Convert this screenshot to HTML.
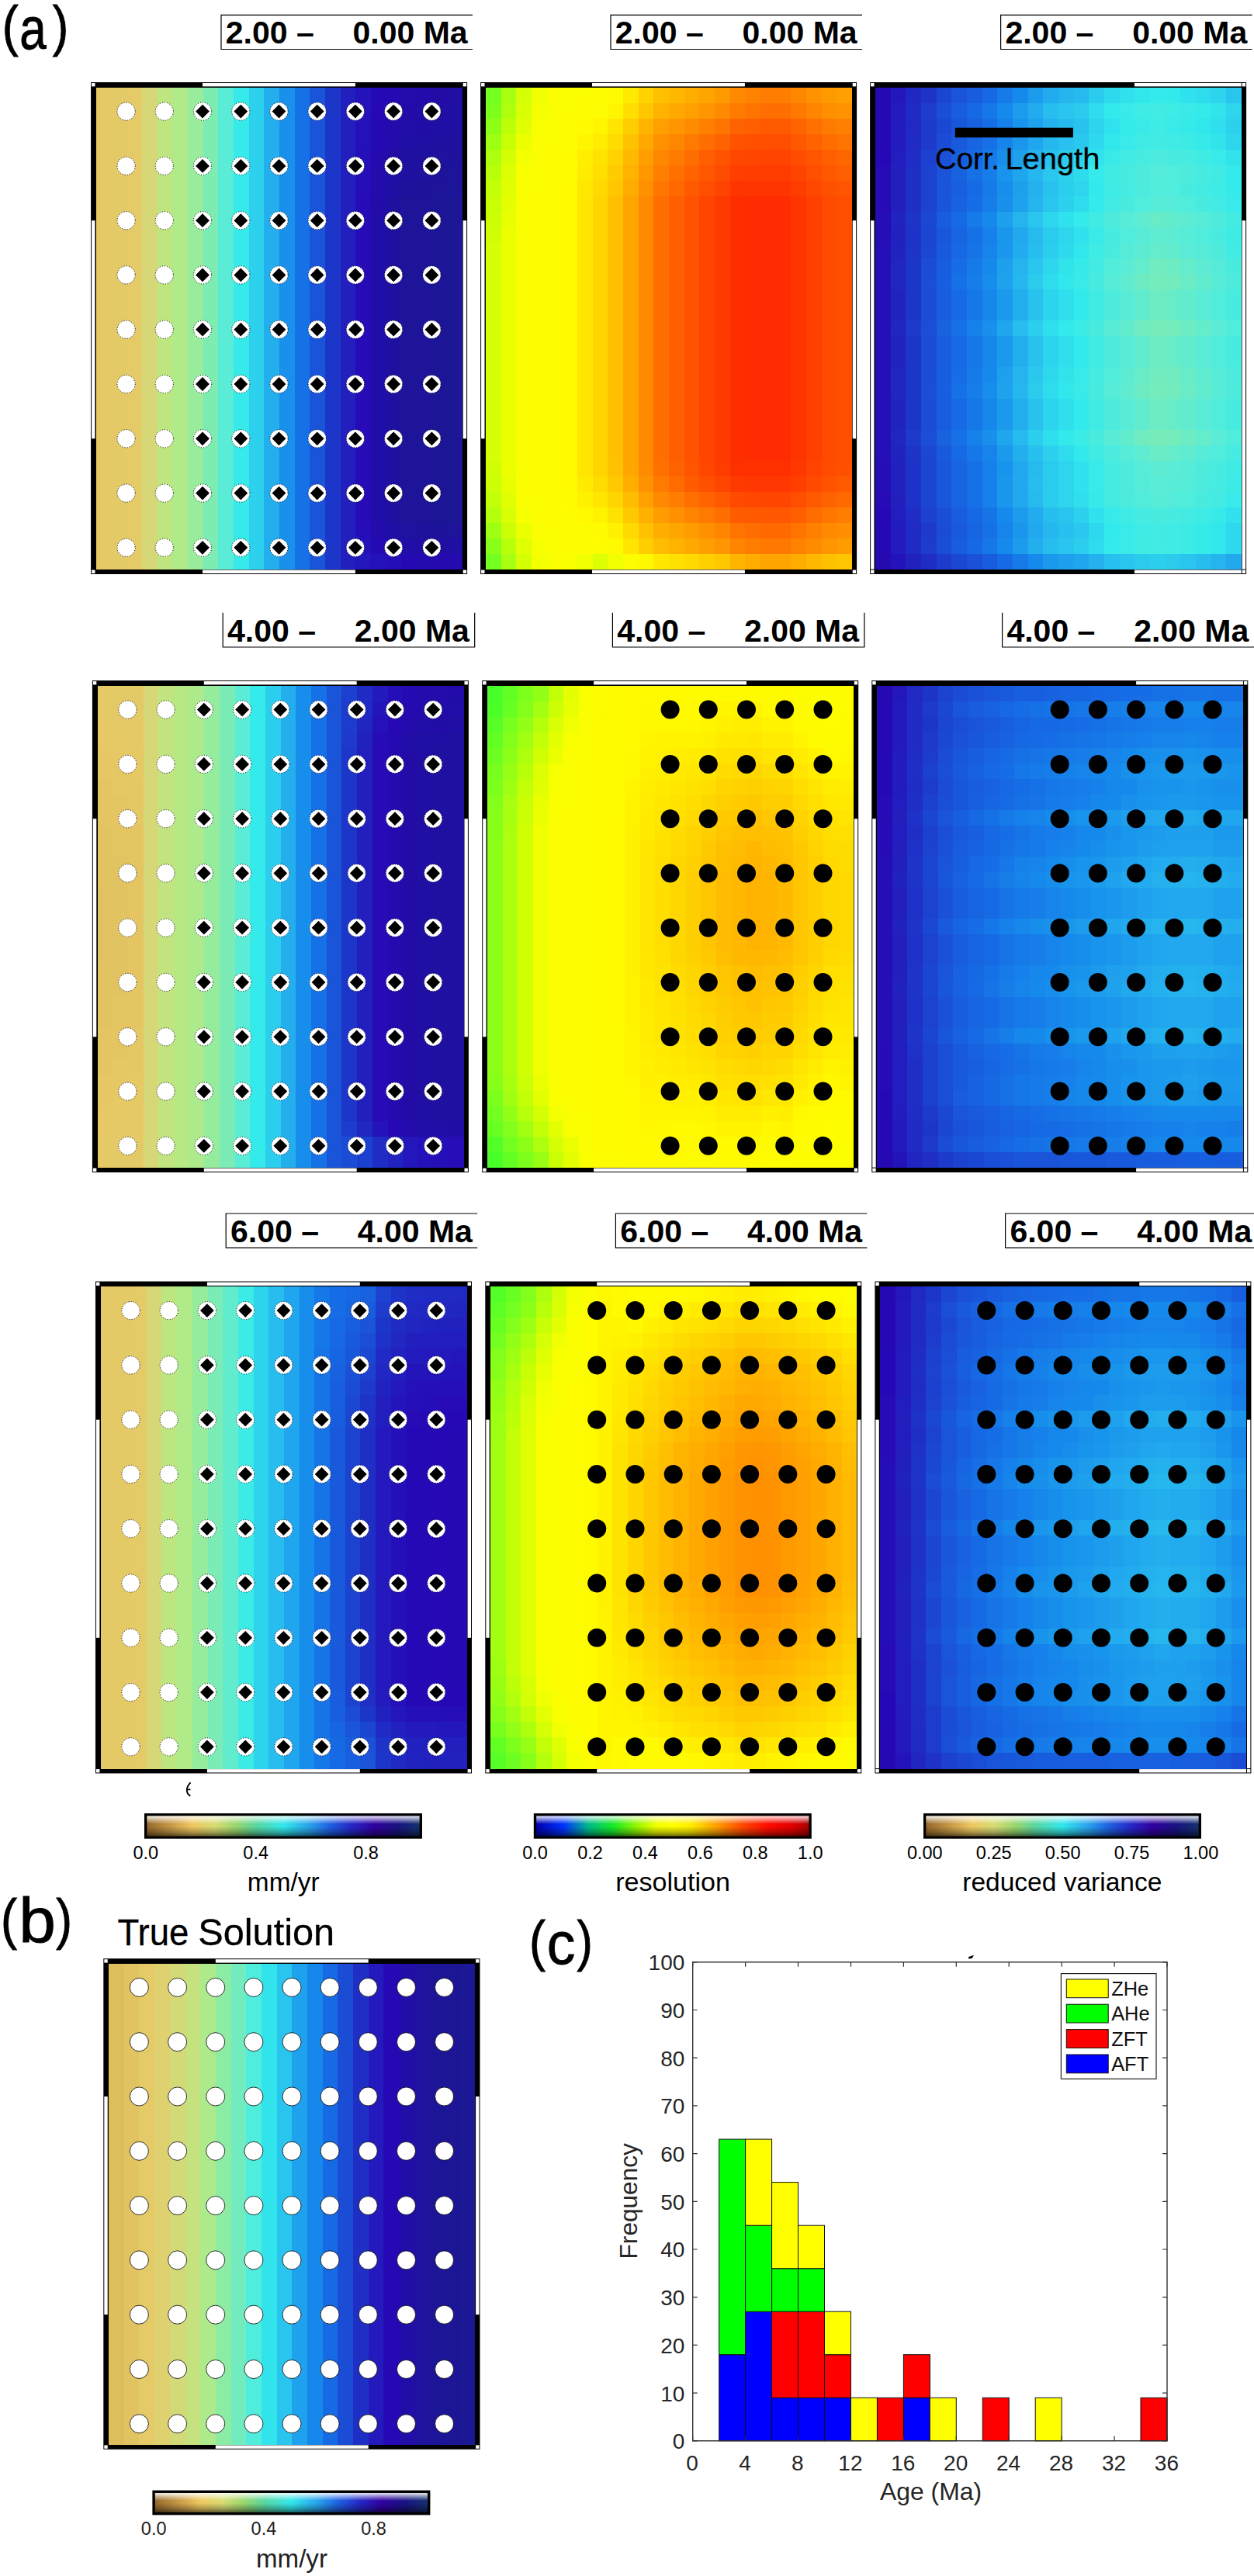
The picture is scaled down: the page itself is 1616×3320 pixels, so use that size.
<!DOCTYPE html>
<html lang="en"><head><meta charset="utf-8"><title>Figure</title><style>html,body{margin:0;padding:0;background:#fff}svg{display:block}text{white-space:pre}</style></head><body><svg width="1616" height="3320" viewBox="0 0 1616 3320"><defs><linearGradient id="shade" x1="0" y1="0" x2="0" y2="1"><stop offset="0" stop-color="#fff" stop-opacity="0.9"/><stop offset="0.15" stop-color="#fff" stop-opacity="0.55"/><stop offset="0.4" stop-color="#fff" stop-opacity="0"/><stop offset="0.52" stop-color="#000" stop-opacity="0"/><stop offset="0.8" stop-color="#000" stop-opacity="0.26"/><stop offset="1" stop-color="#000" stop-opacity="0.56"/></linearGradient><linearGradient id="g1" x1="0" y1="0" x2="1" y2="0"><stop offset="0.000" stop-color="#96692d"/><stop offset="0.100" stop-color="#cda04b"/><stop offset="0.167" stop-color="#eec85f"/><stop offset="0.250" stop-color="#d7dc73"/><stop offset="0.330" stop-color="#96d76e"/><stop offset="0.400" stop-color="#5ad7a0"/><stop offset="0.500" stop-color="#32e8ec"/><stop offset="0.600" stop-color="#28a0ec"/><stop offset="0.667" stop-color="#1e64e4"/><stop offset="0.750" stop-color="#2428c8"/><stop offset="0.833" stop-color="#3200a0"/><stop offset="0.920" stop-color="#181482"/><stop offset="1.000" stop-color="#14326e"/></linearGradient><linearGradient id="g2" x1="0" y1="0" x2="1" y2="0"><stop offset="0.000" stop-color="#0000af"/><stop offset="0.100" stop-color="#0032ff"/><stop offset="0.190" stop-color="#00b98c"/><stop offset="0.280" stop-color="#14eb28"/><stop offset="0.370" stop-color="#96f800"/><stop offset="0.440" stop-color="#f0ff00"/><stop offset="0.500" stop-color="#ffff00"/><stop offset="0.570" stop-color="#ffeb00"/><stop offset="0.660" stop-color="#ffa000"/><stop offset="0.760" stop-color="#ff4600"/><stop offset="0.850" stop-color="#ff0a00"/><stop offset="0.940" stop-color="#e10000"/><stop offset="1.000" stop-color="#aa0000"/></linearGradient><linearGradient id="g3" x1="0" y1="0" x2="1" y2="0"><stop offset="0.000" stop-color="#96692d"/><stop offset="0.100" stop-color="#cda04b"/><stop offset="0.167" stop-color="#eec85f"/><stop offset="0.250" stop-color="#d7dc73"/><stop offset="0.330" stop-color="#96d76e"/><stop offset="0.400" stop-color="#5ad7a0"/><stop offset="0.500" stop-color="#32e8ec"/><stop offset="0.600" stop-color="#28a0ec"/><stop offset="0.667" stop-color="#1e64e4"/><stop offset="0.750" stop-color="#2428c8"/><stop offset="0.833" stop-color="#3200a0"/><stop offset="0.920" stop-color="#181482"/><stop offset="1.000" stop-color="#14326e"/></linearGradient><linearGradient id="g4" x1="0" y1="0" x2="1" y2="0"><stop offset="0.000" stop-color="#96692d"/><stop offset="0.100" stop-color="#cda04b"/><stop offset="0.167" stop-color="#eec85f"/><stop offset="0.250" stop-color="#d7dc73"/><stop offset="0.330" stop-color="#96d76e"/><stop offset="0.400" stop-color="#5ad7a0"/><stop offset="0.500" stop-color="#32e8ec"/><stop offset="0.600" stop-color="#28a0ec"/><stop offset="0.667" stop-color="#1e64e4"/><stop offset="0.750" stop-color="#2428c8"/><stop offset="0.833" stop-color="#3200a0"/><stop offset="0.920" stop-color="#181482"/><stop offset="1.000" stop-color="#14326e"/></linearGradient></defs><rect width="1616" height="3320" fill="#fff"/><rect x="117.1" y="106.0" width="485.0" height="634.0" fill="#000"/>
<rect x="261.0" y="107.0" width="196.9" height="4.4" fill="#fff"/>
<rect x="261.0" y="734.6" width="196.9" height="4.4" fill="#fff"/>
<rect x="118.1" y="284.2" width="4.4" height="281.1" fill="#fff"/>
<rect x="596.7" y="284.2" width="4.4" height="281.1" fill="#fff"/>
<rect x="118.1" y="107.0" width="4.4" height="4.4" fill="#fff"/>
<rect x="118.1" y="734.6" width="4.4" height="4.4" fill="#fff"/>
<rect x="596.7" y="107.0" width="4.4" height="4.4" fill="#fff"/>
<rect x="596.7" y="734.6" width="4.4" height="4.4" fill="#fff"/>
<g shape-rendering="crispEdges">
<path fill="#e5c966" d="M124 113h20v20h-20zM124 133h20v20h-20zM124 153h20v20h-20zM124 173h20v20h-20zM124 193h20v20h-20zM124 213h20v20h-20zM124 233h20v20h-20zM124 253h20v20h-20zM124 273h20v20h-20zM124 293h20v20h-20zM124 313h20v20h-20zM124 333h20v20h-20zM124 353h20v20h-20zM124 373h20v20h-20zM124 393h20v20h-20zM124 413h20v20h-20zM124 433h20v20h-20zM124 453h20v20h-20zM124 473h20v20h-20zM124 493h20v21h-20zM124 514h20v20h-20zM124 534h20v20h-20zM124 554h20v20h-20zM124 574h20v20h-20zM124 594h20v20h-20zM124 614h20v20h-20zM124 634h20v20h-20zM124 654h20v20h-20zM124 674h20v20h-20zM124 694h20v20h-20zM124 714h20v20h-20z"/>
<path fill="#e4ca67" d="M144 113h19v20h-19zM144 133h19v20h-19zM144 153h19v20h-19zM144 173h19v20h-19zM144 193h19v20h-19zM144 213h19v20h-19zM144 233h19v20h-19zM144 253h19v20h-19zM144 273h19v20h-19zM144 293h19v20h-19zM144 313h19v20h-19zM144 333h19v20h-19zM144 353h19v20h-19zM144 373h19v20h-19zM144 393h19v20h-19zM144 413h19v20h-19zM144 433h19v20h-19zM144 453h19v20h-19zM144 473h19v20h-19zM144 493h19v21h-19zM144 514h19v20h-19zM144 534h19v20h-19zM144 554h19v20h-19zM144 574h19v20h-19zM144 594h19v20h-19zM144 614h19v20h-19zM144 634h19v20h-19zM144 654h19v20h-19zM144 674h19v20h-19zM144 694h19v20h-19zM144 714h19v20h-19z"/>
<path fill="#e4cb68" d="M163 113h20v20h-20zM163 133h20v20h-20zM163 153h20v20h-20zM163 173h20v20h-20zM163 193h20v20h-20zM163 213h20v20h-20zM163 233h20v20h-20zM163 253h20v20h-20zM163 273h20v20h-20zM163 293h20v20h-20zM163 313h20v20h-20zM163 333h20v20h-20zM163 353h20v20h-20zM163 373h20v20h-20zM163 393h20v20h-20zM163 413h20v20h-20zM163 433h20v20h-20zM163 453h20v20h-20zM163 473h20v20h-20zM163 493h20v21h-20zM163 514h20v20h-20zM163 534h20v20h-20zM163 554h20v20h-20zM163 574h20v20h-20zM163 594h20v20h-20zM163 614h20v20h-20zM163 634h20v20h-20zM163 654h20v20h-20zM163 674h20v20h-20zM163 694h20v20h-20zM163 714h20v20h-20z"/>
<path fill="#d6d776" d="M183 113h20v20h-20zM183 133h20v20h-20zM183 153h20v20h-20zM183 173h20v20h-20zM183 193h20v20h-20zM183 213h20v20h-20zM183 233h20v20h-20zM183 253h20v20h-20zM183 273h20v20h-20zM183 293h20v20h-20zM183 313h20v20h-20zM183 333h20v20h-20zM183 353h20v20h-20zM183 373h20v20h-20zM183 393h20v20h-20zM183 413h20v20h-20zM183 433h20v20h-20zM183 453h20v20h-20zM183 473h20v20h-20zM183 493h20v21h-20zM183 514h20v20h-20zM183 534h20v20h-20zM183 554h20v20h-20zM183 574h20v20h-20zM183 594h20v20h-20zM183 614h20v20h-20zM183 634h20v20h-20zM183 654h20v20h-20zM183 674h20v20h-20zM183 694h20v20h-20zM183 714h20v20h-20z"/>
<path fill="#bde681" d="M203 113h19v20h-19zM203 133h19v20h-19zM203 153h19v20h-19zM203 173h19v20h-19zM203 193h19v20h-19zM203 213h19v20h-19zM203 233h19v20h-19zM203 253h19v20h-19zM203 273h19v20h-19zM203 293h19v20h-19zM203 313h19v20h-19zM203 333h19v20h-19zM203 353h19v20h-19zM203 373h19v20h-19zM203 393h19v20h-19zM203 413h19v20h-19zM203 433h19v20h-19zM203 453h19v20h-19zM203 473h19v20h-19zM203 493h19v21h-19zM203 514h19v20h-19zM203 534h19v20h-19zM203 554h19v20h-19zM203 574h19v20h-19zM203 594h19v20h-19zM203 614h19v20h-19zM203 634h19v20h-19zM203 654h19v20h-19zM203 674h19v20h-19zM203 694h19v20h-19zM203 714h19v20h-19z"/>
<path fill="#b0ea89" d="M222 113h20v20h-20zM222 133h20v20h-20zM222 153h20v20h-20zM222 173h20v20h-20zM222 193h20v20h-20zM222 213h20v20h-20zM222 233h20v20h-20zM222 253h20v20h-20zM222 273h20v20h-20zM222 293h20v20h-20zM222 313h20v20h-20zM222 333h20v20h-20zM222 353h20v20h-20zM222 373h20v20h-20zM222 393h20v20h-20zM222 413h20v20h-20zM222 433h20v20h-20zM222 453h20v20h-20zM222 473h20v20h-20zM222 493h20v21h-20zM222 514h20v20h-20zM222 534h20v20h-20zM222 554h20v20h-20zM222 574h20v20h-20zM222 594h20v20h-20zM222 614h20v20h-20zM222 634h20v20h-20zM222 654h20v20h-20zM222 674h20v20h-20zM222 694h20v20h-20zM222 714h20v20h-20z"/>
<path fill="#98ec9b" d="M242 113h20v20h-20zM242 133h20v20h-20zM242 153h20v20h-20zM242 173h20v20h-20zM242 193h20v20h-20zM242 213h20v20h-20zM242 233h20v20h-20zM242 253h20v20h-20zM242 273h20v20h-20zM242 293h20v20h-20zM242 313h20v20h-20zM242 333h20v20h-20zM242 353h20v20h-20zM242 373h20v20h-20zM242 393h20v20h-20zM242 413h20v20h-20zM242 433h20v20h-20zM242 453h20v20h-20zM242 473h20v20h-20zM242 493h20v21h-20zM242 514h20v20h-20zM242 534h20v20h-20zM242 554h20v20h-20zM242 574h20v20h-20zM242 594h20v20h-20zM242 614h20v20h-20zM242 634h20v20h-20zM242 654h20v20h-20zM242 674h20v20h-20zM242 694h20v20h-20zM242 714h20v20h-20z"/>
<path fill="#7decb3" d="M262 113h19v20h-19zM262 133h19v20h-19zM262 153h19v20h-19zM262 173h19v20h-19zM262 193h19v20h-19zM262 213h19v20h-19zM262 233h19v20h-19zM262 253h19v20h-19zM262 273h19v20h-19zM262 293h19v20h-19zM262 313h19v20h-19zM262 333h19v20h-19zM262 353h19v20h-19zM262 373h19v20h-19zM262 393h19v20h-19zM262 413h19v20h-19zM262 433h19v20h-19zM262 453h19v20h-19zM262 473h19v20h-19zM262 493h19v21h-19zM262 514h19v20h-19zM262 534h19v20h-19zM262 554h19v20h-19zM262 574h19v20h-19zM262 594h19v20h-19zM262 614h19v20h-19zM262 634h19v20h-19zM262 654h19v20h-19zM262 674h19v20h-19zM262 694h19v20h-19zM262 714h19v20h-19z"/>
<path fill="#5aecd6" d="M281 113h20v20h-20zM281 133h20v20h-20zM281 153h20v20h-20zM281 173h20v20h-20zM281 193h20v20h-20zM281 213h20v20h-20zM281 233h20v20h-20zM281 253h20v20h-20zM281 273h20v20h-20zM281 293h20v20h-20zM281 313h20v20h-20zM281 333h20v20h-20zM281 353h20v20h-20zM281 373h20v20h-20zM281 393h20v20h-20zM281 413h20v20h-20zM281 433h20v20h-20zM281 453h20v20h-20zM281 473h20v20h-20zM281 493h20v21h-20zM281 514h20v20h-20zM281 534h20v20h-20zM281 554h20v20h-20zM281 574h20v20h-20zM281 594h20v20h-20zM281 614h20v20h-20zM281 634h20v20h-20zM281 654h20v20h-20zM281 674h20v20h-20zM281 694h20v20h-20zM281 714h20v20h-20z"/>
<path fill="#36eaea" d="M301 113h20v20h-20zM301 133h20v20h-20zM301 153h20v20h-20zM301 173h20v20h-20zM301 193h20v20h-20zM301 213h20v20h-20zM301 233h20v20h-20zM301 253h20v20h-20zM301 273h20v20h-20zM301 293h20v20h-20zM301 313h20v20h-20zM301 333h20v20h-20zM301 353h20v20h-20zM301 373h20v20h-20zM301 393h20v20h-20zM301 413h20v20h-20zM301 433h20v20h-20zM301 453h20v20h-20zM301 473h20v20h-20zM301 493h20v21h-20zM301 514h20v20h-20zM301 534h20v20h-20zM301 554h20v20h-20zM301 574h20v20h-20zM301 594h20v20h-20zM301 614h20v20h-20zM301 634h20v20h-20zM301 654h20v20h-20zM301 674h20v20h-20zM301 694h20v20h-20zM301 714h20v20h-20z"/>
<path fill="#2dd1ee" d="M321 113h19v20h-19zM321 133h19v20h-19zM321 153h19v20h-19zM321 173h19v20h-19zM321 193h19v20h-19zM321 213h19v20h-19zM321 233h19v20h-19zM321 253h19v20h-19zM321 273h19v20h-19zM321 293h19v20h-19zM321 313h19v20h-19zM321 333h19v20h-19zM321 353h19v20h-19zM321 373h19v20h-19zM321 393h19v20h-19zM321 413h19v20h-19zM321 433h19v20h-19zM321 453h19v20h-19zM321 473h19v20h-19zM321 493h19v21h-19zM321 514h19v20h-19zM321 534h19v20h-19zM321 554h19v20h-19zM321 574h19v20h-19zM321 594h19v20h-19zM321 614h19v20h-19zM321 634h19v20h-19zM321 654h19v20h-19zM321 674h19v20h-19zM321 694h19v20h-19zM321 714h19v20h-19z"/>
<path fill="#23aeee" d="M340 113h20v20h-20zM340 133h20v20h-20zM340 153h20v20h-20zM340 173h20v20h-20zM340 193h20v20h-20zM340 213h20v20h-20zM340 233h20v20h-20zM340 253h20v20h-20zM340 273h20v20h-20zM340 293h20v20h-20zM340 313h20v20h-20zM340 333h20v20h-20zM340 353h20v20h-20zM340 373h20v20h-20zM340 393h20v20h-20zM340 413h20v20h-20zM340 433h20v20h-20zM340 453h20v20h-20zM340 473h20v20h-20zM340 493h20v21h-20zM340 514h20v20h-20zM340 534h20v20h-20zM340 554h20v20h-20zM340 574h20v20h-20zM340 594h20v20h-20zM340 614h20v20h-20zM340 634h20v20h-20zM340 654h20v20h-20zM340 674h20v20h-20zM340 694h20v20h-20zM340 714h20v20h-20z"/>
<path fill="#1890ec" d="M360 113h20v20h-20zM360 133h20v20h-20zM360 153h20v20h-20zM360 173h20v20h-20zM360 193h20v20h-20zM360 213h20v20h-20zM360 233h20v20h-20zM360 253h20v20h-20zM360 273h20v20h-20zM360 293h20v20h-20zM360 313h20v20h-20zM360 333h20v20h-20zM360 353h20v20h-20zM360 373h20v20h-20zM360 393h20v20h-20zM360 413h20v20h-20zM360 433h20v20h-20zM360 453h20v20h-20zM360 473h20v20h-20zM360 493h20v21h-20zM360 514h20v20h-20zM360 534h20v20h-20zM360 554h20v20h-20zM360 574h20v20h-20zM360 594h20v20h-20zM360 614h20v20h-20zM360 634h20v20h-20zM360 654h20v20h-20zM360 674h20v20h-20zM360 694h20v20h-20zM360 714h20v20h-20z"/>
<path fill="#1670e6" d="M380 113h19v20h-19zM380 133h19v20h-19zM380 153h19v20h-19zM380 173h19v20h-19zM380 193h19v20h-19zM380 213h19v20h-19zM380 233h19v20h-19zM380 253h19v20h-19zM380 273h19v20h-19zM380 293h19v20h-19zM380 313h19v20h-19zM380 333h19v20h-19zM380 353h19v20h-19zM380 373h19v20h-19zM380 393h19v20h-19zM380 413h19v20h-19zM380 433h19v20h-19zM380 453h19v20h-19zM380 473h19v20h-19zM380 493h19v21h-19zM380 514h19v20h-19zM380 534h19v20h-19zM380 554h19v20h-19zM380 574h19v20h-19zM380 594h19v20h-19zM380 614h19v20h-19zM380 634h19v20h-19zM380 654h19v20h-19zM380 674h19v20h-19zM380 694h19v20h-19zM380 714h19v20h-19z"/>
<path fill="#1954d9" d="M399 113h20v20h-20zM399 133h20v20h-20zM399 153h20v20h-20zM399 173h20v20h-20zM399 193h20v20h-20zM399 213h20v20h-20zM399 233h20v20h-20zM399 253h20v20h-20zM399 273h20v20h-20zM399 293h20v20h-20zM399 313h20v20h-20zM399 333h20v20h-20zM399 353h20v20h-20zM399 373h20v20h-20zM399 393h20v20h-20zM399 413h20v20h-20zM399 433h20v20h-20zM399 453h20v20h-20zM399 473h20v20h-20zM399 493h20v21h-20zM399 514h20v20h-20zM399 534h20v20h-20zM399 554h20v20h-20zM399 574h20v20h-20zM399 594h20v20h-20zM399 614h20v20h-20zM399 634h20v20h-20zM399 654h20v20h-20zM399 674h20v20h-20zM399 694h20v20h-20zM399 714h20v20h-20z"/>
<path fill="#1d36ca" d="M419 113h20v20h-20zM419 133h20v20h-20zM419 153h20v20h-20zM419 173h20v20h-20zM419 193h20v20h-20zM419 213h20v20h-20zM419 233h20v20h-20zM419 253h20v20h-20zM419 273h20v20h-20zM419 293h20v20h-20zM419 313h20v20h-20zM419 333h20v20h-20zM419 353h20v20h-20zM419 373h20v20h-20zM419 393h20v20h-20zM419 413h20v20h-20zM419 433h20v20h-20zM419 453h20v20h-20zM419 473h20v20h-20zM419 493h20v21h-20zM419 514h20v20h-20zM419 534h20v20h-20zM419 554h20v20h-20zM419 574h20v20h-20zM419 594h20v20h-20zM419 614h20v20h-20zM419 634h20v20h-20zM419 654h20v20h-20zM419 674h20v20h-20zM419 694h20v20h-20zM419 714h20v20h-20z"/>
<path fill="#221fbe" d="M439 113h19v20h-19zM439 133h19v20h-19zM439 153h19v20h-19zM439 173h19v20h-19zM439 193h19v20h-19zM439 213h19v20h-19zM439 233h19v20h-19zM439 253h19v20h-19zM439 273h19v20h-19zM439 293h19v20h-19zM439 313h19v20h-19zM439 333h19v20h-19zM439 353h19v20h-19zM439 373h19v20h-19zM439 393h19v20h-19zM439 413h19v20h-19zM439 433h19v20h-19zM439 453h19v20h-19zM439 473h19v20h-19zM439 493h19v21h-19zM439 514h19v20h-19zM439 534h19v20h-19zM439 554h19v20h-19zM439 574h19v20h-19zM439 594h19v20h-19zM439 614h19v20h-19zM439 634h19v20h-19zM439 654h19v20h-19zM439 674h19v20h-19zM439 694h19v20h-19zM439 714h19v20h-19z"/>
<path fill="#2413ba" d="M458 113h20v20h-20zM458 133h20v20h-20z"/>
<path fill="#2609b6" d="M478 113h20v20h-20z"/>
<path fill="#2509b2" d="M498 113h19v20h-19zM478 173h20v20h-20zM517 714h20v20h-20z"/>
<path fill="#220cab" d="M517 113h20v20h-20zM498 173h19v20h-19zM478 233h20v20h-20z"/>
<path fill="#220ca9" d="M537 113h20v20h-20zM517 133h20v20h-20zM478 253h20v20h-20z"/>
<path fill="#210da6" d="M557 113h19v20h-19zM537 153h20v20h-20zM498 193h19v20h-19zM537 694h20v20h-20z"/>
<path fill="#200ea5" d="M576 113h20v20h-20zM557 133h19v20h-19zM557 694h19v20h-19z"/>
<path fill="#2608b5" d="M478 133h20v20h-20z"/>
<path fill="#240aaf" d="M498 133h19v20h-19zM478 193h20v20h-20zM498 694h19v20h-19zM557 714h19v20h-19z"/>
<path fill="#210da8" d="M537 133h20v20h-20zM517 153h20v20h-20zM478 273h20v20h-20zM478 293h20v20h-20zM478 313h20v20h-20zM478 333h20v20h-20zM478 353h20v20h-20zM478 373h20v20h-20zM478 393h20v20h-20zM478 413h20v20h-20zM478 433h20v20h-20zM478 453h20v20h-20zM478 473h20v20h-20zM478 493h20v21h-20zM478 514h20v20h-20zM478 534h20v20h-20zM478 554h20v20h-20zM478 574h20v20h-20zM478 594h20v20h-20zM478 614h20v20h-20zM478 634h20v20h-20zM478 654h20v20h-20zM517 694h20v20h-20z"/>
<path fill="#200fa4" d="M576 133h20v20h-20zM557 153h19v20h-19zM517 173h20v20h-20zM498 213h19v20h-19zM498 674h19v20h-19z"/>
<path fill="#2411b9" d="M458 153h20v20h-20zM458 173h20v20h-20zM458 694h20v20h-20zM478 714h20v20h-20z"/>
<path fill="#2509b3" d="M478 153h20v20h-20zM478 694h20v20h-20z"/>
<path fill="#230bae" d="M498 153h19v20h-19zM576 714h20v20h-20z"/>
<path fill="#1f0fa3" d="M576 153h20v20h-20zM537 173h20v20h-20zM498 233h19v20h-19zM576 694h20v20h-20z"/>
<path fill="#1f10a1" d="M557 173h19v20h-19zM517 193h20v20h-20z"/>
<path fill="#1f11a0" d="M576 173h20v20h-20zM537 193h20v20h-20zM498 253h19v20h-19z"/>
<path fill="#250fb8" d="M458 193h20v20h-20z"/>
<path fill="#1e129e" d="M557 193h19v20h-19zM537 213h20v20h-20zM517 674h20v20h-20z"/>
<path fill="#1e129d" d="M576 193h20v20h-20zM517 233h20v20h-20zM537 674h20v20h-20z"/>
<path fill="#250db8" d="M458 213h20v20h-20zM458 233h20v20h-20zM458 674h20v20h-20zM498 714h19v20h-19z"/>
<path fill="#230bac" d="M478 213h20v20h-20zM478 674h20v20h-20z"/>
<path fill="#1e119f" d="M517 213h20v20h-20zM498 273h19v20h-19zM498 293h19v20h-19zM498 313h19v20h-19zM498 333h19v20h-19zM498 353h19v20h-19zM498 373h19v20h-19zM498 393h19v20h-19zM498 413h19v20h-19zM498 433h19v20h-19zM498 453h19v20h-19zM498 473h19v20h-19zM498 493h19v21h-19zM498 514h19v20h-19zM498 534h19v20h-19zM498 554h19v20h-19zM498 574h19v20h-19zM498 594h19v20h-19zM498 614h19v20h-19zM498 634h19v20h-19zM498 654h19v20h-19z"/>
<path fill="#1d139b" d="M557 213h19v20h-19zM537 233h20v20h-20zM557 674h19v20h-19z"/>
<path fill="#1d149a" d="M576 213h20v20h-20zM517 253h20v20h-20zM517 273h20v20h-20zM517 293h20v20h-20zM517 313h20v20h-20zM517 333h20v20h-20zM517 353h20v20h-20zM517 373h20v20h-20zM517 393h20v20h-20zM517 413h20v20h-20zM517 433h20v20h-20zM517 453h20v20h-20zM517 473h20v20h-20zM517 493h20v21h-20zM517 514h20v20h-20zM517 534h20v20h-20zM517 554h20v20h-20zM517 574h20v20h-20zM517 594h20v20h-20zM517 614h20v20h-20zM517 634h20v20h-20zM517 654h20v20h-20zM576 674h20v20h-20z"/>
<path fill="#1d1499" d="M557 233h19v20h-19zM537 253h20v20h-20zM537 273h20v20h-20zM537 293h20v20h-20zM537 313h20v20h-20zM537 333h20v20h-20zM537 353h20v20h-20zM537 373h20v20h-20zM537 393h20v20h-20zM537 413h20v20h-20zM537 433h20v20h-20zM537 453h20v20h-20zM537 473h20v20h-20zM537 493h20v21h-20zM537 514h20v20h-20zM537 534h20v20h-20zM537 554h20v20h-20zM537 574h20v20h-20zM537 594h20v20h-20zM537 614h20v20h-20zM537 634h20v20h-20zM537 654h20v20h-20z"/>
<path fill="#1c1598" d="M576 233h20v20h-20zM557 253h19v20h-19z"/>
<path fill="#260bb7" d="M458 253h20v20h-20zM458 273h20v20h-20zM458 293h20v20h-20zM458 313h20v20h-20zM458 333h20v20h-20zM458 353h20v20h-20zM458 373h20v20h-20zM458 393h20v20h-20zM458 413h20v20h-20zM458 433h20v20h-20zM458 453h20v20h-20zM458 473h20v20h-20zM458 493h20v21h-20zM458 514h20v20h-20zM458 534h20v20h-20zM458 554h20v20h-20zM458 574h20v20h-20zM458 594h20v20h-20zM458 614h20v20h-20zM458 634h20v20h-20zM458 654h20v20h-20z"/>
<path fill="#1c1795" d="M576 253h20v20h-20zM576 273h20v20h-20zM576 293h20v20h-20zM576 313h20v20h-20zM576 333h20v20h-20zM576 353h20v20h-20zM576 373h20v20h-20zM576 393h20v20h-20zM576 413h20v20h-20zM576 433h20v20h-20zM576 453h20v20h-20zM576 473h20v20h-20zM576 493h20v21h-20zM576 514h20v20h-20zM576 534h20v20h-20zM576 554h20v20h-20zM576 574h20v20h-20zM576 594h20v20h-20zM576 614h20v20h-20zM576 634h20v20h-20zM576 654h20v20h-20z"/>
<path fill="#1c1697" d="M557 273h19v20h-19zM557 293h19v20h-19zM557 313h19v20h-19zM557 333h19v20h-19zM557 353h19v20h-19zM557 373h19v20h-19zM557 393h19v20h-19zM557 413h19v20h-19zM557 433h19v20h-19zM557 453h19v20h-19zM557 473h19v20h-19zM557 493h19v21h-19zM557 514h19v20h-19zM557 534h19v20h-19zM557 554h19v20h-19zM557 574h19v20h-19zM557 594h19v20h-19zM557 614h19v20h-19zM557 634h19v20h-19zM557 654h19v20h-19z"/>
<path fill="#2317bb" d="M458 714h20v20h-20z"/>
<path fill="#240ab1" d="M537 714h20v20h-20z"/>
</g>
<g fill="#fff" stroke="#000" stroke-width="1" stroke-dasharray="1.1 2.1"><circle cx="162.6" cy="143.6" r="11.6"/><circle cx="211.8" cy="143.6" r="11.6"/><circle cx="261.0" cy="143.6" r="11.6"/><circle cx="310.3" cy="143.6" r="11.6"/><circle cx="359.5" cy="143.6" r="11.6"/><circle cx="408.7" cy="143.6" r="11.6"/><circle cx="457.9" cy="143.6" r="11.6"/><circle cx="507.1" cy="143.6" r="11.6"/><circle cx="556.4" cy="143.6" r="11.6"/><circle cx="162.6" cy="213.9" r="11.6"/><circle cx="211.8" cy="213.9" r="11.6"/><circle cx="261.0" cy="213.9" r="11.6"/><circle cx="310.3" cy="213.9" r="11.6"/><circle cx="359.5" cy="213.9" r="11.6"/><circle cx="408.7" cy="213.9" r="11.6"/><circle cx="457.9" cy="213.9" r="11.6"/><circle cx="507.1" cy="213.9" r="11.6"/><circle cx="556.4" cy="213.9" r="11.6"/><circle cx="162.6" cy="284.2" r="11.6"/><circle cx="211.8" cy="284.2" r="11.6"/><circle cx="261.0" cy="284.2" r="11.6"/><circle cx="310.3" cy="284.2" r="11.6"/><circle cx="359.5" cy="284.2" r="11.6"/><circle cx="408.7" cy="284.2" r="11.6"/><circle cx="457.9" cy="284.2" r="11.6"/><circle cx="507.1" cy="284.2" r="11.6"/><circle cx="556.4" cy="284.2" r="11.6"/><circle cx="162.6" cy="354.4" r="11.6"/><circle cx="211.8" cy="354.4" r="11.6"/><circle cx="261.0" cy="354.4" r="11.6"/><circle cx="310.3" cy="354.4" r="11.6"/><circle cx="359.5" cy="354.4" r="11.6"/><circle cx="408.7" cy="354.4" r="11.6"/><circle cx="457.9" cy="354.4" r="11.6"/><circle cx="507.1" cy="354.4" r="11.6"/><circle cx="556.4" cy="354.4" r="11.6"/><circle cx="162.6" cy="424.7" r="11.6"/><circle cx="211.8" cy="424.7" r="11.6"/><circle cx="261.0" cy="424.7" r="11.6"/><circle cx="310.3" cy="424.7" r="11.6"/><circle cx="359.5" cy="424.7" r="11.6"/><circle cx="408.7" cy="424.7" r="11.6"/><circle cx="457.9" cy="424.7" r="11.6"/><circle cx="507.1" cy="424.7" r="11.6"/><circle cx="556.4" cy="424.7" r="11.6"/><circle cx="162.6" cy="495.0" r="11.6"/><circle cx="211.8" cy="495.0" r="11.6"/><circle cx="261.0" cy="495.0" r="11.6"/><circle cx="310.3" cy="495.0" r="11.6"/><circle cx="359.5" cy="495.0" r="11.6"/><circle cx="408.7" cy="495.0" r="11.6"/><circle cx="457.9" cy="495.0" r="11.6"/><circle cx="507.1" cy="495.0" r="11.6"/><circle cx="556.4" cy="495.0" r="11.6"/><circle cx="162.6" cy="565.3" r="11.6"/><circle cx="211.8" cy="565.3" r="11.6"/><circle cx="261.0" cy="565.3" r="11.6"/><circle cx="310.3" cy="565.3" r="11.6"/><circle cx="359.5" cy="565.3" r="11.6"/><circle cx="408.7" cy="565.3" r="11.6"/><circle cx="457.9" cy="565.3" r="11.6"/><circle cx="507.1" cy="565.3" r="11.6"/><circle cx="556.4" cy="565.3" r="11.6"/><circle cx="162.6" cy="635.6" r="11.6"/><circle cx="211.8" cy="635.6" r="11.6"/><circle cx="261.0" cy="635.6" r="11.6"/><circle cx="310.3" cy="635.6" r="11.6"/><circle cx="359.5" cy="635.6" r="11.6"/><circle cx="408.7" cy="635.6" r="11.6"/><circle cx="457.9" cy="635.6" r="11.6"/><circle cx="507.1" cy="635.6" r="11.6"/><circle cx="556.4" cy="635.6" r="11.6"/><circle cx="162.6" cy="705.8" r="11.6"/><circle cx="211.8" cy="705.8" r="11.6"/><circle cx="261.0" cy="705.8" r="11.6"/><circle cx="310.3" cy="705.8" r="11.6"/><circle cx="359.5" cy="705.8" r="11.6"/><circle cx="408.7" cy="705.8" r="11.6"/><circle cx="457.9" cy="705.8" r="11.6"/><circle cx="507.1" cy="705.8" r="11.6"/><circle cx="556.4" cy="705.8" r="11.6"/></g>
<path fill="#000" d="M252.1 143.6l8.9 -8.9l8.9 8.9l-8.9 8.9zM301.4 143.6l8.9 -8.9l8.9 8.9l-8.9 8.9zM350.6 143.6l8.9 -8.9l8.9 8.9l-8.9 8.9zM399.8 143.6l8.9 -8.9l8.9 8.9l-8.9 8.9zM449.0 143.6l8.9 -8.9l8.9 8.9l-8.9 8.9zM498.2 143.6l8.9 -8.9l8.9 8.9l-8.9 8.9zM547.5 143.6l8.9 -8.9l8.9 8.9l-8.9 8.9zM252.1 213.9l8.9 -8.9l8.9 8.9l-8.9 8.9zM301.4 213.9l8.9 -8.9l8.9 8.9l-8.9 8.9zM350.6 213.9l8.9 -8.9l8.9 8.9l-8.9 8.9zM399.8 213.9l8.9 -8.9l8.9 8.9l-8.9 8.9zM449.0 213.9l8.9 -8.9l8.9 8.9l-8.9 8.9zM498.2 213.9l8.9 -8.9l8.9 8.9l-8.9 8.9zM547.5 213.9l8.9 -8.9l8.9 8.9l-8.9 8.9zM252.1 284.2l8.9 -8.9l8.9 8.9l-8.9 8.9zM301.4 284.2l8.9 -8.9l8.9 8.9l-8.9 8.9zM350.6 284.2l8.9 -8.9l8.9 8.9l-8.9 8.9zM399.8 284.2l8.9 -8.9l8.9 8.9l-8.9 8.9zM449.0 284.2l8.9 -8.9l8.9 8.9l-8.9 8.9zM498.2 284.2l8.9 -8.9l8.9 8.9l-8.9 8.9zM547.5 284.2l8.9 -8.9l8.9 8.9l-8.9 8.9zM252.1 354.4l8.9 -8.9l8.9 8.9l-8.9 8.9zM301.4 354.4l8.9 -8.9l8.9 8.9l-8.9 8.9zM350.6 354.4l8.9 -8.9l8.9 8.9l-8.9 8.9zM399.8 354.4l8.9 -8.9l8.9 8.9l-8.9 8.9zM449.0 354.4l8.9 -8.9l8.9 8.9l-8.9 8.9zM498.2 354.4l8.9 -8.9l8.9 8.9l-8.9 8.9zM547.5 354.4l8.9 -8.9l8.9 8.9l-8.9 8.9zM252.1 424.7l8.9 -8.9l8.9 8.9l-8.9 8.9zM301.4 424.7l8.9 -8.9l8.9 8.9l-8.9 8.9zM350.6 424.7l8.9 -8.9l8.9 8.9l-8.9 8.9zM399.8 424.7l8.9 -8.9l8.9 8.9l-8.9 8.9zM449.0 424.7l8.9 -8.9l8.9 8.9l-8.9 8.9zM498.2 424.7l8.9 -8.9l8.9 8.9l-8.9 8.9zM547.5 424.7l8.9 -8.9l8.9 8.9l-8.9 8.9zM252.1 495.0l8.9 -8.9l8.9 8.9l-8.9 8.9zM301.4 495.0l8.9 -8.9l8.9 8.9l-8.9 8.9zM350.6 495.0l8.9 -8.9l8.9 8.9l-8.9 8.9zM399.8 495.0l8.9 -8.9l8.9 8.9l-8.9 8.9zM449.0 495.0l8.9 -8.9l8.9 8.9l-8.9 8.9zM498.2 495.0l8.9 -8.9l8.9 8.9l-8.9 8.9zM547.5 495.0l8.9 -8.9l8.9 8.9l-8.9 8.9zM252.1 565.3l8.9 -8.9l8.9 8.9l-8.9 8.9zM301.4 565.3l8.9 -8.9l8.9 8.9l-8.9 8.9zM350.6 565.3l8.9 -8.9l8.9 8.9l-8.9 8.9zM399.8 565.3l8.9 -8.9l8.9 8.9l-8.9 8.9zM449.0 565.3l8.9 -8.9l8.9 8.9l-8.9 8.9zM498.2 565.3l8.9 -8.9l8.9 8.9l-8.9 8.9zM547.5 565.3l8.9 -8.9l8.9 8.9l-8.9 8.9zM252.1 635.6l8.9 -8.9l8.9 8.9l-8.9 8.9zM301.4 635.6l8.9 -8.9l8.9 8.9l-8.9 8.9zM350.6 635.6l8.9 -8.9l8.9 8.9l-8.9 8.9zM399.8 635.6l8.9 -8.9l8.9 8.9l-8.9 8.9zM449.0 635.6l8.9 -8.9l8.9 8.9l-8.9 8.9zM498.2 635.6l8.9 -8.9l8.9 8.9l-8.9 8.9zM547.5 635.6l8.9 -8.9l8.9 8.9l-8.9 8.9zM252.1 705.8l8.9 -8.9l8.9 8.9l-8.9 8.9zM301.4 705.8l8.9 -8.9l8.9 8.9l-8.9 8.9zM350.6 705.8l8.9 -8.9l8.9 8.9l-8.9 8.9zM399.8 705.8l8.9 -8.9l8.9 8.9l-8.9 8.9zM449.0 705.8l8.9 -8.9l8.9 8.9l-8.9 8.9zM498.2 705.8l8.9 -8.9l8.9 8.9l-8.9 8.9zM547.5 705.8l8.9 -8.9l8.9 8.9l-8.9 8.9z"/>
<path d="M609.0 19.3H285.0V63.5H609.0" fill="none" stroke="#000" stroke-width="1.2"/>
<text y="56.0" font-family='"Liberation Sans", sans-serif' font-weight="bold" font-size="40.5" fill="#000"><tspan x="290.8" textLength="114" lengthAdjust="spacingAndGlyphs">2.00 –</tspan><tspan x="454.6" textLength="148" lengthAdjust="spacingAndGlyphs">0.00 Ma</tspan></text>
<rect x="619.1" y="106.0" width="485.0" height="634.0" fill="#000"/>
<rect x="763.0" y="107.0" width="196.9" height="4.4" fill="#fff"/>
<rect x="763.0" y="734.6" width="196.9" height="4.4" fill="#fff"/>
<rect x="620.1" y="284.2" width="4.4" height="281.1" fill="#fff"/>
<rect x="1098.7" y="284.2" width="4.4" height="281.1" fill="#fff"/>
<rect x="620.1" y="107.0" width="4.4" height="4.4" fill="#fff"/>
<rect x="620.1" y="734.6" width="4.4" height="4.4" fill="#fff"/>
<rect x="1098.7" y="107.0" width="4.4" height="4.4" fill="#fff"/>
<rect x="1098.7" y="734.6" width="4.4" height="4.4" fill="#fff"/>
<g shape-rendering="crispEdges">
<path fill="#73ff1f" d="M626 113h20v20h-20zM626 714h20v20h-20z"/>
<path fill="#a8ff0f" d="M646 113h19v20h-19zM646 714h19v20h-19z"/>
<path fill="#d4ff04" d="M665 113h20v20h-20zM646 193h19v20h-19zM626 313h20v20h-20zM626 333h20v20h-20zM626 353h20v20h-20zM626 373h20v20h-20zM626 393h20v20h-20zM626 413h20v20h-20zM626 433h20v20h-20zM626 453h20v20h-20zM626 473h20v20h-20zM626 493h20v21h-20zM626 514h20v20h-20zM626 534h20v20h-20zM626 554h20v20h-20zM626 574h20v20h-20zM665 714h20v20h-20z"/>
<path fill="#f0ff01" d="M685 113h20v20h-20zM744 714h20v20h-20zM783 714h20v20h-20z"/>
<path fill="#fbfe00" d="M705 113h39v20h-39zM705 133h19v20h-19zM685 173h20v20h-20zM685 193h20v20h-20zM665 233h20v20h-20zM665 253h20v20h-20zM665 273h20v20h-20zM665 293h20v20h-20zM665 594h20v20h-20zM665 614h20v20h-20zM665 634h20v20h-20zM685 674h20v20h-20zM705 714h19v20h-19z"/>
<path fill="#fcfd00" d="M744 113h39v20h-39zM724 133h20v20h-20zM705 153h19v20h-19zM705 173h19v20h-19zM685 213h20v20h-20zM685 233h20v20h-20zM665 313h20v20h-20zM665 333h20v20h-20zM665 353h20v20h-20zM665 373h20v20h-20zM665 393h20v20h-20zM665 413h20v20h-20zM665 433h20v20h-20zM665 453h20v20h-20zM665 473h20v20h-20zM665 493h20v21h-20zM665 514h20v20h-20zM665 534h20v20h-20zM665 554h20v20h-20zM665 574h20v20h-20zM685 634h20v20h-20zM685 654h20v20h-20zM705 674h39v20h-39zM705 694h39v20h-39zM803 714h20v20h-20z"/>
<path fill="#fefb00" d="M783 113h20v20h-20zM724 193h20v20h-20zM724 213h20v20h-20zM724 634h20v20h-20zM764 674h19v20h-19z"/>
<path fill="#ffea00" d="M803 113h20v20h-20zM744 614h20v20h-20z"/>
<path fill="#ffd200" d="M823 113h19v20h-19zM783 193h20v20h-20z"/>
<path fill="#ffc000" d="M842 113h20v20h-20zM783 253h20v20h-20zM783 273h20v20h-20zM783 293h20v20h-20zM783 313h20v20h-20zM783 333h20v20h-20zM783 353h20v20h-20zM783 373h20v20h-20zM783 393h20v20h-20zM783 413h20v20h-20zM783 433h20v20h-20zM783 453h20v20h-20zM783 473h20v20h-20zM783 493h20v21h-20zM783 514h20v20h-20zM783 534h20v20h-20zM783 554h20v20h-20zM783 574h20v20h-20zM1059 714h19v20h-19z"/>
<path fill="#ffb700" d="M862 113h20v20h-20zM1039 714h20v20h-20z"/>
<path fill="#ffae00" d="M882 113h19v20h-19zM803 614h20v20h-20zM842 674h20v20h-20z"/>
<path fill="#ffa500" d="M901 113h20v20h-20zM803 253h20v20h-20zM803 273h20v20h-20zM803 293h20v20h-20zM803 313h20v20h-20zM803 333h20v20h-20zM803 353h20v20h-20zM803 373h20v20h-20zM803 393h20v20h-20zM803 413h20v20h-20zM803 433h20v20h-20zM803 453h20v20h-20zM803 473h20v20h-20zM803 493h20v21h-20zM803 514h20v20h-20zM803 534h20v20h-20zM803 554h20v20h-20zM803 574h20v20h-20zM862 674h20v20h-20zM980 714h39v20h-39z"/>
<path fill="#ff9900" d="M921 113h20v20h-20zM1059 113h19v20h-19z"/>
<path fill="#ff8900" d="M941 113h19v20h-19zM921 133h20v20h-20zM823 253h19v20h-19zM823 273h19v20h-19zM823 293h19v20h-19zM823 313h19v20h-19zM823 333h19v20h-19zM823 353h19v20h-19zM823 373h19v20h-19zM823 393h19v20h-19zM823 413h19v20h-19zM823 433h19v20h-19zM823 453h19v20h-19zM823 473h19v20h-19zM823 493h19v21h-19zM823 514h19v20h-19zM823 534h19v20h-19zM823 554h19v20h-19zM823 574h19v20h-19zM842 634h20v20h-20zM1059 674h19v20h-19z"/>
<path fill="#ff8200" d="M960 113h20v20h-20zM1019 694h20v20h-20z"/>
<path fill="#ff7d00" d="M980 113h39v20h-39zM862 634h20v20h-20zM1078 654h20v20h-20zM960 694h20v20h-20z"/>
<path fill="#ff8700" d="M1019 113h20v20h-20zM862 173h20v20h-20zM842 193h20v20h-20z"/>
<path fill="#ff9200" d="M1039 113h20v20h-20zM1078 133h20v20h-20zM842 173h20v20h-20zM823 614h19v20h-19z"/>
<path fill="#ffa000" d="M1078 113h20v20h-20zM882 133h19v20h-19zM842 153h20v20h-20zM823 634h19v20h-19z"/>
<path fill="#7dff1c" d="M626 133h20v20h-20z"/>
<path fill="#adff0d" d="M646 133h19v20h-19zM626 193h20v20h-20z"/>
<path fill="#d8ff03" d="M665 133h20v20h-20zM646 654h19v20h-19z"/>
<path fill="#f4ff01" d="M685 133h20v20h-20zM665 193h20v20h-20zM685 714h20v20h-20z"/>
<path fill="#fdfc00" d="M744 133h39v20h-39zM724 153h20v20h-20zM724 173h20v20h-20zM705 193h19v20h-19zM705 213h19v20h-19zM705 233h19v20h-19zM685 253h39v20h-39zM685 273h39v20h-39zM685 293h39v20h-39zM685 313h39v20h-39zM685 333h39v20h-39zM685 353h39v20h-39zM685 373h39v20h-39zM685 393h39v20h-39zM685 413h39v20h-39zM685 433h39v20h-39zM685 453h39v20h-39zM685 473h39v20h-39zM685 493h39v21h-39zM685 514h39v20h-39zM685 534h39v20h-39zM685 554h39v20h-39zM685 574h39v20h-39zM685 594h39v20h-39zM685 614h39v20h-39zM705 634h19v20h-19zM705 654h39v20h-39zM744 674h20v20h-20zM744 694h39v20h-39z"/>
<path fill="#fff500" d="M783 133h20v20h-20zM764 153h19v20h-19zM744 173h20v20h-20z"/>
<path fill="#ffde00" d="M803 133h20v20h-20zM764 213h19v20h-19z"/>
<path fill="#ffc700" d="M823 133h19v20h-19zM783 233h20v20h-20zM921 714h20v20h-20z"/>
<path fill="#ffb200" d="M842 133h20v20h-20zM803 213h20v20h-20zM862 694h20v20h-20z"/>
<path fill="#ffa900" d="M862 133h20v20h-20zM823 173h19v20h-19zM882 694h19v20h-19z"/>
<path fill="#ff9500" d="M901 133h20v20h-20zM862 153h20v20h-20zM921 694h20v20h-20zM1059 694h19v20h-19z"/>
<path fill="#ff7a00" d="M941 133h19v20h-19zM1059 153h19v20h-19zM882 173h19v20h-19zM862 193h20v20h-20zM842 614h20v20h-20zM901 654h20v20h-20z"/>
<path fill="#ff7300" d="M960 133h20v20h-20zM921 153h20v20h-20zM1078 173h20v20h-20zM941 674h19v20h-19zM1019 674h20v20h-20z"/>
<path fill="#ff6e00" d="M980 133h39v20h-39zM901 173h20v20h-20zM882 193h19v20h-19zM842 253h20v20h-20zM842 273h20v20h-20zM842 293h20v20h-20zM842 313h20v20h-20zM842 333h20v20h-20zM842 353h20v20h-20zM842 373h20v20h-20zM842 393h20v20h-20zM842 413h20v20h-20zM842 433h20v20h-20zM842 453h20v20h-20zM842 473h20v20h-20zM842 493h20v21h-20zM842 514h20v20h-20zM842 534h20v20h-20zM842 554h20v20h-20zM842 574h20v20h-20zM921 654h20v20h-20zM960 674h20v20h-20z"/>
<path fill="#ff7800" d="M1019 133h20v20h-20zM980 694h39v20h-39z"/>
<path fill="#ff8400" d="M1039 133h20v20h-20zM882 654h19v20h-19zM921 674h20v20h-20zM941 694h19v20h-19z"/>
<path fill="#ff8e00" d="M1059 133h19v20h-19zM1078 674h20v20h-20z"/>
<path fill="#8dff17" d="M626 153h20v20h-20z"/>
<path fill="#bdff08" d="M646 153h19v20h-19z"/>
<path fill="#e0ff03" d="M665 153h20v20h-20zM646 233h19v20h-19zM646 634h19v20h-19zM665 694h20v20h-20z"/>
<path fill="#faff00" d="M685 153h20v20h-20zM665 213h20v20h-20zM724 714h20v20h-20z"/>
<path fill="#fffa00" d="M744 153h20v20h-20zM724 233h20v20h-20zM724 253h20v20h-20zM724 273h20v20h-20zM724 293h20v20h-20zM724 313h20v20h-20zM724 333h20v20h-20zM724 353h20v20h-20zM724 373h20v20h-20zM724 393h20v20h-20zM724 413h20v20h-20zM724 433h20v20h-20zM724 453h20v20h-20zM724 473h20v20h-20zM724 493h20v21h-20zM724 514h20v20h-20zM724 534h20v20h-20zM724 554h20v20h-20zM724 574h20v20h-20zM724 594h20v20h-20zM724 614h20v20h-20zM744 654h20v20h-20zM783 694h20v20h-20z"/>
<path fill="#ffe500" d="M783 153h20v20h-20zM744 253h20v20h-20zM744 273h20v20h-20zM744 293h20v20h-20zM744 313h20v20h-20zM744 333h20v20h-20zM744 353h20v20h-20zM744 373h20v20h-20zM744 393h20v20h-20zM744 413h20v20h-20zM744 433h20v20h-20zM744 453h20v20h-20zM744 473h20v20h-20zM744 493h20v21h-20zM744 514h20v20h-20zM744 534h20v20h-20zM744 554h20v20h-20zM744 574h20v20h-20zM744 594h20v20h-20zM764 634h19v20h-19zM803 694h20v20h-20z"/>
<path fill="#ffce00" d="M803 153h20v20h-20zM823 694h19v20h-19z"/>
<path fill="#ffb500" d="M823 153h19v20h-19zM941 714h19v20h-19z"/>
<path fill="#ff8c00" d="M882 153h19v20h-19zM823 594h19v20h-19zM1039 694h20v20h-20z"/>
<path fill="#ff8000" d="M901 153h20v20h-20zM1078 153h20v20h-20zM842 213h20v20h-20zM1039 674h20v20h-20z"/>
<path fill="#ff6200" d="M941 153h19v20h-19zM921 173h20v20h-20zM1039 173h20v20h-20zM862 594h20v20h-20zM1059 634h19v20h-19z"/>
<path fill="#ff5f00" d="M960 153h20v20h-20zM901 193h20v20h-20zM1059 193h19v20h-19zM1078 213h20v20h-20zM862 253h20v20h-20zM862 273h20v20h-20zM862 293h20v20h-20zM862 313h20v20h-20zM862 333h20v20h-20zM862 353h20v20h-20zM862 373h20v20h-20zM862 393h20v20h-20zM862 413h20v20h-20zM862 433h20v20h-20zM862 453h20v20h-20zM862 473h20v20h-20zM862 493h20v21h-20zM862 514h20v20h-20zM862 534h20v20h-20zM862 554h20v20h-20zM862 574h20v20h-20zM1019 654h20v20h-20z"/>
<path fill="#ff5a00" d="M980 153h39v20h-39zM882 233h19v20h-19zM1078 614h20v20h-20zM1039 634h20v20h-20zM960 654h20v20h-20z"/>
<path fill="#ff6400" d="M1019 153h20v20h-20zM882 213h19v20h-19zM901 634h20v20h-20z"/>
<path fill="#ff7000" d="M1039 153h20v20h-20zM862 213h20v20h-20zM842 594h20v20h-20zM882 634h19v20h-19z"/>
<path fill="#9dff12" d="M626 173h20v20h-20zM626 674h20v20h-20z"/>
<path fill="#c8ff05" d="M646 173h19v20h-19zM626 253h20v20h-20z"/>
<path fill="#ecff01" d="M665 173h20v20h-20zM646 293h19v20h-19zM646 313h19v20h-19zM646 333h19v20h-19zM646 353h19v20h-19zM646 373h19v20h-19zM646 393h19v20h-19zM646 413h19v20h-19zM646 433h19v20h-19zM646 453h19v20h-19zM646 473h19v20h-19zM646 493h19v21h-19zM646 514h19v20h-19zM646 534h19v20h-19zM646 554h19v20h-19zM646 574h19v20h-19zM646 594h19v20h-19zM665 674h20v20h-20z"/>
<path fill="#ffec00" d="M764 173h19v20h-19zM744 213h20v20h-20z"/>
<path fill="#ffdc00" d="M783 173h20v20h-20zM764 614h19v20h-19z"/>
<path fill="#ffc200" d="M803 173h20v20h-20zM783 594h20v20h-20zM823 674h19v20h-19z"/>
<path fill="#ff5300" d="M941 173h19v20h-19zM921 193h20v20h-20zM882 253h19v20h-19zM882 273h19v20h-19zM882 293h19v20h-19zM882 313h19v20h-19zM882 333h19v20h-19zM882 353h19v20h-19zM882 373h19v20h-19zM882 393h19v20h-19zM882 413h19v20h-19zM882 433h19v20h-19zM882 453h19v20h-19zM882 473h19v20h-19zM882 493h19v21h-19zM882 514h19v20h-19zM882 534h19v20h-19zM882 554h19v20h-19zM882 574h19v20h-19zM1059 614h19v20h-19z"/>
<path fill="#ff5000" d="M960 173h20v20h-20zM1059 233h19v20h-19zM1078 594h20v20h-20zM901 614h20v20h-20z"/>
<path fill="#ff4e00" d="M980 173h39v20h-39zM1039 213h20v20h-20zM901 233h20v20h-20zM1078 253h20v20h-20zM1078 273h20v20h-20zM1078 293h20v20h-20zM1078 313h20v20h-20zM1078 333h20v20h-20zM1078 353h20v20h-20zM1078 373h20v20h-20zM1078 393h20v20h-20zM1078 413h20v20h-20zM1078 433h20v20h-20zM1078 453h20v20h-20zM1078 473h20v20h-20zM1078 493h20v21h-20zM1078 514h20v20h-20zM1078 534h20v20h-20zM1078 554h20v20h-20zM1078 574h20v20h-20zM1019 634h20v20h-20z"/>
<path fill="#ff5800" d="M1019 173h20v20h-20zM901 213h20v20h-20zM1059 213h19v20h-19zM921 634h20v20h-20zM980 654h39v20h-39z"/>
<path fill="#ff6c00" d="M1059 173h19v20h-19zM862 614h20v20h-20zM1039 654h20v20h-20z"/>
<path fill="#ffee00" d="M744 193h20v20h-20z"/>
<path fill="#ffe300" d="M764 193h19v20h-19zM783 654h20v20h-20z"/>
<path fill="#ffb900" d="M803 193h20v20h-20z"/>
<path fill="#ff9e00" d="M823 193h19v20h-19zM901 694h20v20h-20z"/>
<path fill="#ff4700" d="M941 193h19v20h-19zM1039 233h20v20h-20zM901 594h20v20h-20zM960 634h20v20h-20z"/>
<path fill="#ff4500" d="M960 193h20v20h-20zM901 253h20v20h-20zM901 273h20v20h-20zM901 293h20v20h-20zM901 313h20v20h-20zM901 333h20v20h-20zM901 353h20v20h-20zM901 373h20v20h-20zM901 393h20v20h-20zM901 413h20v20h-20zM901 433h20v20h-20zM901 453h20v20h-20zM901 473h20v20h-20zM901 493h20v21h-20zM901 514h20v20h-20zM901 534h20v20h-20zM901 554h20v20h-20zM901 574h20v20h-20zM921 614h20v20h-20zM980 634h39v20h-39z"/>
<path fill="#ff4300" d="M980 193h39v20h-39zM1019 213h20v20h-20zM921 233h20v20h-20zM1039 594h20v20h-20z"/>
<path fill="#ff4c00" d="M1019 193h20v20h-20zM921 213h20v20h-20zM1059 594h19v20h-19z"/>
<path fill="#ff5500" d="M1039 193h20v20h-20zM1078 233h20v20h-20zM882 594h19v20h-19z"/>
<path fill="#ff6600" d="M1078 193h20v20h-20z"/>
<path fill="#b8ff0a" d="M626 213h20v20h-20zM646 694h19v20h-19z"/>
<path fill="#dcff03" d="M646 213h19v20h-19zM764 714h19v20h-19z"/>
<path fill="#ffcc00" d="M783 213h20v20h-20z"/>
<path fill="#ff9700" d="M823 213h19v20h-19z"/>
<path fill="#ff3e00" d="M941 213h19v20h-19zM1019 614h20v20h-20z"/>
<path fill="#ff3c00" d="M960 213h59v20h-59zM1019 233h20v20h-20zM921 594h20v20h-20z"/>
<path fill="#c3ff07" d="M626 233h20v20h-20zM626 634h20v20h-20z"/>
<path fill="#ffe700" d="M744 233h20v20h-20zM842 714h20v20h-20z"/>
<path fill="#ffd900" d="M764 233h19v20h-19zM803 674h20v20h-20zM882 714h19v20h-19z"/>
<path fill="#ffac00" d="M803 233h20v20h-20zM960 714h20v20h-20zM1019 714h20v20h-20z"/>
<path fill="#ff9000" d="M823 233h19v20h-19zM862 654h20v20h-20zM901 674h20v20h-20z"/>
<path fill="#ff7600" d="M842 233h20v20h-20zM1059 654h19v20h-19z"/>
<path fill="#ff6900" d="M862 233h20v20h-20zM1078 634h20v20h-20zM980 674h39v20h-39z"/>
<path fill="#ff3500" d="M941 233h78v20h-78zM1019 253h20v20h-20zM1019 273h20v20h-20zM1019 293h20v20h-20zM1019 313h20v20h-20zM1019 333h20v20h-20zM1019 353h20v20h-20zM1019 373h20v20h-20zM1019 393h20v20h-20zM1019 413h20v20h-20zM1019 433h20v20h-20zM1019 453h20v20h-20zM1019 473h20v20h-20zM1019 493h20v21h-20zM1019 514h20v20h-20zM1019 534h20v20h-20zM1019 554h20v20h-20zM1019 574h20v20h-20z"/>
<path fill="#e4ff02" d="M646 253h19v20h-19z"/>
<path fill="#ffd500" d="M764 253h19v20h-19zM764 273h19v20h-19zM764 293h19v20h-19zM764 313h19v20h-19zM764 333h19v20h-19zM764 353h19v20h-19zM764 373h19v20h-19zM764 393h19v20h-19zM764 413h19v20h-19zM764 433h19v20h-19zM764 453h19v20h-19zM764 473h19v20h-19zM764 493h19v21h-19zM764 514h19v20h-19zM764 534h19v20h-19zM764 554h19v20h-19zM764 574h19v20h-19zM764 594h19v20h-19zM783 634h20v20h-20z"/>
<path fill="#ff3a00" d="M921 253h20v20h-20zM921 273h20v20h-20zM921 293h20v20h-20zM921 313h20v20h-20zM921 333h20v20h-20zM921 353h20v20h-20zM921 373h20v20h-20zM921 393h20v20h-20zM921 413h20v20h-20zM921 433h20v20h-20zM921 453h20v20h-20zM921 473h20v20h-20zM921 493h20v21h-20zM921 514h20v20h-20zM921 534h20v20h-20zM921 554h20v20h-20zM921 574h20v20h-20zM941 614h19v20h-19z"/>
<path fill="#ff2e00" d="M941 253h19v20h-19zM941 273h19v20h-19zM941 293h19v20h-19zM941 313h19v20h-19zM941 333h19v20h-19zM941 353h19v20h-19zM941 373h19v20h-19zM941 393h19v20h-19zM941 413h19v20h-19zM941 433h19v20h-19zM941 453h19v20h-19zM941 473h19v20h-19zM941 493h19v21h-19zM941 514h19v20h-19zM941 534h19v20h-19zM941 554h19v20h-19zM941 574h19v20h-19z"/>
<path fill="#fe2c00" d="M960 253h59v20h-59zM960 273h59v20h-59zM960 293h59v20h-59zM960 313h59v20h-59zM960 333h59v20h-59zM960 353h59v20h-59zM960 373h59v20h-59zM960 393h59v20h-59zM960 413h59v20h-59zM960 433h59v20h-59zM960 453h59v20h-59zM960 473h59v20h-59zM960 493h59v21h-59zM960 514h59v20h-59zM960 534h59v20h-59zM960 554h59v20h-59zM960 574h59v20h-59z"/>
<path fill="#ff4000" d="M1039 253h20v20h-20zM1039 273h20v20h-20zM1039 293h20v20h-20zM1039 313h20v20h-20zM1039 333h20v20h-20zM1039 353h20v20h-20zM1039 373h20v20h-20zM1039 393h20v20h-20zM1039 413h20v20h-20zM1039 433h20v20h-20zM1039 453h20v20h-20zM1039 473h20v20h-20zM1039 493h20v21h-20zM1039 514h20v20h-20zM1039 534h20v20h-20zM1039 554h20v20h-20zM1039 574h20v20h-20z"/>
<path fill="#ff4a00" d="M1059 253h19v20h-19zM1059 273h19v20h-19zM1059 293h19v20h-19zM1059 313h19v20h-19zM1059 333h19v20h-19zM1059 353h19v20h-19zM1059 373h19v20h-19zM1059 393h19v20h-19zM1059 413h19v20h-19zM1059 433h19v20h-19zM1059 453h19v20h-19zM1059 473h19v20h-19zM1059 493h19v21h-19zM1059 514h19v20h-19zM1059 534h19v20h-19zM1059 554h19v20h-19zM1059 574h19v20h-19zM1039 614h20v20h-20zM941 634h19v20h-19z"/>
<path fill="#ccff05" d="M626 273h20v20h-20zM626 614h20v20h-20zM646 674h19v20h-19z"/>
<path fill="#e8ff02" d="M646 273h19v20h-19zM646 614h19v20h-19z"/>
<path fill="#d0ff04" d="M626 293h20v20h-20zM626 594h20v20h-20z"/>
<path fill="#ffa700" d="M803 594h20v20h-20z"/>
<path fill="#ff3000" d="M941 594h78v20h-78z"/>
<path fill="#ff3700" d="M1019 594h20v20h-20zM960 614h59v20h-59z"/>
<path fill="#ffc900" d="M783 614h20v20h-20zM803 654h20v20h-20z"/>
<path fill="#ff5c00" d="M882 614h19v20h-19zM941 654h19v20h-19z"/>
<path fill="#fff100" d="M744 634h20v20h-20zM783 674h20v20h-20z"/>
<path fill="#ffbc00" d="M803 634h20v20h-20zM842 694h20v20h-20z"/>
<path fill="#b3ff0c" d="M626 654h20v20h-20z"/>
<path fill="#f8ff00" d="M665 654h20v20h-20zM685 694h20v20h-20z"/>
<path fill="#fff300" d="M764 654h19v20h-19z"/>
<path fill="#ffb000" d="M823 654h19v20h-19z"/>
<path fill="#ff9c00" d="M842 654h20v20h-20zM882 674h19v20h-19zM1078 694h20v20h-20z"/>
<path fill="#88ff19" d="M626 694h20v20h-20z"/>
<path fill="#fff800" d="M823 714h19v20h-19z"/>
<path fill="#ffe000" d="M862 714h20v20h-20z"/>
<path fill="#ffd000" d="M901 714h20v20h-20z"/>
<path fill="#ffc500" d="M1078 714h20v20h-20z"/>
</g>
<path d="M1111.0 19.3H787.0V63.5H1111.0" fill="none" stroke="#000" stroke-width="1.2"/>
<text y="56.0" font-family='"Liberation Sans", sans-serif' font-weight="bold" font-size="40.5" fill="#000"><tspan x="792.8" textLength="114" lengthAdjust="spacingAndGlyphs">2.00 –</tspan><tspan x="956.6" textLength="148" lengthAdjust="spacingAndGlyphs">0.00 Ma</tspan></text>
<rect x="1121.1" y="106.0" width="485.0" height="634.0" fill="#000"/>
<rect x="1461.9" y="107.0" width="137.8" height="4.4" fill="#fff"/>
<rect x="1461.9" y="734.6" width="137.8" height="4.4" fill="#fff"/>
<rect x="1122.1" y="284.2" width="4.4" height="449.4" fill="#fff"/>
<rect x="1600.7" y="284.2" width="4.4" height="449.4" fill="#fff"/>
<rect x="1122.1" y="107.0" width="4.4" height="4.4" fill="#fff"/>
<rect x="1122.1" y="734.6" width="4.4" height="4.4" fill="#fff"/>
<rect x="1600.7" y="107.0" width="4.4" height="4.4" fill="#fff"/>
<rect x="1600.7" y="734.6" width="4.4" height="4.4" fill="#fff"/>
<g shape-rendering="crispEdges">
<path fill="#2509b3" d="M1128 113h20v20h-20zM1128 133h20v20h-20z"/>
<path fill="#2317bb" d="M1148 113h19v20h-19z"/>
<path fill="#2027c2" d="M1167 113h20v20h-20z"/>
<path fill="#1e34c9" d="M1187 113h20v20h-20zM1167 273h20v20h-20zM1167 313h20v20h-20zM1167 574h20v20h-20z"/>
<path fill="#1b46d2" d="M1207 113h19v20h-19zM1187 293h20v20h-20zM1187 594h20v20h-20zM1187 614h20v20h-20zM1187 634h20v20h-20z"/>
<path fill="#1954d9" d="M1226 113h20v20h-20zM1207 213h19v20h-19zM1207 233h19v20h-19zM1207 253h19v20h-19z"/>
<path fill="#185ddd" d="M1246 113h20v20h-20zM1226 133h20v20h-20zM1207 273h19v20h-19zM1207 333h19v20h-19zM1207 373h19v20h-19zM1207 393h19v20h-19zM1207 433h19v20h-19zM1207 453h19v20h-19zM1207 514h19v20h-19zM1207 534h19v20h-19zM1226 654h20v20h-20zM1226 694h20v20h-20zM1266 714h19v20h-19z"/>
<path fill="#1768e3" d="M1266 113h19v20h-19zM1246 133h20v20h-20zM1226 313h20v20h-20zM1246 654h20v20h-20zM1246 694h20v20h-20z"/>
<path fill="#167ae8" d="M1285 113h20v20h-20zM1266 193h19v20h-19zM1266 233h19v20h-19zM1246 273h20v20h-20zM1246 333h20v20h-20zM1246 473h20v20h-20zM1305 714h20v20h-20z"/>
<path fill="#168aec" d="M1305 113h20v20h-20zM1285 133h20v20h-20zM1266 273h19v20h-19zM1266 333h19v20h-19zM1266 473h19v20h-19zM1285 654h20v20h-20zM1285 694h20v20h-20zM1325 714h19v20h-19z"/>
<path fill="#1d9ced" d="M1325 113h19v20h-19zM1305 133h20v20h-20zM1305 654h20v20h-20zM1305 694h20v20h-20z"/>
<path fill="#22abee" d="M1344 113h20v20h-20zM1325 133h19v20h-19zM1305 313h20v20h-20zM1325 654h19v20h-19z"/>
<path fill="#25b4ee" d="M1364 113h20v20h-20zM1325 253h19v20h-19zM1305 273h20v20h-20zM1305 333h20v20h-20zM1305 473h20v20h-20zM1561 714h19v20h-19z"/>
<path fill="#26baee" d="M1384 113h19v20h-19zM1364 153h20v20h-20zM1325 293h19v20h-19zM1305 554h20v20h-20zM1325 594h19v20h-19zM1325 634h19v20h-19z"/>
<path fill="#2bcbee" d="M1403 113h20v20h-20zM1384 133h19v20h-19zM1364 193h20v20h-20zM1344 293h20v20h-20zM1325 353h19v20h-19zM1325 493h19v21h-19zM1344 594h20v20h-20zM1344 614h20v20h-20zM1344 634h20v20h-20zM1462 714h20v20h-20zM1502 714h19v20h-19z"/>
<path fill="#2ed9ed" d="M1423 113h20v20h-20zM1403 173h20v20h-20zM1364 313h20v20h-20zM1344 473h20v20h-20zM1403 674h20v20h-20zM1580 674h20v20h-20zM1580 694h20v20h-20z"/>
<path fill="#30e2ed" d="M1443 113h19v20h-19zM1521 113h20v20h-20zM1423 153h20v20h-20zM1364 273h20v20h-20zM1384 293h19v20h-19zM1384 594h19v20h-19zM1384 614h19v20h-19zM1403 654h20v20h-20zM1580 654h20v20h-20z"/>
<path fill="#31e7ec" d="M1462 113h20v20h-20zM1541 153h20v20h-20zM1423 173h20v20h-20zM1384 313h19v20h-19zM1364 353h20v20h-20zM1364 493h20v21h-20zM1561 674h19v20h-19zM1561 694h19v20h-19z"/>
<path fill="#34eaeb" d="M1482 113h20v20h-20zM1541 133h20v20h-20zM1443 153h19v20h-19zM1403 213h20v20h-20zM1580 213h20v20h-20zM1580 233h20v20h-20zM1403 253h20v20h-20zM1384 273h19v20h-19zM1423 694h20v20h-20z"/>
<path fill="#32eaec" d="M1502 113h19v20h-19zM1423 133h20v20h-20zM1403 233h20v20h-20zM1384 373h19v20h-19zM1384 393h19v20h-19zM1364 413h20v20h-20zM1384 433h19v20h-19zM1384 453h19v20h-19zM1384 514h19v20h-19zM1384 534h19v20h-19zM1364 554h20v20h-20zM1384 574h19v20h-19zM1423 674h20v20h-20z"/>
<path fill="#2fdced" d="M1541 113h20v20h-20zM1403 133h20v20h-20zM1384 213h19v20h-19zM1384 253h19v20h-19zM1344 353h20v20h-20zM1344 493h20v21h-20zM1364 574h20v20h-20zM1403 694h20v20h-20z"/>
<path fill="#2dd4ee" d="M1561 113h19v20h-19zM1403 153h20v20h-20zM1384 193h19v20h-19zM1344 373h20v20h-20zM1344 393h20v20h-20zM1344 433h20v20h-20zM1344 453h20v20h-20zM1344 514h20v20h-20zM1344 534h20v20h-20z"/>
<path fill="#2ac5ee" d="M1580 113h20v20h-20zM1364 133h20v20h-20zM1344 253h20v20h-20zM1325 273h19v20h-19zM1325 333h19v20h-19zM1364 654h20v20h-20zM1364 694h20v20h-20zM1443 714h19v20h-19zM1521 714h20v20h-20z"/>
<path fill="#231bbd" d="M1148 133h19v20h-19zM1148 153h19v20h-19zM1148 173h19v20h-19zM1148 674h19v20h-19zM1148 694h19v20h-19z"/>
<path fill="#1f2bc4" d="M1167 133h20v20h-20zM1167 173h20v20h-20zM1167 674h20v20h-20zM1167 694h20v20h-20z"/>
<path fill="#1d3ccd" d="M1187 133h20v20h-20zM1187 694h20v20h-20zM1207 714h19v20h-19z"/>
<path fill="#1a4ed6" d="M1207 133h19v20h-19zM1187 353h20v20h-20zM1187 413h20v20h-20zM1187 493h20v21h-20zM1187 554h20v20h-20zM1207 654h19v20h-19zM1207 694h19v20h-19z"/>
<path fill="#1677e8" d="M1266 133h19v20h-19zM1246 373h20v20h-20zM1246 393h20v20h-20zM1246 433h20v20h-20zM1246 453h20v20h-20zM1246 514h20v20h-20zM1246 534h20v20h-20zM1246 574h20v20h-20zM1266 694h19v20h-19z"/>
<path fill="#27bdee" d="M1344 133h20v20h-20zM1325 313h19v20h-19zM1305 413h20v20h-20zM1325 614h19v20h-19zM1344 654h20v20h-20zM1344 694h20v20h-20zM1541 714h20v20h-20z"/>
<path fill="#38eae9" d="M1443 133h19v20h-19zM1443 173h19v20h-19zM1561 193h19v20h-19zM1580 253h20v20h-20zM1384 473h19v20h-19zM1403 594h20v20h-20zM1403 614h20v20h-20zM1580 634h20v20h-20zM1423 654h20v20h-20zM1443 674h19v20h-19z"/>
<path fill="#3eebe5" d="M1462 133h20v20h-20zM1502 133h19v20h-19zM1482 153h20v20h-20zM1462 173h20v20h-20zM1423 233h20v20h-20zM1561 233h19v20h-19zM1580 293h20v20h-20zM1403 313h20v20h-20zM1580 594h20v20h-20zM1443 654h19v20h-19zM1541 654h20v20h-20zM1462 674h20v20h-20z"/>
<path fill="#42ebe3" d="M1482 133h20v20h-20zM1482 173h20v20h-20zM1443 193h19v20h-19zM1423 253h20v20h-20zM1561 253h19v20h-19zM1580 313h20v20h-20zM1482 674h20v20h-20z"/>
<path fill="#3aeae8" d="M1521 133h20v20h-20zM1462 153h20v20h-20zM1502 153h19v20h-19zM1423 193h20v20h-20zM1403 293h20v20h-20zM1384 353h19v20h-19zM1384 493h19v21h-19zM1443 694h19v20h-19z"/>
<path fill="#31e4ec" d="M1561 133h19v20h-19zM1561 173h19v20h-19zM1403 193h20v20h-20zM1580 193h20v20h-20zM1364 333h20v20h-20zM1364 473h20v20h-20z"/>
<path fill="#2ed6ed" d="M1580 133h20v20h-20zM1580 173h20v20h-20zM1384 233h19v20h-19zM1344 273h20v20h-20zM1364 293h20v20h-20zM1344 333h20v20h-20zM1364 594h20v20h-20zM1364 614h20v20h-20zM1364 634h20v20h-20z"/>
<path fill="#2608b5" d="M1128 153h20v20h-20zM1128 173h20v20h-20zM1128 674h20v20h-20zM1128 694h20v20h-20z"/>
<path fill="#2029c4" d="M1167 153h20v20h-20z"/>
<path fill="#1d3acc" d="M1187 153h20v20h-20zM1187 173h20v20h-20zM1167 413h20v20h-20zM1167 554h20v20h-20zM1187 674h20v20h-20z"/>
<path fill="#1b48d3" d="M1207 153h19v20h-19zM1187 273h20v20h-20zM1187 313h20v20h-20zM1187 574h20v20h-20zM1226 714h20v20h-20z"/>
<path fill="#1957da" d="M1226 153h20v20h-20zM1207 293h19v20h-19zM1207 594h19v20h-19zM1207 614h19v20h-19zM1207 634h19v20h-19z"/>
<path fill="#1862e0" d="M1246 153h20v20h-20zM1226 213h20v20h-20zM1226 253h20v20h-20zM1207 413h19v20h-19zM1207 554h19v20h-19z"/>
<path fill="#166de6" d="M1266 153h19v20h-19zM1246 253h20v20h-20zM1226 333h20v20h-20zM1226 473h20v20h-20z"/>
<path fill="#1681ea" d="M1285 153h20v20h-20zM1266 293h19v20h-19zM1246 413h20v20h-20zM1246 554h20v20h-20zM1266 594h19v20h-19zM1266 614h19v20h-19zM1266 634h19v20h-19z"/>
<path fill="#1994ec" d="M1305 153h20v20h-20zM1285 213h20v20h-20zM1285 594h20v20h-20z"/>
<path fill="#1fa2ee" d="M1325 153h19v20h-19zM1305 253h20v20h-20zM1285 353h20v20h-20zM1285 493h20v21h-20z"/>
<path fill="#24b1ee" d="M1344 153h20v20h-20zM1325 193h19v20h-19zM1325 233h19v20h-19zM1403 714h20v20h-20z"/>
<path fill="#29c2ee" d="M1384 153h19v20h-19zM1344 233h20v20h-20zM1325 373h19v20h-19zM1325 393h19v20h-19zM1325 433h19v20h-19zM1325 453h19v20h-19zM1325 514h19v20h-19zM1325 534h19v20h-19z"/>
<path fill="#36eaea" d="M1521 153h20v20h-20zM1541 173h20v20h-20zM1384 333h19v20h-19zM1403 634h20v20h-20zM1561 654h19v20h-19zM1541 674h20v20h-20zM1541 694h20v20h-20z"/>
<path fill="#30dfed" d="M1561 153h19v20h-19zM1364 373h20v20h-20zM1364 393h20v20h-20zM1344 413h20v20h-20zM1364 433h20v20h-20zM1364 453h20v20h-20zM1364 514h20v20h-20zM1364 534h20v20h-20zM1344 554h20v20h-20zM1384 634h19v20h-19z"/>
<path fill="#2dd1ee" d="M1580 153h20v20h-20zM1364 213h20v20h-20zM1364 253h20v20h-20zM1344 574h20v20h-20zM1384 654h19v20h-19z"/>
<path fill="#1b4cd5" d="M1207 173h19v20h-19zM1187 333h20v20h-20zM1187 373h20v20h-20zM1187 393h20v20h-20zM1187 433h20v20h-20zM1187 453h20v20h-20zM1187 473h20v20h-20zM1187 514h20v20h-20zM1187 534h20v20h-20zM1207 674h19v20h-19z"/>
<path fill="#195adc" d="M1226 173h20v20h-20zM1207 313h19v20h-19zM1207 574h19v20h-19zM1226 674h20v20h-20z"/>
<path fill="#1765e1" d="M1246 173h20v20h-20zM1226 293h20v20h-20zM1226 594h20v20h-20zM1226 614h20v20h-20zM1226 634h20v20h-20zM1246 674h20v20h-20z"/>
<path fill="#1670e6" d="M1266 173h19v20h-19zM1246 213h20v20h-20zM1246 293h20v20h-20zM1226 353h20v20h-20zM1226 413h20v20h-20zM1226 493h20v21h-20zM1226 554h20v20h-20zM1246 594h20v20h-20zM1246 614h20v20h-20zM1246 634h20v20h-20zM1266 674h19v20h-19z"/>
<path fill="#1684ea" d="M1285 173h20v20h-20zM1266 313h19v20h-19zM1266 574h19v20h-19zM1285 674h20v20h-20z"/>
<path fill="#1a96ed" d="M1305 173h20v20h-20zM1285 293h20v20h-20zM1285 313h20v20h-20zM1285 614h20v20h-20zM1285 634h20v20h-20zM1305 674h20v20h-20z"/>
<path fill="#20a6ee" d="M1325 173h19v20h-19zM1305 213h20v20h-20zM1285 413h20v20h-20zM1285 554h20v20h-20zM1384 714h19v20h-19z"/>
<path fill="#26b7ee" d="M1344 173h20v20h-20zM1325 213h19v20h-19zM1305 353h20v20h-20zM1305 493h20v21h-20zM1344 674h20v20h-20z"/>
<path fill="#28c0ee" d="M1364 173h20v20h-20zM1344 193h20v20h-20zM1325 574h19v20h-19zM1364 674h20v20h-20zM1423 714h20v20h-20z"/>
<path fill="#2ac8ee" d="M1384 173h19v20h-19zM1344 213h20v20h-20zM1325 473h19v20h-19zM1384 674h19v20h-19z"/>
<path fill="#40ebe4" d="M1502 173h19v20h-19zM1541 193h20v20h-20zM1423 213h20v20h-20zM1561 213h19v20h-19zM1403 273h20v20h-20zM1403 373h20v20h-20zM1403 393h20v20h-20zM1403 433h20v20h-20zM1403 453h20v20h-20zM1403 514h20v20h-20zM1403 534h20v20h-20zM1403 574h20v20h-20zM1502 674h19v20h-19zM1462 694h20v20h-20zM1502 694h19v20h-19z"/>
<path fill="#3ceae6" d="M1521 173h20v20h-20zM1384 413h19v20h-19zM1384 554h19v20h-19zM1580 614h20v20h-20zM1521 674h20v20h-20zM1521 694h20v20h-20z"/>
<path fill="#2609b6" d="M1128 193h20v20h-20zM1128 654h20v20h-20z"/>
<path fill="#221dbe" d="M1148 193h19v20h-19zM1148 654h19v20h-19z"/>
<path fill="#1f2dc6" d="M1167 193h20v20h-20zM1167 654h20v20h-20zM1187 714h20v20h-20z"/>
<path fill="#1c40cf" d="M1187 193h20v20h-20zM1187 654h20v20h-20z"/>
<path fill="#1a51d8" d="M1207 193h19v20h-19zM1246 714h20v20h-20z"/>
<path fill="#185fdf" d="M1226 193h20v20h-20zM1226 233h20v20h-20zM1207 353h19v20h-19zM1207 473h19v20h-19zM1207 493h19v21h-19z"/>
<path fill="#166be4" d="M1246 193h20v20h-20zM1246 233h20v20h-20zM1226 273h20v20h-20zM1226 373h20v20h-20zM1226 393h20v20h-20zM1226 433h20v20h-20zM1226 453h20v20h-20zM1226 514h20v20h-20zM1226 534h20v20h-20zM1226 574h20v20h-20zM1285 714h20v20h-20z"/>
<path fill="#178eec" d="M1285 193h20v20h-20zM1285 233h20v20h-20zM1266 353h19v20h-19zM1266 493h19v21h-19z"/>
<path fill="#1ea0ed" d="M1305 193h20v20h-20zM1305 233h20v20h-20zM1285 273h20v20h-20zM1285 333h20v20h-20zM1285 473h20v20h-20zM1364 714h20v20h-20z"/>
<path fill="#48ebe0" d="M1462 193h20v20h-20zM1443 213h19v20h-19zM1541 253h20v20h-20zM1423 293h20v20h-20zM1403 353h20v20h-20zM1580 373h20v20h-20zM1580 393h20v20h-20zM1580 433h20v20h-20zM1580 453h20v20h-20zM1403 493h20v21h-20zM1580 514h20v20h-20zM1580 534h20v20h-20zM1561 594h19v20h-19zM1502 654h19v20h-19z"/>
<path fill="#4cebde" d="M1482 193h20v20h-20zM1521 213h20v20h-20zM1462 233h20v20h-20zM1580 473h20v20h-20zM1423 574h20v20h-20zM1541 614h20v20h-20zM1443 634h19v20h-19z"/>
<path fill="#4aebdf" d="M1502 193h19v20h-19zM1521 233h20v20h-20zM1443 253h19v20h-19zM1561 293h19v20h-19zM1423 313h20v20h-20zM1580 333h20v20h-20zM1403 413h20v20h-20zM1403 554h20v20h-20zM1541 634h20v20h-20zM1482 654h20v20h-20z"/>
<path fill="#46ebe1" d="M1521 193h20v20h-20zM1541 213h20v20h-20zM1443 233h19v20h-19zM1403 473h20v20h-20zM1580 574h20v20h-20zM1423 594h20v20h-20zM1423 614h20v20h-20zM1561 614h19v20h-19zM1462 654h20v20h-20z"/>
<path fill="#260bb7" d="M1128 213h20v20h-20zM1128 233h20v20h-20zM1128 253h20v20h-20zM1128 634h20v20h-20z"/>
<path fill="#221fbe" d="M1148 213h19v20h-19zM1148 233h19v20h-19zM1148 253h19v20h-19zM1148 634h19v20h-19z"/>
<path fill="#1f2fc6" d="M1167 213h20v20h-20zM1167 233h20v20h-20zM1167 253h20v20h-20z"/>
<path fill="#1c42d0" d="M1187 213h20v20h-20zM1187 233h20v20h-20zM1187 253h20v20h-20z"/>
<path fill="#167de9" d="M1266 213h19v20h-19zM1266 253h19v20h-19zM1246 353h20v20h-20zM1246 493h20v21h-20z"/>
<path fill="#4eebdd" d="M1462 213h20v20h-20zM1423 273h20v20h-20zM1561 273h19v20h-19zM1561 313h19v20h-19zM1580 353h20v20h-20zM1423 373h20v20h-20zM1423 393h20v20h-20zM1423 433h20v20h-20zM1423 453h20v20h-20zM1580 493h20v21h-20zM1423 514h20v20h-20zM1423 534h20v20h-20zM1443 594h19v20h-19zM1541 594h20v20h-20zM1443 614h19v20h-19z"/>
<path fill="#54ecd9" d="M1482 213h20v20h-20zM1502 253h19v20h-19zM1443 313h19v20h-19zM1541 313h20v20h-20zM1561 333h19v20h-19zM1462 614h20v20h-20zM1521 614h20v20h-20zM1502 634h19v20h-19z"/>
<path fill="#50ecdc" d="M1502 213h19v20h-19zM1502 233h19v20h-19zM1462 253h20v20h-20zM1521 253h20v20h-20zM1443 293h19v20h-19zM1541 293h20v20h-20zM1580 413h20v20h-20zM1580 554h20v20h-20zM1561 574h19v20h-19zM1521 634h20v20h-20z"/>
<path fill="#2cceee" d="M1364 233h20v20h-20zM1344 313h20v20h-20zM1325 413h19v20h-19zM1325 554h19v20h-19zM1384 694h19v20h-19zM1482 714h20v20h-20z"/>
<path fill="#52ecda" d="M1482 233h20v20h-20zM1423 333h20v20h-20zM1561 373h19v20h-19zM1561 393h19v20h-19zM1561 433h19v20h-19zM1561 453h19v20h-19zM1423 473h20v20h-20zM1561 514h19v20h-19zM1561 534h19v20h-19zM1462 634h20v20h-20z"/>
<path fill="#44ebe2" d="M1541 233h20v20h-20zM1580 273h20v20h-20zM1403 333h20v20h-20zM1423 634h20v20h-20zM1561 634h19v20h-19zM1521 654h20v20h-20zM1482 694h20v20h-20z"/>
<path fill="#1890ec" d="M1285 253h20v20h-20zM1266 413h19v20h-19zM1266 554h19v20h-19z"/>
<path fill="#56ecd8" d="M1482 253h20v20h-20zM1443 273h19v20h-19zM1541 273h20v20h-20zM1521 293h20v20h-20zM1423 353h20v20h-20zM1561 473h19v20h-19zM1423 493h20v21h-20zM1443 574h19v20h-19zM1541 574h20v20h-20zM1462 594h20v20h-20zM1521 594h20v20h-20z"/>
<path fill="#250db8" d="M1128 273h20v20h-20zM1128 293h20v20h-20zM1128 594h20v20h-20zM1128 614h20v20h-20z"/>
<path fill="#2123c0" d="M1148 273h19v20h-19zM1148 313h19v20h-19zM1148 373h19v20h-19zM1148 393h19v20h-19zM1148 433h19v20h-19zM1148 453h19v20h-19zM1148 514h19v20h-19zM1148 534h19v20h-19zM1148 574h19v20h-19z"/>
<path fill="#5fecd1" d="M1462 273h20v20h-20zM1482 293h20v20h-20zM1443 353h19v20h-19zM1541 473h20v20h-20zM1443 493h19v21h-19zM1462 574h20v20h-20zM1521 574h20v20h-20z"/>
<path fill="#68ecc8" d="M1482 273h20v20h-20zM1502 373h19v20h-19zM1502 393h19v20h-19zM1502 433h19v20h-19zM1502 453h19v20h-19zM1462 473h20v20h-20zM1521 473h20v20h-20zM1502 514h19v20h-19zM1502 534h19v20h-19z"/>
<path fill="#62ecce" d="M1502 273h19v20h-19zM1502 313h19v20h-19zM1541 353h20v20h-20zM1462 373h20v20h-20zM1521 373h20v20h-20zM1462 393h20v20h-20zM1521 393h20v20h-20zM1443 413h19v20h-19zM1462 433h20v20h-20zM1521 433h20v20h-20zM1462 453h20v20h-20zM1521 453h20v20h-20zM1541 493h20v21h-20zM1462 514h20v20h-20zM1521 514h20v20h-20zM1462 534h20v20h-20zM1521 534h20v20h-20zM1443 554h19v20h-19z"/>
<path fill="#5decd3" d="M1521 273h20v20h-20zM1502 293h19v20h-19zM1462 313h20v20h-20zM1541 333h20v20h-20zM1443 473h19v20h-19zM1482 594h20v20h-20z"/>
<path fill="#2121c0" d="M1148 293h19v20h-19zM1148 594h19v20h-19zM1148 614h19v20h-19zM1167 714h20v20h-20z"/>
<path fill="#1e31c8" d="M1167 293h20v20h-20zM1167 594h20v20h-20zM1167 614h20v20h-20zM1167 634h20v20h-20z"/>
<path fill="#21a8ee" d="M1305 293h20v20h-20zM1305 594h20v20h-20zM1305 614h20v20h-20zM1305 634h20v20h-20zM1325 674h19v20h-19zM1580 714h20v20h-20z"/>
<path fill="#58ecd7" d="M1462 293h20v20h-20zM1561 353h19v20h-19zM1443 373h19v20h-19zM1443 393h19v20h-19zM1423 413h20v20h-20zM1443 433h19v20h-19zM1443 453h19v20h-19zM1561 493h19v21h-19zM1443 514h19v20h-19zM1443 534h19v20h-19zM1423 554h20v20h-20zM1502 614h19v20h-19zM1482 634h20v20h-20z"/>
<path fill="#250fb8" d="M1128 313h20v20h-20zM1128 333h20v20h-20zM1128 353h20v20h-20zM1128 373h20v20h-20zM1128 393h20v20h-20zM1128 413h20v20h-20zM1128 433h20v20h-20zM1128 453h20v20h-20zM1128 473h20v20h-20zM1128 493h20v21h-20zM1128 514h20v20h-20zM1128 534h20v20h-20zM1128 554h20v20h-20zM1128 574h20v20h-20z"/>
<path fill="#1674e7" d="M1246 313h20v20h-20zM1266 654h19v20h-19z"/>
<path fill="#65eccb" d="M1482 313h20v20h-20zM1462 333h20v20h-20zM1521 333h20v20h-20zM1541 413h20v20h-20zM1541 554h20v20h-20zM1502 574h19v20h-19z"/>
<path fill="#5aecd6" d="M1521 313h20v20h-20zM1443 333h19v20h-19zM1541 373h20v20h-20zM1541 393h20v20h-20zM1561 413h19v20h-19zM1541 433h20v20h-20zM1541 453h20v20h-20zM1541 514h20v20h-20zM1541 534h20v20h-20zM1561 554h19v20h-19zM1502 594h19v20h-19zM1482 614h20v20h-20z"/>
<path fill="#2125c2" d="M1148 333h19v20h-19zM1148 353h19v20h-19zM1148 413h19v20h-19zM1148 473h19v20h-19zM1148 493h19v21h-19zM1148 554h19v20h-19z"/>
<path fill="#1d36ca" d="M1167 333h20v20h-20zM1167 353h20v20h-20zM1167 373h20v20h-20zM1167 393h20v20h-20zM1167 433h20v20h-20zM1167 453h20v20h-20zM1167 473h20v20h-20zM1167 493h20v21h-20zM1167 514h20v20h-20zM1167 534h20v20h-20z"/>
<path fill="#70ecc0" d="M1482 333h20v20h-20zM1462 413h20v20h-20zM1502 473h19v20h-19zM1462 554h20v20h-20z"/>
<path fill="#6decc3" d="M1502 333h19v20h-19zM1462 353h20v20h-20zM1482 373h20v20h-20zM1482 393h20v20h-20zM1521 413h20v20h-20zM1482 433h20v20h-20zM1482 453h20v20h-20zM1462 493h20v21h-20zM1482 514h20v20h-20zM1482 534h20v20h-20zM1521 554h20v20h-20z"/>
<path fill="#75ecbb" d="M1482 353h20v20h-20zM1502 413h19v20h-19zM1482 493h20v21h-20zM1502 554h19v20h-19z"/>
<path fill="#72ecbe" d="M1502 353h19v20h-19zM1482 473h20v20h-20zM1502 493h19v21h-19z"/>
<path fill="#6aecc6" d="M1521 353h20v20h-20zM1521 493h20v21h-20zM1482 574h20v20h-20z"/>
<path fill="#1687eb" d="M1266 373h19v20h-19zM1266 393h19v20h-19zM1266 433h19v20h-19zM1266 453h19v20h-19zM1266 514h19v20h-19zM1266 534h19v20h-19z"/>
<path fill="#1b9aed" d="M1285 373h20v20h-20zM1285 393h20v20h-20zM1285 433h20v20h-20zM1285 453h20v20h-20zM1285 514h20v20h-20zM1285 534h20v20h-20zM1285 574h20v20h-20zM1344 714h20v20h-20z"/>
<path fill="#23aeee" d="M1305 373h20v20h-20zM1305 393h20v20h-20zM1305 433h20v20h-20zM1305 453h20v20h-20zM1305 514h20v20h-20zM1305 534h20v20h-20zM1305 574h20v20h-20zM1325 694h19v20h-19z"/>
<path fill="#78ecb8" d="M1482 413h20v20h-20zM1482 554h20v20h-20z"/>
<path fill="#240aaf" d="M1128 714h20v20h-20z"/>
<path fill="#2413ba" d="M1148 714h19v20h-19z"/>
</g>
<path d="M1613.6 19.3H1289.6V63.5H1613.6" fill="none" stroke="#000" stroke-width="1.2"/>
<text y="56.0" font-family='"Liberation Sans", sans-serif' font-weight="bold" font-size="40.5" fill="#000"><tspan x="1295.4" textLength="114" lengthAdjust="spacingAndGlyphs">2.00 –</tspan><tspan x="1459.2" textLength="148" lengthAdjust="spacingAndGlyphs">0.00 Ma</tspan></text>
<rect x="118.9" y="877.0" width="485.0" height="634.0" fill="#000"/>
<rect x="262.8" y="878.0" width="196.9" height="4.4" fill="#fff"/>
<rect x="262.8" y="1505.6" width="196.9" height="4.4" fill="#fff"/>
<rect x="119.9" y="1055.2" width="4.4" height="281.1" fill="#fff"/>
<rect x="598.5" y="1055.2" width="4.4" height="281.1" fill="#fff"/>
<rect x="119.9" y="878.0" width="4.4" height="4.4" fill="#fff"/>
<rect x="119.9" y="1505.6" width="4.4" height="4.4" fill="#fff"/>
<rect x="598.5" y="878.0" width="4.4" height="4.4" fill="#fff"/>
<rect x="598.5" y="1505.6" width="4.4" height="4.4" fill="#fff"/>
<g shape-rendering="crispEdges">
<path fill="#e5c966" d="M126 884h19v20h-19zM126 904h39v20h-39zM145 924h40v20h-40zM165 944h20v20h-20zM165 1425h20v20h-20zM145 1445h40v20h-40zM126 1465h39v20h-39zM126 1485h19v20h-19z"/>
<path fill="#e4ca67" d="M145 884h40v20h-40zM165 904h20v20h-20zM165 1465h20v20h-20zM145 1485h40v20h-40z"/>
<path fill="#d6d776" d="M185 884h19v20h-19zM185 904h19v20h-19zM185 924h19v20h-19zM185 944h19v20h-19zM185 964h19v20h-19zM185 984h19v20h-19zM185 1004h19v20h-19zM185 1024h19v20h-19zM185 1044h19v20h-19zM185 1064h19v20h-19zM185 1084h19v20h-19zM185 1104h19v20h-19zM185 1124h19v20h-19zM185 1144h19v20h-19zM185 1164h19v20h-19zM185 1184h19v20h-19zM185 1204h19v20h-19zM185 1224h19v20h-19zM185 1244h19v20h-19zM185 1264h19v21h-19zM185 1285h19v20h-19zM185 1305h19v20h-19zM185 1325h19v20h-19zM185 1345h19v20h-19zM185 1365h19v20h-19zM185 1385h19v20h-19zM185 1405h19v20h-19zM185 1425h19v20h-19zM185 1445h19v20h-19zM185 1465h19v20h-19zM185 1485h19v20h-19z"/>
<path fill="#c1e480" d="M204 884h20v20h-20zM204 904h20v20h-20zM204 924h20v20h-20zM204 944h20v20h-20zM204 964h20v20h-20zM204 984h20v20h-20zM204 1004h20v20h-20zM204 1024h20v20h-20zM204 1044h20v20h-20zM204 1064h20v20h-20zM204 1084h20v20h-20zM204 1104h20v20h-20zM204 1124h20v20h-20zM204 1144h20v20h-20zM204 1164h20v20h-20zM204 1184h20v20h-20zM204 1204h20v20h-20zM204 1224h20v20h-20zM204 1244h20v20h-20zM204 1264h20v21h-20zM204 1285h20v20h-20zM204 1305h20v20h-20zM204 1325h20v20h-20zM204 1345h20v20h-20zM204 1365h20v20h-20zM204 1385h20v20h-20zM204 1405h20v20h-20zM204 1425h20v20h-20zM204 1445h20v20h-20zM204 1465h20v20h-20zM204 1485h20v20h-20z"/>
<path fill="#b6e984" d="M224 884h20v20h-20zM224 904h20v20h-20zM224 924h20v20h-20zM224 944h20v20h-20zM224 964h20v20h-20zM224 984h20v20h-20zM224 1004h20v20h-20zM224 1024h20v20h-20zM224 1044h20v20h-20zM224 1064h20v20h-20zM224 1084h20v20h-20zM224 1104h20v20h-20zM224 1124h20v20h-20zM224 1144h20v20h-20zM224 1164h20v20h-20zM224 1184h20v20h-20zM224 1204h20v20h-20zM224 1224h20v20h-20zM224 1244h20v20h-20zM224 1264h20v21h-20zM224 1285h20v20h-20zM224 1305h20v20h-20zM224 1325h20v20h-20zM224 1345h20v20h-20zM224 1365h20v20h-20zM224 1385h20v20h-20zM224 1405h20v20h-20zM224 1425h20v20h-20zM224 1445h20v20h-20zM224 1465h20v20h-20zM224 1485h20v20h-20z"/>
<path fill="#acea8c" d="M244 884h19v20h-19zM244 904h19v20h-19zM244 924h19v20h-19zM244 944h19v20h-19zM244 964h19v20h-19zM244 984h19v20h-19zM244 1004h19v20h-19zM244 1024h19v20h-19zM244 1044h19v20h-19zM244 1064h19v20h-19zM244 1084h19v20h-19zM244 1104h19v20h-19zM244 1124h19v20h-19zM244 1144h19v20h-19zM244 1164h19v20h-19zM244 1184h19v20h-19zM244 1204h19v20h-19zM244 1224h19v20h-19zM244 1244h19v20h-19zM244 1264h19v21h-19zM244 1285h19v20h-19zM244 1305h19v20h-19zM244 1325h19v20h-19zM244 1345h19v20h-19zM244 1365h19v20h-19zM244 1385h19v20h-19zM244 1405h19v20h-19zM244 1425h19v20h-19zM244 1445h19v20h-19zM244 1465h19v20h-19zM244 1485h19v20h-19z"/>
<path fill="#95ec9d" d="M263 884h20v20h-20zM263 904h20v20h-20zM263 924h20v20h-20zM263 944h20v20h-20zM263 964h20v20h-20zM263 984h20v20h-20zM263 1004h20v20h-20zM263 1024h20v20h-20zM263 1044h20v20h-20zM263 1064h20v20h-20zM263 1084h20v20h-20zM263 1104h20v20h-20zM263 1124h20v20h-20zM263 1144h20v20h-20zM263 1164h20v20h-20zM263 1184h20v20h-20zM263 1204h20v20h-20zM263 1224h20v20h-20zM263 1244h20v20h-20zM263 1264h20v21h-20zM263 1285h20v20h-20zM263 1305h20v20h-20zM263 1325h20v20h-20zM263 1345h20v20h-20zM263 1365h20v20h-20zM263 1385h20v20h-20zM263 1405h20v20h-20zM263 1425h20v20h-20zM263 1445h20v20h-20zM263 1465h20v20h-20zM263 1485h20v20h-20z"/>
<path fill="#7becb5" d="M283 884h20v20h-20zM283 904h20v20h-20zM283 924h20v20h-20zM283 944h20v20h-20zM283 964h20v20h-20zM283 984h20v20h-20zM283 1004h20v20h-20zM283 1024h20v20h-20zM283 1044h20v20h-20zM283 1064h20v20h-20zM283 1084h20v20h-20zM283 1104h20v20h-20zM283 1124h20v20h-20zM283 1144h20v20h-20zM283 1164h20v20h-20zM283 1184h20v20h-20zM283 1204h20v20h-20zM283 1224h20v20h-20zM283 1244h20v20h-20zM283 1264h20v21h-20zM283 1285h20v20h-20zM283 1305h20v20h-20zM283 1325h20v20h-20zM283 1345h20v20h-20zM283 1365h20v20h-20zM283 1385h20v20h-20zM283 1405h20v20h-20zM283 1425h20v20h-20zM283 1445h20v20h-20zM283 1465h20v20h-20zM283 1485h20v20h-20z"/>
<path fill="#5aecd6" d="M303 884h19v20h-19zM303 904h19v20h-19zM303 924h19v20h-19zM303 944h19v20h-19zM303 964h19v20h-19zM303 984h19v20h-19zM303 1004h19v20h-19zM303 1024h19v20h-19zM303 1044h19v20h-19zM303 1064h19v20h-19zM303 1084h19v20h-19zM303 1104h19v20h-19zM303 1124h19v20h-19zM303 1144h19v20h-19zM303 1164h19v20h-19zM303 1184h19v20h-19zM303 1204h19v20h-19zM303 1224h19v20h-19zM303 1244h19v20h-19zM303 1264h19v21h-19zM303 1285h19v20h-19zM303 1305h19v20h-19zM303 1325h19v20h-19zM303 1345h19v20h-19zM303 1365h19v20h-19zM303 1385h19v20h-19zM303 1405h19v20h-19zM303 1425h19v20h-19zM303 1445h19v20h-19zM303 1465h19v20h-19zM303 1485h19v20h-19z"/>
<path fill="#34eaeb" d="M322 884h20v20h-20zM322 904h20v20h-20zM322 924h20v20h-20zM322 944h20v20h-20zM322 964h20v20h-20zM322 984h20v20h-20zM322 1004h20v20h-20zM322 1024h20v20h-20zM322 1044h20v20h-20zM322 1064h20v20h-20zM322 1084h20v20h-20zM322 1104h20v20h-20zM322 1124h20v20h-20zM322 1144h20v20h-20zM322 1164h20v20h-20zM322 1184h20v20h-20zM322 1204h20v20h-20zM322 1224h20v20h-20zM322 1244h20v20h-20zM322 1264h20v21h-20zM322 1285h20v20h-20zM322 1305h20v20h-20zM322 1325h20v20h-20zM322 1345h20v20h-20zM322 1365h20v20h-20zM322 1385h20v20h-20zM322 1405h20v20h-20zM322 1425h20v20h-20zM322 1445h20v20h-20zM322 1465h20v20h-20zM322 1485h20v20h-20z"/>
<path fill="#2cceee" d="M342 884h20v20h-20zM342 904h20v20h-20zM342 924h20v20h-20zM342 944h20v20h-20zM342 964h20v20h-20zM342 984h20v20h-20zM342 1004h20v20h-20zM342 1024h20v20h-20zM342 1044h20v20h-20zM342 1064h20v20h-20zM342 1084h20v20h-20zM342 1104h20v20h-20zM342 1124h20v20h-20zM342 1144h20v20h-20zM342 1164h20v20h-20zM342 1184h20v20h-20zM342 1204h20v20h-20zM342 1224h20v20h-20zM342 1244h20v20h-20zM342 1264h20v21h-20zM342 1285h20v20h-20zM342 1305h20v20h-20zM342 1325h20v20h-20zM342 1345h20v20h-20zM342 1365h20v20h-20zM342 1385h20v20h-20zM342 1405h20v20h-20zM342 1425h20v20h-20zM342 1445h20v20h-20zM342 1465h20v20h-20zM342 1485h20v20h-20z"/>
<path fill="#23aeee" d="M362 884h19v20h-19zM362 904h19v20h-19zM362 924h19v20h-19zM362 944h19v20h-19zM362 964h19v20h-19zM362 984h19v20h-19zM362 1004h19v20h-19zM362 1024h19v20h-19zM362 1044h19v20h-19zM362 1064h19v20h-19zM362 1084h19v20h-19zM362 1104h19v20h-19zM362 1124h19v20h-19zM362 1144h19v20h-19zM362 1164h19v20h-19zM362 1184h19v20h-19zM362 1204h19v20h-19zM362 1224h19v20h-19zM362 1244h19v20h-19zM362 1264h19v21h-19zM362 1285h19v20h-19zM362 1305h19v20h-19zM362 1325h19v20h-19zM362 1345h19v20h-19zM362 1365h19v20h-19zM362 1385h19v20h-19zM362 1405h19v20h-19zM362 1425h19v20h-19zM362 1445h19v20h-19zM362 1465h19v20h-19zM362 1485h19v20h-19z"/>
<path fill="#178eec" d="M381 884h20v20h-20zM381 904h20v20h-20zM381 924h20v20h-20zM381 944h20v20h-20zM381 964h20v20h-20zM381 984h20v20h-20zM381 1004h20v20h-20zM381 1024h20v20h-20zM381 1044h20v20h-20zM381 1064h20v20h-20zM381 1084h20v20h-20zM381 1104h20v20h-20zM381 1124h20v20h-20zM381 1144h20v20h-20zM381 1164h20v20h-20zM381 1184h20v20h-20zM381 1204h20v20h-20zM381 1224h20v20h-20zM381 1244h20v20h-20zM381 1264h20v21h-20zM381 1285h20v20h-20zM381 1305h20v20h-20zM381 1325h20v20h-20zM381 1345h20v20h-20zM381 1365h20v20h-20zM381 1385h20v20h-20zM381 1405h20v20h-20zM381 1425h20v20h-20zM381 1445h20v20h-20zM381 1465h20v20h-20zM381 1485h20v20h-20z"/>
<path fill="#1670e6" d="M401 884h20v20h-20zM401 904h20v20h-20zM401 924h20v20h-20zM401 944h20v20h-20zM401 964h20v20h-20zM401 984h20v20h-20zM401 1004h20v20h-20zM401 1024h20v20h-20zM401 1044h20v20h-20zM401 1064h20v20h-20zM401 1084h20v20h-20zM401 1104h20v20h-20zM401 1124h20v20h-20zM401 1144h20v20h-20zM401 1164h20v20h-20zM401 1184h20v20h-20zM401 1204h20v20h-20zM401 1224h20v20h-20zM401 1244h20v20h-20zM401 1264h20v21h-20zM401 1285h20v20h-20zM401 1305h20v20h-20zM401 1325h20v20h-20zM401 1345h20v20h-20zM401 1365h20v20h-20zM401 1385h20v20h-20zM401 1405h20v20h-20zM401 1425h20v20h-20zM401 1445h20v20h-20zM401 1465h20v20h-20zM401 1485h20v20h-20z"/>
<path fill="#1954d9" d="M421 884h19v20h-19zM421 904h19v20h-19zM421 924h19v20h-19zM421 944h19v20h-19zM421 964h19v20h-19zM421 984h19v20h-19zM421 1004h19v20h-19zM421 1024h19v20h-19zM421 1044h19v20h-19zM421 1064h19v20h-19zM421 1084h19v20h-19zM421 1104h19v20h-19zM421 1124h19v20h-19zM421 1144h19v20h-19zM421 1164h19v20h-19zM421 1184h19v20h-19zM421 1204h19v20h-19zM421 1224h19v20h-19zM421 1244h19v20h-19zM421 1264h19v21h-19zM421 1285h19v20h-19zM421 1305h19v20h-19zM421 1325h19v20h-19zM421 1345h19v20h-19zM421 1365h19v20h-19zM421 1385h19v20h-19zM421 1405h19v20h-19zM421 1425h19v20h-19zM421 1445h19v20h-19zM421 1465h19v20h-19zM421 1485h19v20h-19z"/>
<path fill="#1c40cf" d="M440 884h20v20h-20zM460 1465h20v20h-20zM460 1485h20v20h-20z"/>
<path fill="#1f2bc4" d="M460 884h20v20h-20z"/>
<path fill="#2319bc" d="M480 884h20v20h-20z"/>
<path fill="#250db8" d="M500 884h19v20h-19zM578 1465h20v20h-20zM578 1485h20v20h-20z"/>
<path fill="#240ab1" d="M519 884h20v20h-20zM500 944h19v20h-19z"/>
<path fill="#230bac" d="M539 884h20v20h-20zM519 1445h20v20h-20z"/>
<path fill="#220cab" d="M559 884h19v20h-19zM539 904h20v20h-20zM519 924h20v20h-20z"/>
<path fill="#220ca9" d="M578 884h20v20h-20zM559 904h19v20h-19z"/>
<path fill="#1d3ccd" d="M440 904h20v20h-20zM440 924h20v20h-20zM440 1445h20v20h-20z"/>
<path fill="#2029c4" d="M460 904h20v20h-20z"/>
<path fill="#2415bb" d="M480 904h20v20h-20z"/>
<path fill="#260bb7" d="M500 904h19v20h-19zM480 944h20v20h-20zM480 964h20v20h-20zM480 984h20v20h-20zM480 1004h20v20h-20zM480 1024h20v20h-20zM480 1044h20v20h-20zM480 1064h20v20h-20zM480 1084h20v20h-20zM480 1104h20v20h-20zM480 1124h20v20h-20zM480 1144h20v20h-20zM480 1164h20v20h-20zM480 1184h20v20h-20zM480 1204h20v20h-20zM480 1224h20v20h-20zM480 1244h20v20h-20zM480 1264h20v21h-20zM480 1285h20v20h-20zM480 1305h20v20h-20zM480 1325h20v20h-20zM480 1345h20v20h-20zM480 1365h20v20h-20zM480 1385h20v20h-20zM480 1405h20v20h-20zM480 1425h20v20h-20z"/>
<path fill="#240aaf" d="M519 904h20v20h-20zM500 964h19v20h-19zM500 984h19v20h-19zM500 1004h19v20h-19zM500 1024h19v20h-19zM500 1044h19v20h-19zM500 1064h19v20h-19zM500 1084h19v20h-19zM500 1104h19v20h-19zM500 1124h19v20h-19zM500 1144h19v20h-19zM500 1164h19v20h-19zM500 1184h19v20h-19zM500 1204h19v20h-19zM500 1224h19v20h-19zM500 1244h19v20h-19zM500 1264h19v21h-19zM500 1285h19v20h-19zM500 1305h19v20h-19zM500 1325h19v20h-19zM500 1345h19v20h-19zM500 1365h19v20h-19zM500 1385h19v20h-19zM500 1405h19v20h-19zM500 1425h19v20h-19z"/>
<path fill="#210da8" d="M578 904h20v20h-20zM539 924h20v20h-20zM519 944h20v20h-20zM539 1445h39v20h-39z"/>
<path fill="#e6c864" d="M126 924h19v20h-19zM126 944h39v20h-39zM145 964h40v20h-40zM165 984h20v20h-20zM165 1385h20v20h-20zM145 1405h40v20h-40zM126 1425h39v20h-39zM126 1445h19v20h-19z"/>
<path fill="#2125c2" d="M460 924h20v20h-20z"/>
<path fill="#2411b9" d="M480 924h20v20h-20zM539 1465h20v20h-20zM539 1485h20v20h-20z"/>
<path fill="#2608b5" d="M500 924h19v20h-19zM500 1445h19v20h-19z"/>
<path fill="#210da6" d="M559 924h19v20h-19zM519 964h20v20h-20zM519 984h20v20h-20zM519 1004h20v20h-20zM519 1024h20v20h-20zM519 1044h20v20h-20zM519 1064h20v20h-20zM519 1084h20v20h-20zM519 1104h20v20h-20zM519 1124h20v20h-20zM519 1144h20v20h-20zM519 1164h20v20h-20zM519 1184h20v20h-20zM519 1204h20v20h-20zM519 1224h20v20h-20zM519 1244h20v20h-20zM519 1264h20v21h-20zM519 1285h20v20h-20zM519 1305h20v20h-20zM519 1325h20v20h-20zM519 1345h20v20h-20zM519 1365h20v20h-20zM519 1385h20v20h-20zM519 1405h20v20h-20zM519 1425h20v20h-20zM578 1445h20v20h-20z"/>
<path fill="#200ea5" d="M578 924h20v20h-20z"/>
<path fill="#1d3acc" d="M440 944h20v20h-20z"/>
<path fill="#2121c0" d="M460 944h20v20h-20z"/>
<path fill="#200fa4" d="M539 944h20v20h-20z"/>
<path fill="#1f0fa3" d="M559 944h19v20h-19zM539 964h20v20h-20zM539 984h20v20h-20zM539 1004h20v20h-20zM539 1024h20v20h-20zM539 1044h20v20h-20zM539 1064h20v20h-20zM539 1084h20v20h-20zM539 1104h20v20h-20zM539 1124h20v20h-20zM539 1144h20v20h-20zM539 1164h20v20h-20zM539 1184h20v20h-20zM539 1204h20v20h-20zM539 1224h20v20h-20zM539 1244h20v20h-20zM539 1264h20v21h-20zM539 1285h20v20h-20zM539 1305h20v20h-20zM539 1325h20v20h-20zM539 1345h20v20h-20zM539 1365h20v20h-20zM539 1385h20v20h-20zM539 1405h20v20h-20zM539 1425h20v20h-20z"/>
<path fill="#1f10a1" d="M578 944h20v20h-20zM559 964h39v20h-39zM559 984h39v20h-39zM559 1004h39v20h-39zM559 1024h39v20h-39zM559 1044h39v20h-39zM559 1064h39v20h-39zM559 1084h39v20h-39zM559 1104h39v20h-39zM559 1124h39v20h-39zM559 1144h39v20h-39zM559 1164h39v20h-39zM559 1184h39v20h-39zM559 1204h39v20h-39zM559 1224h39v20h-39zM559 1244h39v20h-39zM559 1264h39v21h-39zM559 1285h39v20h-39zM559 1305h39v20h-39zM559 1325h39v20h-39zM559 1345h39v20h-39zM559 1365h39v20h-39zM559 1385h39v20h-39zM559 1405h39v20h-39zM559 1425h39v20h-39z"/>
<path fill="#e5c763" d="M126 964h19v20h-19zM126 984h39v20h-39zM145 1004h40v20h-40zM165 1024h20v20h-20zM165 1044h20v20h-20zM165 1325h20v20h-20zM165 1345h20v20h-20zM145 1365h40v20h-40zM126 1385h39v20h-39zM126 1405h19v20h-19z"/>
<path fill="#1d36ca" d="M440 964h20v20h-20zM440 984h20v20h-20zM440 1004h20v20h-20zM440 1024h20v20h-20zM440 1044h20v20h-20zM440 1064h20v20h-20zM440 1084h20v20h-20zM440 1104h20v20h-20zM440 1124h20v20h-20zM440 1144h20v20h-20zM440 1164h20v20h-20zM440 1184h20v20h-20zM440 1204h20v20h-20zM440 1224h20v20h-20zM440 1244h20v20h-20zM440 1264h20v21h-20zM440 1285h20v20h-20zM440 1305h20v20h-20zM440 1325h20v20h-20zM440 1345h20v20h-20zM440 1365h20v20h-20zM440 1385h20v20h-20zM440 1405h20v20h-20zM440 1425h20v20h-20z"/>
<path fill="#221fbe" d="M460 964h20v20h-20zM460 984h20v20h-20zM460 1004h20v20h-20zM460 1024h20v20h-20zM460 1044h20v20h-20zM460 1064h20v20h-20zM460 1084h20v20h-20zM460 1104h20v20h-20zM460 1124h20v20h-20zM460 1144h20v20h-20zM460 1164h20v20h-20zM460 1184h20v20h-20zM460 1204h20v20h-20zM460 1224h20v20h-20zM460 1244h20v20h-20zM460 1264h20v21h-20zM460 1285h20v20h-20zM460 1305h20v20h-20zM460 1325h20v20h-20zM460 1345h20v20h-20zM460 1365h20v20h-20zM460 1385h20v20h-20zM460 1405h20v20h-20zM460 1425h20v20h-20z"/>
<path fill="#e4c562" d="M126 1004h19v20h-19zM126 1024h39v20h-39zM126 1044h39v20h-39zM145 1064h40v20h-40zM145 1084h40v20h-40zM165 1104h20v20h-20zM165 1124h20v20h-20zM165 1144h20v20h-20zM165 1164h20v20h-20zM165 1184h20v20h-20zM165 1204h20v20h-20zM165 1224h20v20h-20zM165 1244h20v20h-20zM165 1264h20v21h-20zM145 1285h40v20h-40zM145 1305h40v20h-40zM126 1325h39v20h-39zM126 1345h39v20h-39zM126 1365h19v20h-19z"/>
<path fill="#e2c361" d="M126 1064h19v20h-19zM126 1084h19v20h-19zM126 1104h39v20h-39zM126 1124h39v20h-39zM145 1144h20v20h-20zM145 1164h20v20h-20zM145 1184h20v20h-20zM145 1204h20v20h-20zM145 1224h20v20h-20zM126 1244h39v20h-39zM126 1264h39v21h-39zM126 1285h19v20h-19zM126 1305h19v20h-19z"/>
<path fill="#e1c161" d="M126 1144h19v20h-19zM126 1164h19v20h-19zM126 1184h19v20h-19zM126 1204h19v20h-19zM126 1224h19v20h-19z"/>
<path fill="#2027c2" d="M460 1445h20v20h-20z"/>
<path fill="#2413ba" d="M480 1445h20v20h-20z"/>
<path fill="#1b4cd5" d="M440 1465h20v20h-20zM440 1485h20v20h-20z"/>
<path fill="#1f2dc6" d="M480 1465h20v20h-20zM480 1485h20v20h-20z"/>
<path fill="#2123c0" d="M500 1465h19v20h-19zM500 1485h19v20h-19z"/>
<path fill="#2317bb" d="M519 1465h20v20h-20zM519 1485h20v20h-20z"/>
<path fill="#250fb8" d="M559 1465h19v20h-19zM559 1485h19v20h-19z"/>
</g>
<g fill="#fff" stroke="#000" stroke-width="1" stroke-dasharray="1.1 2.1"><circle cx="164.4" cy="914.6" r="11.6"/><circle cx="213.6" cy="914.6" r="11.6"/><circle cx="262.8" cy="914.6" r="11.6"/><circle cx="312.1" cy="914.6" r="11.6"/><circle cx="361.3" cy="914.6" r="11.6"/><circle cx="410.5" cy="914.6" r="11.6"/><circle cx="459.7" cy="914.6" r="11.6"/><circle cx="508.9" cy="914.6" r="11.6"/><circle cx="558.2" cy="914.6" r="11.6"/><circle cx="164.4" cy="984.9" r="11.6"/><circle cx="213.6" cy="984.9" r="11.6"/><circle cx="262.8" cy="984.9" r="11.6"/><circle cx="312.1" cy="984.9" r="11.6"/><circle cx="361.3" cy="984.9" r="11.6"/><circle cx="410.5" cy="984.9" r="11.6"/><circle cx="459.7" cy="984.9" r="11.6"/><circle cx="508.9" cy="984.9" r="11.6"/><circle cx="558.2" cy="984.9" r="11.6"/><circle cx="164.4" cy="1055.2" r="11.6"/><circle cx="213.6" cy="1055.2" r="11.6"/><circle cx="262.8" cy="1055.2" r="11.6"/><circle cx="312.1" cy="1055.2" r="11.6"/><circle cx="361.3" cy="1055.2" r="11.6"/><circle cx="410.5" cy="1055.2" r="11.6"/><circle cx="459.7" cy="1055.2" r="11.6"/><circle cx="508.9" cy="1055.2" r="11.6"/><circle cx="558.2" cy="1055.2" r="11.6"/><circle cx="164.4" cy="1125.4" r="11.6"/><circle cx="213.6" cy="1125.4" r="11.6"/><circle cx="262.8" cy="1125.4" r="11.6"/><circle cx="312.1" cy="1125.4" r="11.6"/><circle cx="361.3" cy="1125.4" r="11.6"/><circle cx="410.5" cy="1125.4" r="11.6"/><circle cx="459.7" cy="1125.4" r="11.6"/><circle cx="508.9" cy="1125.4" r="11.6"/><circle cx="558.2" cy="1125.4" r="11.6"/><circle cx="164.4" cy="1195.7" r="11.6"/><circle cx="213.6" cy="1195.7" r="11.6"/><circle cx="262.8" cy="1195.7" r="11.6"/><circle cx="312.1" cy="1195.7" r="11.6"/><circle cx="361.3" cy="1195.7" r="11.6"/><circle cx="410.5" cy="1195.7" r="11.6"/><circle cx="459.7" cy="1195.7" r="11.6"/><circle cx="508.9" cy="1195.7" r="11.6"/><circle cx="558.2" cy="1195.7" r="11.6"/><circle cx="164.4" cy="1266.0" r="11.6"/><circle cx="213.6" cy="1266.0" r="11.6"/><circle cx="262.8" cy="1266.0" r="11.6"/><circle cx="312.1" cy="1266.0" r="11.6"/><circle cx="361.3" cy="1266.0" r="11.6"/><circle cx="410.5" cy="1266.0" r="11.6"/><circle cx="459.7" cy="1266.0" r="11.6"/><circle cx="508.9" cy="1266.0" r="11.6"/><circle cx="558.2" cy="1266.0" r="11.6"/><circle cx="164.4" cy="1336.3" r="11.6"/><circle cx="213.6" cy="1336.3" r="11.6"/><circle cx="262.8" cy="1336.3" r="11.6"/><circle cx="312.1" cy="1336.3" r="11.6"/><circle cx="361.3" cy="1336.3" r="11.6"/><circle cx="410.5" cy="1336.3" r="11.6"/><circle cx="459.7" cy="1336.3" r="11.6"/><circle cx="508.9" cy="1336.3" r="11.6"/><circle cx="558.2" cy="1336.3" r="11.6"/><circle cx="164.4" cy="1406.6" r="11.6"/><circle cx="213.6" cy="1406.6" r="11.6"/><circle cx="262.8" cy="1406.6" r="11.6"/><circle cx="312.1" cy="1406.6" r="11.6"/><circle cx="361.3" cy="1406.6" r="11.6"/><circle cx="410.5" cy="1406.6" r="11.6"/><circle cx="459.7" cy="1406.6" r="11.6"/><circle cx="508.9" cy="1406.6" r="11.6"/><circle cx="558.2" cy="1406.6" r="11.6"/><circle cx="164.4" cy="1476.8" r="11.6"/><circle cx="213.6" cy="1476.8" r="11.6"/><circle cx="262.8" cy="1476.8" r="11.6"/><circle cx="312.1" cy="1476.8" r="11.6"/><circle cx="361.3" cy="1476.8" r="11.6"/><circle cx="410.5" cy="1476.8" r="11.6"/><circle cx="459.7" cy="1476.8" r="11.6"/><circle cx="508.9" cy="1476.8" r="11.6"/><circle cx="558.2" cy="1476.8" r="11.6"/></g>
<path fill="#000" d="M253.9 914.6l8.9 -8.9l8.9 8.9l-8.9 8.9zM303.2 914.6l8.9 -8.9l8.9 8.9l-8.9 8.9zM352.4 914.6l8.9 -8.9l8.9 8.9l-8.9 8.9zM401.6 914.6l8.9 -8.9l8.9 8.9l-8.9 8.9zM450.8 914.6l8.9 -8.9l8.9 8.9l-8.9 8.9zM500.0 914.6l8.9 -8.9l8.9 8.9l-8.9 8.9zM549.3 914.6l8.9 -8.9l8.9 8.9l-8.9 8.9zM253.9 984.9l8.9 -8.9l8.9 8.9l-8.9 8.9zM303.2 984.9l8.9 -8.9l8.9 8.9l-8.9 8.9zM352.4 984.9l8.9 -8.9l8.9 8.9l-8.9 8.9zM401.6 984.9l8.9 -8.9l8.9 8.9l-8.9 8.9zM450.8 984.9l8.9 -8.9l8.9 8.9l-8.9 8.9zM500.0 984.9l8.9 -8.9l8.9 8.9l-8.9 8.9zM549.3 984.9l8.9 -8.9l8.9 8.9l-8.9 8.9zM253.9 1055.2l8.9 -8.9l8.9 8.9l-8.9 8.9zM303.2 1055.2l8.9 -8.9l8.9 8.9l-8.9 8.9zM352.4 1055.2l8.9 -8.9l8.9 8.9l-8.9 8.9zM401.6 1055.2l8.9 -8.9l8.9 8.9l-8.9 8.9zM450.8 1055.2l8.9 -8.9l8.9 8.9l-8.9 8.9zM500.0 1055.2l8.9 -8.9l8.9 8.9l-8.9 8.9zM549.3 1055.2l8.9 -8.9l8.9 8.9l-8.9 8.9zM253.9 1125.4l8.9 -8.9l8.9 8.9l-8.9 8.9zM303.2 1125.4l8.9 -8.9l8.9 8.9l-8.9 8.9zM352.4 1125.4l8.9 -8.9l8.9 8.9l-8.9 8.9zM401.6 1125.4l8.9 -8.9l8.9 8.9l-8.9 8.9zM450.8 1125.4l8.9 -8.9l8.9 8.9l-8.9 8.9zM500.0 1125.4l8.9 -8.9l8.9 8.9l-8.9 8.9zM549.3 1125.4l8.9 -8.9l8.9 8.9l-8.9 8.9zM253.9 1195.7l8.9 -8.9l8.9 8.9l-8.9 8.9zM303.2 1195.7l8.9 -8.9l8.9 8.9l-8.9 8.9zM352.4 1195.7l8.9 -8.9l8.9 8.9l-8.9 8.9zM401.6 1195.7l8.9 -8.9l8.9 8.9l-8.9 8.9zM450.8 1195.7l8.9 -8.9l8.9 8.9l-8.9 8.9zM500.0 1195.7l8.9 -8.9l8.9 8.9l-8.9 8.9zM549.3 1195.7l8.9 -8.9l8.9 8.9l-8.9 8.9zM253.9 1266.0l8.9 -8.9l8.9 8.9l-8.9 8.9zM303.2 1266.0l8.9 -8.9l8.9 8.9l-8.9 8.9zM352.4 1266.0l8.9 -8.9l8.9 8.9l-8.9 8.9zM401.6 1266.0l8.9 -8.9l8.9 8.9l-8.9 8.9zM450.8 1266.0l8.9 -8.9l8.9 8.9l-8.9 8.9zM500.0 1266.0l8.9 -8.9l8.9 8.9l-8.9 8.9zM549.3 1266.0l8.9 -8.9l8.9 8.9l-8.9 8.9zM253.9 1336.3l8.9 -8.9l8.9 8.9l-8.9 8.9zM303.2 1336.3l8.9 -8.9l8.9 8.9l-8.9 8.9zM352.4 1336.3l8.9 -8.9l8.9 8.9l-8.9 8.9zM401.6 1336.3l8.9 -8.9l8.9 8.9l-8.9 8.9zM450.8 1336.3l8.9 -8.9l8.9 8.9l-8.9 8.9zM500.0 1336.3l8.9 -8.9l8.9 8.9l-8.9 8.9zM549.3 1336.3l8.9 -8.9l8.9 8.9l-8.9 8.9zM253.9 1406.6l8.9 -8.9l8.9 8.9l-8.9 8.9zM303.2 1406.6l8.9 -8.9l8.9 8.9l-8.9 8.9zM352.4 1406.6l8.9 -8.9l8.9 8.9l-8.9 8.9zM401.6 1406.6l8.9 -8.9l8.9 8.9l-8.9 8.9zM450.8 1406.6l8.9 -8.9l8.9 8.9l-8.9 8.9zM500.0 1406.6l8.9 -8.9l8.9 8.9l-8.9 8.9zM549.3 1406.6l8.9 -8.9l8.9 8.9l-8.9 8.9zM253.9 1476.8l8.9 -8.9l8.9 8.9l-8.9 8.9zM303.2 1476.8l8.9 -8.9l8.9 8.9l-8.9 8.9zM352.4 1476.8l8.9 -8.9l8.9 8.9l-8.9 8.9zM401.6 1476.8l8.9 -8.9l8.9 8.9l-8.9 8.9zM450.8 1476.8l8.9 -8.9l8.9 8.9l-8.9 8.9zM500.0 1476.8l8.9 -8.9l8.9 8.9l-8.9 8.9zM549.3 1476.8l8.9 -8.9l8.9 8.9l-8.9 8.9z"/>
<path d="M287.2 789.8V834.0H611.7V789.8" fill="none" stroke="#000" stroke-width="1.2"/>
<text y="826.5" font-family='"Liberation Sans", sans-serif' font-weight="bold" font-size="40.5" fill="#000"><tspan x="293.0" textLength="114" lengthAdjust="spacingAndGlyphs">4.00 –</tspan><tspan x="456.8" textLength="148" lengthAdjust="spacingAndGlyphs">2.00 Ma</tspan></text>
<rect x="621.2" y="877.0" width="485.0" height="634.0" fill="#000"/>
<rect x="765.1" y="878.0" width="196.9" height="4.4" fill="#fff"/>
<rect x="765.1" y="1505.6" width="196.9" height="4.4" fill="#fff"/>
<rect x="622.2" y="1055.2" width="4.4" height="281.1" fill="#fff"/>
<rect x="1100.8" y="1055.2" width="4.4" height="281.1" fill="#fff"/>
<rect x="622.2" y="878.0" width="4.4" height="4.4" fill="#fff"/>
<rect x="622.2" y="1505.6" width="4.4" height="4.4" fill="#fff"/>
<rect x="1100.8" y="878.0" width="4.4" height="4.4" fill="#fff"/>
<rect x="1100.8" y="1505.6" width="4.4" height="4.4" fill="#fff"/>
<g shape-rendering="crispEdges">
<path fill="#48ff2a" d="M628 884h20v20h-20zM628 1485h20v20h-20z"/>
<path fill="#63ff23" d="M648 884h19v20h-19zM628 944h20v20h-20zM648 1485h19v20h-19z"/>
<path fill="#7dff1c" d="M667 884h20v20h-20zM628 1004h20v20h-20zM628 1405h20v20h-20zM667 1485h20v20h-20z"/>
<path fill="#93ff16" d="M687 884h20v20h-20zM667 924h20v20h-20zM648 1425h19v20h-19z"/>
<path fill="#c3ff07" d="M707 884h19v20h-19zM687 944h20v20h-20zM667 1004h20v20h-20zM667 1405h20v20h-20zM687 1445h20v20h-20z"/>
<path fill="#e4ff02" d="M726 884h20v20h-20zM707 944h19v20h-19zM687 1405h20v20h-20zM707 1445h19v20h-19zM726 1485h20v20h-20z"/>
<path fill="#faff00" d="M746 884h20v20h-20zM707 1004h19v20h-19zM726 1445h20v20h-20zM746 1485h20v20h-20z"/>
<path fill="#fdfc00" d="M766 884h19v20h-19zM1022 884h39v20h-39zM1081 884h19v20h-19zM766 904h19v20h-19zM1041 904h59v20h-59zM1061 924h20v20h-20zM746 984h20v20h-20zM746 1004h20v20h-20zM746 1024h20v20h-20zM726 1044h40v20h-40zM726 1064h40v20h-40zM726 1084h40v20h-40zM726 1104h40v20h-40zM726 1124h40v20h-40zM726 1144h40v20h-40zM726 1164h40v20h-40zM726 1184h40v20h-40zM726 1204h40v20h-40zM726 1224h40v20h-40zM726 1244h40v20h-40zM726 1264h40v21h-40zM726 1285h40v20h-40zM726 1305h40v20h-40zM726 1325h40v20h-40zM726 1345h40v20h-40zM726 1365h40v20h-40zM726 1385h40v20h-40zM746 1405h20v20h-20zM1061 1445h39v20h-39zM1022 1465h39v20h-39zM766 1485h39v20h-39zM884 1485h39v20h-39zM982 1485h40v20h-40z"/>
<path fill="#fefb00" d="M785 884h20v20h-20zM884 884h39v20h-39zM982 884h20v20h-20zM785 904h20v20h-20zM1022 904h19v20h-19zM766 924h39v20h-39zM1041 924h20v20h-20zM1081 924h19v20h-19zM766 944h39v20h-39zM1061 944h39v20h-39zM766 964h39v20h-39zM766 984h39v20h-39zM766 1004h39v20h-39zM766 1024h39v20h-39zM766 1044h19v20h-19zM766 1064h19v20h-19zM766 1084h19v20h-19zM766 1104h19v20h-19zM766 1124h19v20h-19zM766 1144h19v20h-19zM766 1164h19v20h-19zM766 1184h19v20h-19zM766 1204h19v20h-19zM766 1224h19v20h-19zM766 1244h19v20h-19zM766 1264h19v21h-19zM766 1285h19v20h-19zM766 1305h19v20h-19zM766 1325h39v20h-39zM766 1345h39v20h-39zM766 1365h39v20h-39zM766 1385h39v20h-39zM766 1405h39v20h-39zM766 1425h39v20h-39zM1061 1425h39v20h-39zM766 1445h39v20h-39zM1041 1445h20v20h-20zM766 1465h39v20h-39zM884 1465h39v20h-39zM982 1465h20v20h-20zM805 1485h20v20h-20zM844 1485h40v20h-40zM923 1485h59v20h-59z"/>
<path fill="#fffa00" d="M805 884h79v20h-79zM923 884h59v20h-59zM1002 884h20v20h-20zM805 904h20v20h-20zM844 904h79v20h-79zM982 904h20v20h-20zM805 924h20v20h-20zM1022 924h19v20h-19zM805 944h20v20h-20zM1041 944h20v20h-20zM1061 964h20v20h-20zM785 1044h20v20h-20zM785 1064h20v20h-20zM785 1084h20v20h-20zM785 1104h20v20h-20zM785 1124h20v20h-20zM785 1144h20v20h-20zM785 1164h20v20h-20zM785 1184h20v20h-20zM785 1204h20v20h-20zM785 1224h20v20h-20zM785 1244h20v20h-20zM785 1264h20v21h-20zM785 1285h20v20h-20zM785 1305h20v20h-20zM805 1405h20v20h-20zM1061 1405h39v20h-39zM805 1425h20v20h-20zM1041 1425h20v20h-20zM805 1445h20v20h-20zM864 1445h39v20h-39zM1022 1445h19v20h-19zM805 1465h79v20h-79zM923 1465h59v20h-59zM1002 1465h20v20h-20zM825 1485h19v20h-19z"/>
<path fill="#fcfd00" d="M1061 884h20v20h-20zM746 944h20v20h-20zM746 964h20v20h-20zM726 1004h20v20h-20zM726 1024h20v20h-20zM707 1064h19v20h-19zM707 1084h19v20h-19zM707 1104h19v20h-19zM707 1124h19v20h-19zM707 1144h19v20h-19zM707 1164h19v20h-19zM707 1184h19v20h-19zM707 1204h19v20h-19zM707 1224h19v20h-19zM707 1244h19v20h-19zM707 1264h19v21h-19zM707 1285h19v20h-19zM707 1305h19v20h-19zM707 1325h19v20h-19zM707 1345h19v20h-19zM707 1365h19v20h-19zM726 1405h20v20h-20zM746 1425h20v20h-20zM746 1445h20v20h-20zM1061 1465h39v20h-39zM1022 1485h39v20h-39z"/>
<path fill="#4dff29" d="M628 904h20v20h-20z"/>
<path fill="#68ff22" d="M648 904h19v20h-19zM628 1445h20v20h-20z"/>
<path fill="#83ff1b" d="M667 904h20v20h-20zM648 944h19v20h-19zM628 1024h20v20h-20zM648 1445h19v20h-19z"/>
<path fill="#a3ff11" d="M687 904h20v20h-20zM667 944h20v20h-20zM648 1405h19v20h-19zM667 1445h20v20h-20z"/>
<path fill="#ccff05" d="M707 904h19v20h-19zM667 1044h20v20h-20zM667 1385h20v20h-20z"/>
<path fill="#e8ff02" d="M726 904h20v20h-20zM687 1024h20v20h-20z"/>
<path fill="#fbfe00" d="M746 904h20v20h-20zM746 924h20v20h-20zM726 964h20v20h-20zM726 984h20v20h-20zM707 1024h19v20h-19zM707 1044h19v20h-19zM707 1385h19v20h-19zM707 1405h19v20h-19zM726 1425h20v20h-20zM746 1465h20v20h-20zM1061 1485h39v20h-39z"/>
<path fill="#fff800" d="M825 904h19v20h-19zM1002 904h20v20h-20zM825 924h78v20h-78zM805 964h20v20h-20zM1081 964h19v20h-19zM805 984h20v20h-20zM805 1385h20v20h-20zM1061 1385h20v20h-20zM1022 1425h19v20h-19zM825 1445h39v20h-39zM903 1445h20v20h-20zM982 1445h20v20h-20z"/>
<path fill="#fff500" d="M923 904h20v20h-20zM903 924h20v20h-20zM825 944h19v20h-19zM1022 944h19v20h-19zM805 1004h20v20h-20zM805 1325h20v20h-20zM805 1345h20v20h-20zM805 1365h20v20h-20zM1081 1385h19v20h-19zM1041 1405h20v20h-20zM825 1425h78v20h-78zM1002 1445h20v20h-20z"/>
<path fill="#fff300" d="M943 904h39v20h-39zM982 924h40v20h-40zM844 944h59v20h-59zM825 964h19v20h-19zM1041 964h20v20h-20zM1061 984h39v20h-39zM805 1024h20v20h-20zM805 1044h20v20h-20zM805 1264h20v21h-20zM805 1285h20v20h-20zM805 1305h20v20h-20zM1061 1365h20v20h-20zM825 1405h39v20h-39zM903 1425h20v20h-20zM923 1445h59v20h-59z"/>
<path fill="#58ff26" d="M628 924h20v20h-20z"/>
<path fill="#78ff1e" d="M648 924h19v20h-19zM628 984h20v20h-20z"/>
<path fill="#b3ff0c" d="M687 924h20v20h-20z"/>
<path fill="#d8ff03" d="M707 924h19v20h-19z"/>
<path fill="#f0ff01" d="M726 924h20v20h-20zM687 1064h20v20h-20zM687 1084h20v20h-20zM687 1104h20v20h-20zM687 1124h20v20h-20zM687 1144h20v20h-20zM687 1164h20v20h-20zM687 1184h20v20h-20zM687 1204h20v20h-20zM687 1224h20v20h-20zM687 1244h20v20h-20zM687 1264h20v21h-20zM687 1285h20v20h-20zM687 1305h20v20h-20zM687 1325h20v20h-20zM687 1345h20v20h-20zM687 1365h20v20h-20z"/>
<path fill="#fff100" d="M923 924h20v20h-20zM903 944h20v20h-20zM844 964h20v20h-20zM825 984h19v20h-19zM805 1064h20v20h-20zM805 1084h20v20h-20zM805 1104h20v20h-20zM805 1124h20v20h-20zM805 1144h20v20h-20zM805 1164h20v20h-20zM805 1184h20v20h-20zM805 1204h20v20h-20zM805 1224h20v20h-20zM805 1244h20v20h-20zM825 1365h19v20h-19zM1081 1365h19v20h-19zM825 1385h39v20h-39zM1041 1385h20v20h-20zM864 1405h39v20h-39zM1022 1405h19v20h-19zM982 1425h20v20h-20z"/>
<path fill="#ffee00" d="M943 924h39v20h-39zM864 964h20v20h-20zM844 984h20v20h-20zM825 1004h19v20h-19zM1081 1004h19v20h-19zM825 1345h19v20h-19zM1081 1345h19v20h-19zM864 1385h20v20h-20zM903 1405h20v20h-20zM1002 1425h20v20h-20z"/>
<path fill="#f8ff00" d="M726 944h20v20h-20zM707 984h19v20h-19z"/>
<path fill="#ffea00" d="M923 944h39v20h-39zM903 964h20v20h-20zM864 984h20v20h-20zM844 1004h20v20h-20zM1081 1024h19v20h-19zM825 1044h19v20h-19zM825 1064h19v20h-19zM825 1264h19v21h-19zM825 1285h19v20h-19zM1061 1325h39v20h-39zM844 1345h20v20h-20zM864 1365h20v20h-20zM1022 1385h19v20h-19z"/>
<path fill="#ffe700" d="M962 944h20v20h-20zM884 984h19v20h-19zM864 1004h20v20h-20zM844 1024h20v20h-20zM1061 1024h20v20h-20zM825 1084h19v20h-19zM825 1224h19v20h-19zM825 1244h19v20h-19zM844 1305h20v20h-20zM1061 1305h39v20h-39zM844 1325h20v20h-20zM864 1345h20v20h-20zM884 1365h19v20h-19zM903 1385h20v20h-20zM923 1405h20v20h-20zM982 1405h40v20h-40z"/>
<path fill="#ffec00" d="M982 944h40v20h-40zM884 964h19v20h-19zM1022 964h19v20h-19zM1041 984h20v20h-20zM1061 1004h20v20h-20zM825 1024h19v20h-19zM825 1305h19v20h-19zM825 1325h19v20h-19zM1061 1345h20v20h-20zM844 1365h20v20h-20zM1041 1365h20v20h-20zM884 1385h19v20h-19zM923 1425h59v20h-59z"/>
<path fill="#6dff21" d="M628 964h20v20h-20z"/>
<path fill="#8dff17" d="M648 964h19v20h-19zM628 1084h20v20h-20zM628 1104h20v20h-20zM628 1124h20v20h-20zM628 1144h20v20h-20zM628 1164h20v20h-20zM628 1184h20v20h-20zM628 1204h20v20h-20zM628 1224h20v20h-20zM628 1244h20v20h-20zM628 1264h20v21h-20zM628 1285h20v20h-20zM628 1305h20v20h-20zM628 1325h20v20h-20zM628 1345h20v20h-20zM628 1365h20v20h-20zM667 1465h20v20h-20z"/>
<path fill="#adff0d" d="M667 964h20v20h-20zM648 1064h19v20h-19zM648 1084h19v20h-19zM648 1104h19v20h-19zM648 1124h19v20h-19zM648 1144h19v20h-19zM648 1164h19v20h-19zM648 1184h19v20h-19zM648 1204h19v20h-19zM648 1224h19v20h-19zM648 1244h19v20h-19zM648 1264h19v21h-19zM648 1285h19v20h-19zM648 1305h19v20h-19zM648 1325h19v20h-19zM648 1345h19v20h-19zM648 1365h19v20h-19zM687 1465h20v20h-20z"/>
<path fill="#d0ff04" d="M687 964h20v20h-20zM667 1064h20v20h-20zM667 1084h20v20h-20zM667 1104h20v20h-20zM667 1124h20v20h-20zM667 1144h20v20h-20zM667 1164h20v20h-20zM667 1184h20v20h-20zM667 1204h20v20h-20zM667 1224h20v20h-20zM667 1244h20v20h-20zM667 1264h20v21h-20zM667 1285h20v20h-20zM667 1305h20v20h-20zM667 1325h20v20h-20zM667 1345h20v20h-20zM667 1365h20v20h-20z"/>
<path fill="#ecff01" d="M707 964h19v20h-19zM687 1044h20v20h-20zM687 1385h20v20h-20zM726 1465h20v20h-20z"/>
<path fill="#ffe300" d="M923 964h20v20h-20zM903 984h20v20h-20zM884 1004h19v20h-19zM864 1024h20v20h-20zM1061 1044h20v20h-20zM844 1064h20v20h-20zM844 1244h20v20h-20zM844 1264h20v21h-20zM1081 1264h19v21h-19zM1061 1285h20v20h-20zM864 1305h20v20h-20zM864 1325h20v20h-20zM1041 1325h20v20h-20zM884 1345h19v20h-19zM903 1365h20v20h-20zM1002 1385h20v20h-20zM962 1405h20v20h-20z"/>
<path fill="#ffe000" d="M943 964h39v20h-39zM1041 1024h20v20h-20zM864 1044h20v20h-20zM1081 1064h19v20h-19zM844 1084h20v20h-20zM844 1224h20v20h-20zM1081 1244h19v20h-19zM1061 1264h20v21h-20zM864 1285h20v20h-20zM923 1385h20v20h-20zM982 1385h20v20h-20z"/>
<path fill="#ffe500" d="M982 964h40v20h-40zM1022 984h19v20h-19zM1041 1004h20v20h-20zM844 1044h20v20h-20zM1081 1044h19v20h-19zM825 1104h19v20h-19zM825 1124h19v20h-19zM825 1144h19v20h-19zM825 1164h19v20h-19zM825 1184h19v20h-19zM825 1204h19v20h-19zM844 1285h20v20h-20zM1081 1285h19v20h-19zM1041 1345h20v20h-20zM1022 1365h19v20h-19zM943 1405h19v20h-19z"/>
<path fill="#98ff14" d="M648 984h19v20h-19zM687 1485h20v20h-20z"/>
<path fill="#b8ff0a" d="M667 984h20v20h-20zM667 1425h20v20h-20z"/>
<path fill="#dcff03" d="M687 984h20v20h-20z"/>
<path fill="#ffdc00" d="M923 984h20v20h-20zM982 984h40v20h-40zM1041 1044h20v20h-20zM864 1064h20v20h-20zM1061 1084h39v20h-39zM1081 1104h19v20h-19zM1081 1224h19v20h-19zM864 1244h20v20h-20zM1041 1285h20v20h-20zM884 1305h19v20h-19zM923 1365h20v20h-20zM1002 1365h20v20h-20z"/>
<path fill="#ffd900" d="M943 984h19v20h-19zM1022 1024h19v20h-19zM884 1044h19v20h-19zM864 1084h20v20h-20zM1061 1104h20v20h-20zM1081 1124h19v20h-19zM1081 1144h19v20h-19zM1081 1164h19v20h-19zM1081 1184h19v20h-19zM1081 1204h19v20h-19zM1061 1224h20v20h-20zM1041 1264h20v21h-20zM884 1285h19v20h-19zM903 1325h20v20h-20zM1022 1325h19v20h-19zM943 1365h19v20h-19zM982 1365h20v20h-20z"/>
<path fill="#ffd700" d="M962 984h20v20h-20zM903 1024h20v20h-20zM1041 1064h20v20h-20zM864 1104h20v20h-20zM864 1124h20v20h-20zM1061 1124h20v20h-20zM864 1144h20v20h-20zM1061 1144h20v20h-20zM864 1164h20v20h-20zM1061 1164h20v20h-20zM864 1184h20v20h-20zM1061 1184h20v20h-20zM864 1204h20v20h-20zM1061 1204h20v20h-20zM864 1224h20v20h-20zM884 1264h19v21h-19zM903 1305h20v20h-20zM1022 1305h19v20h-19zM962 1365h20v20h-20z"/>
<path fill="#9dff12" d="M648 1004h19v20h-19z"/>
<path fill="#e0ff03" d="M687 1004h20v20h-20z"/>
<path fill="#ffde00" d="M903 1004h20v20h-20zM1022 1004h19v20h-19zM884 1024h19v20h-19zM1061 1064h20v20h-20zM844 1104h20v20h-20zM844 1124h20v20h-20zM844 1144h20v20h-20zM844 1164h20v20h-20zM844 1184h20v20h-20zM844 1204h20v20h-20zM1061 1244h20v20h-20zM864 1264h20v21h-20zM1041 1305h20v20h-20zM884 1325h19v20h-19zM903 1345h20v20h-20zM1022 1345h19v20h-19zM943 1385h39v20h-39z"/>
<path fill="#ffd500" d="M923 1004h20v20h-20zM1002 1004h20v20h-20zM884 1064h19v20h-19zM884 1244h19v20h-19zM1041 1244h20v20h-20zM923 1345h20v20h-20zM982 1345h40v20h-40z"/>
<path fill="#ffd200" d="M943 1004h19v20h-19zM982 1004h20v20h-20zM903 1044h20v20h-20zM1022 1044h19v20h-19zM884 1084h19v20h-19zM1041 1084h20v20h-20zM903 1285h20v20h-20zM1022 1285h19v20h-19zM943 1345h19v20h-19z"/>
<path fill="#ffd000" d="M962 1004h20v20h-20zM923 1024h20v20h-20zM884 1104h19v20h-19zM1041 1104h20v20h-20zM884 1224h19v20h-19zM1041 1224h20v20h-20zM903 1264h20v21h-20zM1022 1264h19v21h-19zM923 1325h20v20h-20zM1002 1325h20v20h-20zM962 1345h20v20h-20z"/>
<path fill="#a8ff0f" d="M648 1024h19v20h-19zM648 1044h19v20h-19zM648 1385h19v20h-19z"/>
<path fill="#c8ff05" d="M667 1024h20v20h-20zM707 1485h19v20h-19z"/>
<path fill="#ffcc00" d="M943 1024h19v20h-19zM923 1285h20v20h-20zM982 1305h40v20h-40zM962 1325h20v20h-20z"/>
<path fill="#ffc900" d="M962 1024h20v20h-20zM923 1044h20v20h-20zM1002 1044h20v20h-20zM903 1084h20v20h-20zM1022 1084h19v20h-19zM903 1224h20v20h-20zM1002 1285h20v20h-20zM943 1305h19v20h-19z"/>
<path fill="#ffce00" d="M982 1024h40v20h-40zM903 1064h20v20h-20zM1022 1064h19v20h-19zM884 1124h19v20h-19zM1041 1124h20v20h-20zM884 1144h19v20h-19zM1041 1144h20v20h-20zM884 1164h19v20h-19zM1041 1164h20v20h-20zM884 1184h19v20h-19zM1041 1184h20v20h-20zM884 1204h19v20h-19zM1041 1204h20v20h-20zM903 1244h20v20h-20zM1022 1244h19v20h-19zM923 1305h20v20h-20zM943 1325h19v20h-19zM982 1325h20v20h-20z"/>
<path fill="#88ff19" d="M628 1044h20v20h-20zM628 1064h20v20h-20zM628 1385h20v20h-20z"/>
<path fill="#ffc700" d="M943 1044h19v20h-19zM982 1044h20v20h-20zM903 1104h20v20h-20zM1022 1104h19v20h-19zM1022 1224h19v20h-19zM923 1264h20v21h-20zM943 1285h19v20h-19zM982 1285h20v20h-20zM962 1305h20v20h-20z"/>
<path fill="#ffc200" d="M962 1044h20v20h-20zM1002 1064h20v20h-20zM1002 1244h20v20h-20zM943 1264h19v21h-19zM982 1264h20v21h-20zM962 1285h20v20h-20z"/>
<path fill="#ffc500" d="M923 1064h20v20h-20zM903 1124h20v20h-20zM1022 1124h19v20h-19zM903 1144h20v20h-20zM1022 1144h19v20h-19zM903 1164h20v20h-20zM1022 1164h19v20h-19zM903 1184h20v20h-20zM1022 1184h19v20h-19zM903 1204h20v20h-20zM1022 1204h19v20h-19zM923 1244h20v20h-20zM1002 1264h20v21h-20z"/>
<path fill="#ffc000" d="M943 1064h19v20h-19zM982 1064h20v20h-20zM923 1084h20v20h-20zM943 1244h19v20h-19zM982 1244h20v20h-20zM962 1264h20v21h-20z"/>
<path fill="#ffbe00" d="M962 1064h20v20h-20zM1002 1084h20v20h-20zM923 1104h20v20h-20zM923 1224h20v20h-20z"/>
<path fill="#ffbc00" d="M943 1084h19v20h-19zM982 1084h20v20h-20zM1002 1104h20v20h-20zM923 1124h20v20h-20zM923 1144h20v20h-20zM923 1164h20v20h-20zM923 1184h20v20h-20zM923 1204h20v20h-20zM1002 1224h20v20h-20zM962 1244h20v20h-20z"/>
<path fill="#ffb700" d="M962 1084h20v20h-20zM982 1104h20v20h-20zM943 1124h19v20h-19zM943 1144h19v20h-19zM943 1164h19v20h-19zM943 1184h19v20h-19zM943 1204h19v20h-19zM962 1224h20v20h-20z"/>
<path fill="#ffb900" d="M943 1104h19v20h-19zM1002 1124h20v20h-20zM1002 1144h20v20h-20zM1002 1164h20v20h-20zM1002 1184h20v20h-20zM1002 1204h20v20h-20zM943 1224h19v20h-19zM982 1224h20v20h-20z"/>
<path fill="#ffb500" d="M962 1104h20v20h-20zM982 1124h20v20h-20zM982 1144h20v20h-20zM982 1164h20v20h-20zM982 1184h20v20h-20zM982 1204h20v20h-20z"/>
<path fill="#ffb200" d="M962 1124h20v20h-20zM962 1144h20v20h-20zM962 1164h20v20h-20zM962 1184h20v20h-20zM962 1204h20v20h-20z"/>
<path fill="#73ff1f" d="M628 1425h20v20h-20zM648 1465h19v20h-19z"/>
<path fill="#d4ff04" d="M687 1425h20v20h-20zM707 1465h19v20h-19z"/>
<path fill="#f4ff01" d="M707 1425h19v20h-19z"/>
<path fill="#53ff27" d="M628 1465h20v20h-20z"/>
</g>
<g fill="#000"><circle cx="863.6" cy="914.6" r="12.0"/><circle cx="912.8" cy="914.6" r="12.0"/><circle cx="962.0" cy="914.6" r="12.0"/><circle cx="1011.2" cy="914.6" r="12.0"/><circle cx="1060.5" cy="914.6" r="12.0"/><circle cx="863.6" cy="984.9" r="12.0"/><circle cx="912.8" cy="984.9" r="12.0"/><circle cx="962.0" cy="984.9" r="12.0"/><circle cx="1011.2" cy="984.9" r="12.0"/><circle cx="1060.5" cy="984.9" r="12.0"/><circle cx="863.6" cy="1055.2" r="12.0"/><circle cx="912.8" cy="1055.2" r="12.0"/><circle cx="962.0" cy="1055.2" r="12.0"/><circle cx="1011.2" cy="1055.2" r="12.0"/><circle cx="1060.5" cy="1055.2" r="12.0"/><circle cx="863.6" cy="1125.4" r="12.0"/><circle cx="912.8" cy="1125.4" r="12.0"/><circle cx="962.0" cy="1125.4" r="12.0"/><circle cx="1011.2" cy="1125.4" r="12.0"/><circle cx="1060.5" cy="1125.4" r="12.0"/><circle cx="863.6" cy="1195.7" r="12.0"/><circle cx="912.8" cy="1195.7" r="12.0"/><circle cx="962.0" cy="1195.7" r="12.0"/><circle cx="1011.2" cy="1195.7" r="12.0"/><circle cx="1060.5" cy="1195.7" r="12.0"/><circle cx="863.6" cy="1266.0" r="12.0"/><circle cx="912.8" cy="1266.0" r="12.0"/><circle cx="962.0" cy="1266.0" r="12.0"/><circle cx="1011.2" cy="1266.0" r="12.0"/><circle cx="1060.5" cy="1266.0" r="12.0"/><circle cx="863.6" cy="1336.3" r="12.0"/><circle cx="912.8" cy="1336.3" r="12.0"/><circle cx="962.0" cy="1336.3" r="12.0"/><circle cx="1011.2" cy="1336.3" r="12.0"/><circle cx="1060.5" cy="1336.3" r="12.0"/><circle cx="863.6" cy="1406.6" r="12.0"/><circle cx="912.8" cy="1406.6" r="12.0"/><circle cx="962.0" cy="1406.6" r="12.0"/><circle cx="1011.2" cy="1406.6" r="12.0"/><circle cx="1060.5" cy="1406.6" r="12.0"/><circle cx="863.6" cy="1476.8" r="12.0"/><circle cx="912.8" cy="1476.8" r="12.0"/><circle cx="962.0" cy="1476.8" r="12.0"/><circle cx="1011.2" cy="1476.8" r="12.0"/><circle cx="1060.5" cy="1476.8" r="12.0"/></g>
<path d="M789.4 789.8V834.0H1113.9V789.8" fill="none" stroke="#000" stroke-width="1.2"/>
<text y="826.5" font-family='"Liberation Sans", sans-serif' font-weight="bold" font-size="40.5" fill="#000"><tspan x="795.2" textLength="114" lengthAdjust="spacingAndGlyphs">4.00 –</tspan><tspan x="959.0" textLength="148" lengthAdjust="spacingAndGlyphs">2.00 Ma</tspan></text>
<rect x="1123.3" y="877.0" width="485.0" height="634.0" fill="#000"/>
<rect x="1464.1" y="878.0" width="137.8" height="4.4" fill="#fff"/>
<rect x="1464.1" y="1505.6" width="137.8" height="4.4" fill="#fff"/>
<rect x="1124.3" y="1055.2" width="4.4" height="449.4" fill="#fff"/>
<rect x="1602.9" y="1055.2" width="4.4" height="449.4" fill="#fff"/>
<rect x="1124.3" y="878.0" width="4.4" height="4.4" fill="#fff"/>
<rect x="1124.3" y="1505.6" width="4.4" height="4.4" fill="#fff"/>
<rect x="1602.9" y="878.0" width="4.4" height="4.4" fill="#fff"/>
<rect x="1602.9" y="1505.6" width="4.4" height="4.4" fill="#fff"/>
<g shape-rendering="crispEdges">
<path fill="#2509b3" d="M1130 884h20v20h-20z"/>
<path fill="#2317bb" d="M1150 884h19v20h-19z"/>
<path fill="#2029c4" d="M1169 884h20v20h-20z"/>
<path fill="#1e34c9" d="M1189 884h20v20h-20zM1169 1104h20v20h-20zM1169 1124h20v20h-20zM1169 1184h20v20h-20zM1169 1244h20v20h-20zM1169 1264h20v21h-20zM1169 1325h20v20h-20z"/>
<path fill="#1c42d0" d="M1209 884h19v20h-19zM1189 1084h20v20h-20zM1189 1144h20v20h-20zM1189 1164h20v20h-20zM1189 1204h20v20h-20zM1189 1224h20v20h-20zM1189 1285h20v20h-20zM1189 1305h20v20h-20zM1228 1485h20v20h-20z"/>
<path fill="#1b4cd5" d="M1228 884h20v20h-20zM1209 964h19v20h-19zM1209 1004h19v20h-19zM1209 1465h19v20h-19z"/>
<path fill="#1a51d8" d="M1248 884h20v20h-20zM1228 944h20v20h-20zM1209 1084h19v20h-19zM1209 1144h19v20h-19zM1209 1164h19v20h-19zM1209 1204h19v20h-19zM1209 1224h19v20h-19zM1209 1285h19v20h-19zM1209 1305h19v20h-19zM1228 1445h20v20h-20zM1288 1485h19v20h-19z"/>
<path fill="#1957da" d="M1268 884h20v20h-20zM1248 944h20v20h-20zM1228 964h20v20h-20zM1228 1004h20v20h-20zM1228 1024h20v20h-20zM1209 1124h19v20h-19zM1209 1264h19v21h-19zM1209 1325h19v20h-19zM1248 1445h20v20h-20zM1228 1465h20v20h-20zM1366 1485h59v20h-59z"/>
<path fill="#195adc" d="M1288 884h19v20h-19zM1268 924h20v20h-20zM1228 984h20v20h-20zM1228 1064h20v20h-20zM1209 1184h19v20h-19zM1228 1345h20v20h-20zM1228 1365h20v20h-20zM1228 1385h20v20h-20zM1248 1425h20v20h-20zM1425 1485h40v20h-40z"/>
<path fill="#185fdf" d="M1307 884h40v20h-40zM1288 924h19v20h-19zM1248 1024h20v20h-20zM1228 1044h20v20h-20zM1248 1064h20v20h-20zM1228 1104h20v20h-20zM1248 1365h20v20h-20zM1268 1425h20v20h-20zM1524 1485h39v20h-39z"/>
<path fill="#1862e0" d="M1347 884h19v20h-19zM1268 904h20v20h-20zM1288 944h19v20h-19zM1248 984h20v20h-20zM1268 1004h20v20h-20zM1248 1084h20v20h-20zM1228 1124h20v20h-20zM1228 1244h20v20h-20zM1228 1264h20v21h-20zM1228 1325h20v20h-20zM1248 1345h20v20h-20zM1248 1385h20v20h-20zM1248 1405h20v20h-20zM1288 1445h19v20h-19zM1268 1465h20v20h-20z"/>
<path fill="#1765e1" d="M1366 884h40v20h-40zM1307 924h20v20h-20zM1268 964h20v20h-20zM1268 1024h20v20h-20zM1248 1144h20v20h-20zM1248 1164h20v20h-20zM1228 1184h20v20h-20zM1248 1204h20v20h-20zM1248 1224h20v20h-20zM1248 1285h20v20h-20zM1248 1305h20v20h-20zM1268 1365h20v20h-20zM1288 1425h19v20h-19zM1307 1445h20v20h-20z"/>
<path fill="#1768e3" d="M1406 884h19v20h-19zM1288 904h19v20h-19zM1327 924h39v20h-39zM1307 944h20v20h-20zM1268 984h20v20h-20zM1288 1004h19v20h-19zM1248 1044h20v20h-20zM1268 1064h20v20h-20zM1268 1084h20v20h-20zM1248 1104h20v20h-20zM1248 1244h20v20h-20zM1268 1345h20v20h-20zM1268 1385h20v20h-20zM1268 1405h20v20h-20zM1307 1425h20v20h-20zM1327 1445h20v20h-20zM1288 1465h19v20h-19z"/>
<path fill="#166be4" d="M1425 884h20v20h-20zM1366 924h20v20h-20zM1327 944h20v20h-20zM1288 964h19v20h-19zM1288 1024h19v20h-19zM1248 1124h20v20h-20zM1268 1144h20v20h-20zM1268 1164h20v20h-20zM1268 1204h20v20h-20zM1268 1224h20v20h-20zM1248 1264h20v21h-20zM1268 1285h20v20h-20zM1268 1305h20v20h-20zM1248 1325h20v20h-20zM1347 1445h19v20h-19z"/>
<path fill="#166de6" d="M1445 884h39v20h-39zM1307 904h20v20h-20zM1386 924h20v20h-20zM1347 944h19v20h-19zM1288 984h19v20h-19zM1307 1004h20v20h-20zM1288 1064h19v20h-19zM1268 1104h20v20h-20zM1248 1184h20v20h-20zM1288 1345h19v20h-19zM1288 1365h19v20h-19zM1327 1425h20v20h-20zM1366 1445h20v20h-20zM1307 1465h20v20h-20z"/>
<path fill="#1670e6" d="M1484 884h40v20h-40zM1563 884h39v20h-39zM1327 904h20v20h-20zM1406 924h19v20h-19zM1366 944h20v20h-20zM1307 964h20v20h-20zM1327 1004h20v20h-20zM1307 1024h20v20h-20zM1268 1044h20v20h-20zM1288 1084h19v20h-19zM1268 1244h20v20h-20zM1307 1365h20v20h-20zM1288 1385h19v20h-19zM1288 1405h19v20h-19zM1347 1425h19v20h-19zM1386 1445h20v20h-20zM1327 1465h20v20h-20z"/>
<path fill="#1674e7" d="M1524 884h39v20h-39zM1347 904h39v20h-39zM1425 924h20v20h-20zM1386 944h20v20h-20zM1327 964h20v20h-20zM1327 1024h20v20h-20zM1307 1064h20v20h-20zM1268 1124h20v20h-20zM1288 1144h19v20h-19zM1288 1164h19v20h-19zM1288 1204h19v20h-19zM1288 1224h19v20h-19zM1268 1264h20v21h-20zM1288 1285h19v20h-19zM1288 1305h19v20h-19zM1268 1325h20v20h-20zM1307 1345h20v20h-20zM1366 1425h20v20h-20zM1406 1445h19v20h-19zM1347 1465h19v20h-19z"/>
<path fill="#2608b5" d="M1130 904h20v20h-20zM1130 924h20v20h-20zM1130 944h20v20h-20zM1130 1445h20v20h-20zM1130 1465h20v20h-20z"/>
<path fill="#2319bc" d="M1150 904h19v20h-19zM1150 924h19v20h-19zM1150 944h19v20h-19zM1150 1445h19v20h-19zM1150 1465h19v20h-19z"/>
<path fill="#1f2bc4" d="M1169 904h20v20h-20zM1169 924h20v20h-20zM1169 944h20v20h-20zM1169 1445h20v20h-20zM1169 1465h20v20h-20z"/>
<path fill="#1d3acc" d="M1189 904h20v20h-20zM1189 944h20v20h-20zM1189 1425h20v20h-20zM1189 1465h20v20h-20zM1209 1485h19v20h-19z"/>
<path fill="#1b48d3" d="M1209 904h19v20h-19zM1209 944h19v20h-19zM1189 1184h20v20h-20zM1209 1425h19v20h-19zM1248 1485h20v20h-20z"/>
<path fill="#1954d9" d="M1228 904h20v20h-20zM1248 924h20v20h-20zM1209 1044h19v20h-19zM1209 1104h19v20h-19zM1209 1244h19v20h-19zM1228 1425h20v20h-20zM1307 1485h59v20h-59z"/>
<path fill="#185ddd" d="M1248 904h20v20h-20zM1268 944h20v20h-20zM1248 964h20v20h-20zM1248 1004h20v20h-20zM1228 1084h20v20h-20zM1228 1144h20v20h-20zM1228 1164h20v20h-20zM1228 1204h20v20h-20zM1228 1224h20v20h-20zM1228 1285h20v20h-20zM1228 1305h20v20h-20zM1228 1405h20v20h-20zM1268 1445h20v20h-20zM1248 1465h20v20h-20zM1465 1485h59v20h-59zM1563 1485h39v20h-39z"/>
<path fill="#1677e8" d="M1386 904h20v20h-20zM1445 924h20v20h-20zM1406 944h19v20h-19zM1347 964h19v20h-19zM1307 984h20v20h-20zM1347 1004h19v20h-19zM1307 1084h20v20h-20zM1288 1104h19v20h-19zM1268 1184h20v20h-20zM1327 1365h20v20h-20zM1307 1385h20v20h-20zM1307 1405h20v20h-20zM1386 1425h20v20h-20zM1425 1445h20v20h-20zM1366 1465h20v20h-20z"/>
<path fill="#167ae8" d="M1406 904h19v20h-19zM1465 924h19v20h-19zM1425 944h20v20h-20zM1366 964h20v20h-20zM1327 984h20v20h-20zM1366 1004h20v20h-20zM1347 1024h19v20h-19zM1288 1044h19v20h-19zM1327 1064h20v20h-20zM1327 1084h20v20h-20zM1307 1144h20v20h-20zM1307 1164h20v20h-20zM1307 1204h20v20h-20zM1307 1224h20v20h-20zM1288 1244h19v20h-19zM1307 1285h20v20h-20zM1307 1305h20v20h-20zM1327 1345h20v20h-20zM1347 1365h19v20h-19zM1327 1385h20v20h-20zM1327 1405h20v20h-20zM1406 1425h19v20h-19zM1445 1445h20v20h-20zM1386 1465h39v20h-39z"/>
<path fill="#167de9" d="M1425 904h20v20h-20zM1484 924h40v20h-40zM1563 924h39v20h-39zM1445 944h20v20h-20zM1386 964h20v20h-20zM1347 984h19v20h-19zM1386 1004h20v20h-20zM1366 1024h20v20h-20zM1347 1064h19v20h-19zM1288 1124h19v20h-19zM1327 1144h20v20h-20zM1327 1164h20v20h-20zM1327 1204h20v20h-20zM1327 1224h20v20h-20zM1288 1264h19v21h-19zM1327 1285h20v20h-20zM1327 1305h20v20h-20zM1288 1325h19v20h-19zM1347 1345h19v20h-19zM1366 1365h20v20h-20zM1347 1385h19v20h-19zM1347 1405h19v20h-19zM1425 1425h20v20h-20zM1465 1445h19v20h-19zM1583 1445h19v20h-19zM1425 1465h20v20h-20z"/>
<path fill="#1681ea" d="M1445 904h20v20h-20zM1524 924h39v20h-39zM1465 944h19v20h-19zM1563 944h39v20h-39zM1406 964h19v20h-19zM1366 984h20v20h-20zM1406 1004h19v20h-19zM1386 1024h20v20h-20zM1307 1044h20v20h-20zM1366 1064h20v20h-20zM1347 1084h19v20h-19zM1307 1104h20v20h-20zM1288 1184h19v20h-19zM1307 1244h20v20h-20zM1366 1385h20v20h-20zM1445 1425h20v20h-20zM1484 1445h40v20h-40zM1543 1445h40v20h-40zM1445 1465h20v20h-20z"/>
<path fill="#1684ea" d="M1465 904h39v20h-39zM1563 904h39v20h-39zM1484 944h40v20h-40zM1543 944h20v20h-20zM1425 964h20v20h-20zM1386 984h20v20h-20zM1327 1044h20v20h-20zM1366 1084h20v20h-20zM1327 1104h20v20h-20zM1307 1124h20v20h-20zM1347 1144h19v20h-19zM1347 1164h19v20h-19zM1347 1204h19v20h-19zM1347 1224h19v20h-19zM1307 1264h20v21h-20zM1347 1285h19v20h-19zM1347 1305h19v20h-19zM1366 1345h20v20h-20zM1386 1365h20v20h-20zM1366 1405h20v20h-20zM1465 1425h19v20h-19zM1524 1445h19v20h-19zM1465 1465h19v20h-19z"/>
<path fill="#1687eb" d="M1504 904h20v20h-20zM1543 904h20v20h-20zM1524 944h19v20h-19zM1406 984h19v20h-19zM1425 1004h20v20h-20zM1406 1024h19v20h-19zM1386 1064h20v20h-20zM1307 1184h20v20h-20zM1327 1244h20v20h-20zM1307 1325h20v20h-20zM1386 1345h20v20h-20zM1406 1365h19v20h-19zM1386 1385h20v20h-20zM1386 1405h20v20h-20zM1484 1425h20v20h-20zM1563 1425h39v20h-39zM1484 1465h40v20h-40zM1563 1465h39v20h-39z"/>
<path fill="#168aec" d="M1524 904h19v20h-19zM1445 964h20v20h-20zM1425 984h20v20h-20zM1445 1004h20v20h-20zM1425 1024h20v20h-20zM1347 1044h19v20h-19zM1406 1064h19v20h-19zM1386 1084h20v20h-20zM1347 1104h19v20h-19zM1327 1124h20v20h-20zM1366 1144h20v20h-20zM1366 1164h20v20h-20zM1366 1204h20v20h-20zM1366 1224h20v20h-20zM1347 1244h19v20h-19zM1327 1264h20v21h-20zM1366 1285h20v20h-20zM1366 1305h20v20h-20zM1327 1325h20v20h-20zM1406 1345h19v20h-19zM1406 1385h19v20h-19zM1406 1405h19v20h-19zM1504 1425h59v20h-59zM1524 1465h39v20h-39z"/>
<path fill="#1d36ca" d="M1189 924h20v20h-20zM1189 1445h20v20h-20z"/>
<path fill="#1b46d2" d="M1209 924h19v20h-19zM1189 1044h20v20h-20zM1189 1104h20v20h-20zM1189 1124h20v20h-20zM1189 1244h20v20h-20zM1189 1264h20v21h-20zM1189 1325h20v20h-20zM1209 1445h19v20h-19z"/>
<path fill="#1a4ed6" d="M1228 924h20v20h-20zM1209 984h19v20h-19zM1209 1024h19v20h-19zM1209 1064h19v20h-19zM1209 1345h19v20h-19zM1209 1365h19v20h-19zM1209 1385h19v20h-19zM1209 1405h19v20h-19zM1268 1485h20v20h-20z"/>
<path fill="#2609b6" d="M1130 964h20v20h-20zM1130 984h20v20h-20zM1130 1004h20v20h-20zM1130 1405h20v20h-20zM1130 1425h20v20h-20z"/>
<path fill="#231bbd" d="M1150 964h19v20h-19zM1150 984h19v20h-19zM1150 1004h19v20h-19zM1150 1425h19v20h-19z"/>
<path fill="#1f2dc6" d="M1169 964h20v20h-20zM1169 1004h20v20h-20zM1169 1425h20v20h-20z"/>
<path fill="#1d3ccd" d="M1189 964h20v20h-20zM1189 1004h20v20h-20z"/>
<path fill="#178eec" d="M1465 964h19v20h-19zM1563 964h39v20h-39zM1366 1044h20v20h-20zM1406 1084h19v20h-19zM1366 1104h20v20h-20zM1347 1124h19v20h-19zM1386 1144h20v20h-20zM1386 1164h20v20h-20zM1327 1184h20v20h-20zM1386 1204h20v20h-20zM1386 1224h20v20h-20zM1347 1264h19v21h-19zM1386 1285h20v20h-20zM1386 1305h20v20h-20zM1425 1365h20v20h-20zM1425 1385h20v20h-20zM1425 1405h20v20h-20z"/>
<path fill="#1890ec" d="M1484 964h40v20h-40zM1543 964h20v20h-20zM1445 984h20v20h-20zM1465 1004h19v20h-19zM1563 1004h39v20h-39zM1445 1024h20v20h-20zM1425 1064h20v20h-20zM1347 1184h19v20h-19zM1366 1244h20v20h-20zM1347 1325h19v20h-19zM1425 1345h20v20h-20zM1445 1365h20v20h-20z"/>
<path fill="#1994ec" d="M1524 964h19v20h-19zM1465 984h19v20h-19zM1583 984h19v20h-19zM1484 1004h40v20h-40zM1543 1004h20v20h-20zM1465 1024h19v20h-19zM1563 1024h39v20h-39zM1386 1044h20v20h-20zM1425 1084h20v20h-20zM1386 1104h20v20h-20zM1366 1124h20v20h-20zM1406 1144h19v20h-19zM1406 1164h19v20h-19zM1406 1204h19v20h-19zM1406 1224h19v20h-19zM1386 1244h20v20h-20zM1366 1264h20v21h-20zM1406 1285h19v20h-19zM1406 1305h19v20h-19zM1366 1325h20v20h-20zM1445 1385h20v20h-20zM1445 1405h20v20h-20z"/>
<path fill="#1f2fc6" d="M1169 984h20v20h-20zM1169 1024h20v20h-20zM1169 1064h20v20h-20zM1169 1365h20v20h-20zM1169 1385h20v20h-20zM1169 1405h20v20h-20zM1189 1485h20v20h-20z"/>
<path fill="#1c40cf" d="M1189 984h20v20h-20zM1189 1024h20v20h-20zM1189 1064h20v20h-20zM1189 1345h20v20h-20zM1189 1365h20v20h-20zM1189 1385h20v20h-20zM1189 1405h20v20h-20z"/>
<path fill="#1a96ed" d="M1484 984h20v20h-20zM1563 984h20v20h-20zM1524 1004h19v20h-19zM1484 1024h20v20h-20zM1543 1024h20v20h-20zM1406 1044h19v20h-19zM1445 1064h20v20h-20zM1445 1084h20v20h-20zM1406 1104h19v20h-19zM1386 1124h20v20h-20zM1425 1144h20v20h-20zM1425 1164h20v20h-20zM1366 1184h20v20h-20zM1425 1204h20v20h-20zM1425 1224h20v20h-20zM1425 1285h20v20h-20zM1425 1305h20v20h-20zM1445 1345h20v20h-20zM1465 1365h19v20h-19zM1563 1365h39v20h-39zM1465 1385h19v20h-19zM1465 1405h19v20h-19zM1563 1405h39v20h-39z"/>
<path fill="#1b9aed" d="M1504 984h59v20h-59zM1504 1024h39v20h-39zM1425 1044h20v20h-20zM1465 1064h19v20h-19zM1563 1064h39v20h-39zM1406 1244h19v20h-19zM1386 1264h20v21h-20zM1386 1325h20v20h-20zM1465 1345h19v20h-19zM1583 1345h19v20h-19zM1484 1365h40v20h-40zM1543 1365h20v20h-20zM1484 1385h20v20h-20zM1563 1385h39v20h-39zM1484 1405h20v20h-20zM1543 1405h20v20h-20z"/>
<path fill="#260bb7" d="M1130 1024h20v20h-20zM1130 1044h20v20h-20zM1130 1064h20v20h-20zM1130 1084h20v20h-20zM1130 1345h20v20h-20zM1130 1365h20v20h-20zM1130 1385h20v20h-20z"/>
<path fill="#221dbe" d="M1150 1024h19v20h-19zM1150 1064h19v20h-19zM1150 1345h19v20h-19zM1150 1365h19v20h-19zM1150 1385h19v20h-19zM1150 1405h19v20h-19z"/>
<path fill="#221fbe" d="M1150 1044h19v20h-19zM1150 1084h19v20h-19zM1150 1104h19v20h-19zM1150 1144h19v20h-19zM1150 1164h19v20h-19zM1150 1204h19v20h-19zM1150 1224h19v20h-19zM1150 1244h19v20h-19zM1150 1285h19v20h-19zM1150 1305h19v20h-19zM1150 1325h19v20h-19z"/>
<path fill="#1e31c8" d="M1169 1044h20v20h-20zM1169 1084h20v20h-20zM1169 1144h20v20h-20zM1169 1164h20v20h-20zM1169 1204h20v20h-20zM1169 1224h20v20h-20zM1169 1285h20v20h-20zM1169 1305h20v20h-20zM1169 1345h20v20h-20z"/>
<path fill="#1ea0ed" d="M1445 1044h20v20h-20zM1504 1064h59v20h-59zM1484 1084h20v20h-20zM1406 1184h19v20h-19zM1425 1244h20v20h-20zM1484 1345h40v20h-40zM1543 1345h20v20h-20zM1524 1385h19v20h-19z"/>
<path fill="#20a6ee" d="M1465 1044h19v20h-19zM1563 1044h39v20h-39zM1465 1104h19v20h-19zM1583 1104h19v20h-19zM1484 1144h20v20h-20zM1484 1164h20v20h-20zM1425 1184h20v20h-20zM1484 1204h20v20h-20zM1484 1224h20v20h-20zM1484 1285h20v20h-20zM1484 1305h20v20h-20z"/>
<path fill="#21a8ee" d="M1484 1044h40v20h-40zM1543 1044h20v20h-20zM1563 1104h20v20h-20zM1445 1124h20v20h-20zM1504 1144h59v20h-59zM1504 1164h59v20h-59zM1504 1204h59v20h-59zM1504 1224h59v20h-59zM1465 1244h19v20h-19zM1583 1244h19v20h-19zM1445 1264h20v21h-20zM1504 1285h59v20h-59zM1504 1305h59v20h-59zM1445 1325h20v20h-20z"/>
<path fill="#22abee" d="M1524 1044h19v20h-19zM1484 1104h40v20h-40zM1543 1104h20v20h-20zM1465 1124h19v20h-19zM1583 1124h19v20h-19zM1445 1184h20v20h-20zM1563 1244h20v20h-20zM1465 1264h19v21h-19zM1583 1264h19v21h-19zM1465 1325h19v20h-19zM1583 1325h19v20h-19z"/>
<path fill="#1d9ced" d="M1484 1064h20v20h-20zM1465 1084h19v20h-19zM1563 1084h39v20h-39zM1425 1104h20v20h-20zM1406 1124h19v20h-19zM1445 1144h20v20h-20zM1445 1164h20v20h-20zM1386 1184h20v20h-20zM1445 1204h20v20h-20zM1445 1224h20v20h-20zM1406 1264h19v21h-19zM1445 1285h20v20h-20zM1445 1305h20v20h-20zM1406 1325h19v20h-19zM1563 1345h20v20h-20zM1524 1365h19v20h-19zM1504 1385h20v20h-20zM1543 1385h20v20h-20zM1504 1405h39v20h-39z"/>
<path fill="#1fa2ee" d="M1504 1084h59v20h-59zM1445 1104h20v20h-20zM1425 1124h20v20h-20zM1465 1144h19v20h-19zM1563 1144h39v20h-39zM1465 1164h19v20h-19zM1563 1164h39v20h-39zM1465 1204h19v20h-19zM1563 1204h39v20h-39zM1465 1224h19v20h-19zM1563 1224h39v20h-39zM1445 1244h20v20h-20zM1425 1264h20v21h-20zM1465 1285h19v20h-19zM1563 1285h39v20h-39zM1465 1305h19v20h-19zM1563 1305h39v20h-39zM1425 1325h20v20h-20zM1524 1345h19v20h-19z"/>
<path fill="#250db8" d="M1130 1104h20v20h-20zM1130 1124h20v20h-20zM1130 1144h20v20h-20zM1130 1164h20v20h-20zM1130 1184h20v20h-20zM1130 1204h20v20h-20zM1130 1224h20v20h-20zM1130 1244h20v20h-20zM1130 1264h20v21h-20zM1130 1285h20v20h-20zM1130 1305h20v20h-20zM1130 1325h20v20h-20z"/>
<path fill="#23aeee" d="M1524 1104h19v20h-19zM1563 1124h20v20h-20zM1583 1184h19v20h-19zM1484 1244h40v20h-40zM1543 1244h20v20h-20zM1563 1264h20v21h-20zM1563 1325h20v20h-20z"/>
<path fill="#2121c0" d="M1150 1124h19v20h-19zM1150 1184h19v20h-19zM1150 1264h19v21h-19z"/>
<path fill="#24b1ee" d="M1484 1124h40v20h-40zM1543 1124h20v20h-20zM1465 1184h19v20h-19zM1563 1184h20v20h-20zM1524 1244h19v20h-19zM1484 1264h40v21h-40zM1543 1264h20v21h-20zM1484 1325h40v20h-40zM1543 1325h20v20h-20z"/>
<path fill="#25b4ee" d="M1524 1124h19v20h-19zM1484 1184h40v20h-40zM1543 1184h20v20h-20zM1524 1264h19v21h-19zM1524 1325h19v20h-19z"/>
<path fill="#26b7ee" d="M1524 1184h19v20h-19z"/>
<path fill="#2509b2" d="M1130 1485h20v20h-20z"/>
<path fill="#2413ba" d="M1150 1485h19v20h-19z"/>
<path fill="#2125c2" d="M1169 1485h20v20h-20z"/>
</g>
<g fill="#000"><circle cx="1365.7" cy="914.6" r="12.0"/><circle cx="1414.9" cy="914.6" r="12.0"/><circle cx="1464.1" cy="914.6" r="12.0"/><circle cx="1513.3" cy="914.6" r="12.0"/><circle cx="1562.6" cy="914.6" r="12.0"/><circle cx="1365.7" cy="984.9" r="12.0"/><circle cx="1414.9" cy="984.9" r="12.0"/><circle cx="1464.1" cy="984.9" r="12.0"/><circle cx="1513.3" cy="984.9" r="12.0"/><circle cx="1562.6" cy="984.9" r="12.0"/><circle cx="1365.7" cy="1055.2" r="12.0"/><circle cx="1414.9" cy="1055.2" r="12.0"/><circle cx="1464.1" cy="1055.2" r="12.0"/><circle cx="1513.3" cy="1055.2" r="12.0"/><circle cx="1562.6" cy="1055.2" r="12.0"/><circle cx="1365.7" cy="1125.4" r="12.0"/><circle cx="1414.9" cy="1125.4" r="12.0"/><circle cx="1464.1" cy="1125.4" r="12.0"/><circle cx="1513.3" cy="1125.4" r="12.0"/><circle cx="1562.6" cy="1125.4" r="12.0"/><circle cx="1365.7" cy="1195.7" r="12.0"/><circle cx="1414.9" cy="1195.7" r="12.0"/><circle cx="1464.1" cy="1195.7" r="12.0"/><circle cx="1513.3" cy="1195.7" r="12.0"/><circle cx="1562.6" cy="1195.7" r="12.0"/><circle cx="1365.7" cy="1266.0" r="12.0"/><circle cx="1414.9" cy="1266.0" r="12.0"/><circle cx="1464.1" cy="1266.0" r="12.0"/><circle cx="1513.3" cy="1266.0" r="12.0"/><circle cx="1562.6" cy="1266.0" r="12.0"/><circle cx="1365.7" cy="1336.3" r="12.0"/><circle cx="1414.9" cy="1336.3" r="12.0"/><circle cx="1464.1" cy="1336.3" r="12.0"/><circle cx="1513.3" cy="1336.3" r="12.0"/><circle cx="1562.6" cy="1336.3" r="12.0"/><circle cx="1365.7" cy="1406.6" r="12.0"/><circle cx="1414.9" cy="1406.6" r="12.0"/><circle cx="1464.1" cy="1406.6" r="12.0"/><circle cx="1513.3" cy="1406.6" r="12.0"/><circle cx="1562.6" cy="1406.6" r="12.0"/><circle cx="1365.7" cy="1476.8" r="12.0"/><circle cx="1414.9" cy="1476.8" r="12.0"/><circle cx="1464.1" cy="1476.8" r="12.0"/><circle cx="1513.3" cy="1476.8" r="12.0"/><circle cx="1562.6" cy="1476.8" r="12.0"/></g>
<path d="M1291.6 789.8V834.0H1616" fill="none" stroke="#000" stroke-width="1.2"/>
<text y="826.5" font-family='"Liberation Sans", sans-serif' font-weight="bold" font-size="40.5" fill="#000"><tspan x="1297.4" textLength="114" lengthAdjust="spacingAndGlyphs">4.00 –</tspan><tspan x="1461.2" textLength="148" lengthAdjust="spacingAndGlyphs">2.00 Ma</tspan></text>
<rect x="123.0" y="1651.5" width="485.0" height="634.0" fill="#000"/>
<rect x="266.9" y="1652.5" width="196.9" height="4.4" fill="#fff"/>
<rect x="266.9" y="2280.1" width="196.9" height="4.4" fill="#fff"/>
<rect x="124.0" y="1829.7" width="4.4" height="281.1" fill="#fff"/>
<rect x="602.6" y="1829.7" width="4.4" height="281.1" fill="#fff"/>
<rect x="124.0" y="1652.5" width="4.4" height="4.4" fill="#fff"/>
<rect x="124.0" y="2280.1" width="4.4" height="4.4" fill="#fff"/>
<rect x="602.6" y="1652.5" width="4.4" height="4.4" fill="#fff"/>
<rect x="602.6" y="2280.1" width="4.4" height="4.4" fill="#fff"/>
<g shape-rendering="crispEdges">
<path fill="#e5c966" d="M130 1658h19v20h-19zM130 1678h19v20h-19zM130 1698h19v20h-19zM130 1718h19v20h-19zM130 1738h19v20h-19zM130 1758h19v20h-19zM130 1778h19v20h-19zM130 1798h19v20h-19zM130 1818h19v21h-19zM130 1839h19v20h-19zM130 1859h19v20h-19zM130 1879h19v20h-19zM130 1899h19v20h-19zM130 1919h19v20h-19zM130 1939h19v20h-19zM130 1959h19v20h-19zM130 1979h19v20h-19zM130 1999h19v20h-19zM130 2019h19v20h-19zM130 2039h19v20h-19zM130 2059h19v20h-19zM130 2079h19v20h-19zM130 2099h19v20h-19zM130 2119h19v20h-19zM130 2139h19v20h-19zM130 2159h19v20h-19zM130 2179h19v20h-19zM130 2199h19v20h-19zM130 2219h19v20h-19zM130 2239h19v20h-19zM130 2259h19v21h-19z"/>
<path fill="#e4ca67" d="M149 1658h20v20h-20zM149 1678h20v20h-20zM149 1698h20v20h-20zM149 1718h20v20h-20zM149 1738h20v20h-20zM149 1758h20v20h-20zM149 1778h20v20h-20zM149 1798h20v20h-20zM149 1818h20v21h-20zM149 1839h20v20h-20zM149 1859h20v20h-20zM149 1879h20v20h-20zM149 1899h20v20h-20zM149 1919h20v20h-20zM149 1939h20v20h-20zM149 1959h20v20h-20zM149 1979h20v20h-20zM149 1999h20v20h-20zM149 2019h20v20h-20zM149 2039h20v20h-20zM149 2059h20v20h-20zM149 2079h20v20h-20zM149 2099h20v20h-20zM149 2119h20v20h-20zM149 2139h20v20h-20zM149 2159h20v20h-20zM149 2179h20v20h-20zM149 2199h20v20h-20zM149 2219h20v20h-20zM149 2239h20v20h-20zM149 2259h20v21h-20z"/>
<path fill="#e4cb68" d="M169 1658h20v20h-20zM169 1678h20v20h-20zM169 1698h20v20h-20zM169 1718h20v20h-20zM169 1738h20v20h-20zM169 1758h20v20h-20zM169 1778h20v20h-20zM169 1798h20v20h-20zM169 1818h20v21h-20zM169 1839h20v20h-20zM169 1859h20v20h-20zM169 1879h20v20h-20zM169 1899h20v20h-20zM169 1919h20v20h-20zM169 1939h20v20h-20zM169 1959h20v20h-20zM169 1979h20v20h-20zM169 1999h20v20h-20zM169 2019h20v20h-20zM169 2039h20v20h-20zM169 2059h20v20h-20zM169 2079h20v20h-20zM169 2099h20v20h-20zM169 2119h20v20h-20zM169 2139h20v20h-20zM169 2159h20v20h-20zM169 2179h20v20h-20zM169 2199h20v20h-20zM169 2219h20v20h-20zM169 2239h20v20h-20zM169 2259h20v21h-20z"/>
<path fill="#d6d776" d="M189 1658h19v20h-19zM189 1678h19v20h-19zM189 1698h19v20h-19zM189 1718h19v20h-19zM189 1738h19v20h-19zM189 1758h19v20h-19zM189 1778h19v20h-19zM189 1798h19v20h-19zM189 1818h19v21h-19zM189 1839h19v20h-19zM189 1859h19v20h-19zM189 1879h19v20h-19zM189 1899h19v20h-19zM189 1919h19v20h-19zM189 1939h19v20h-19zM189 1959h19v20h-19zM189 1979h19v20h-19zM189 1999h19v20h-19zM189 2019h19v20h-19zM189 2039h19v20h-19zM189 2059h19v20h-19zM189 2079h19v20h-19zM189 2099h19v20h-19zM189 2119h19v20h-19zM189 2139h19v20h-19zM189 2159h19v20h-19zM189 2179h19v20h-19zM189 2199h19v20h-19zM189 2219h19v20h-19zM189 2239h19v20h-19zM189 2259h19v21h-19z"/>
<path fill="#bde681" d="M208 1658h20v20h-20zM208 1678h20v20h-20zM208 1698h20v20h-20zM208 1718h20v20h-20zM208 1738h20v20h-20zM208 1758h20v20h-20zM208 1778h20v20h-20zM208 1798h20v20h-20zM208 1818h20v21h-20zM208 1839h20v20h-20zM208 1859h20v20h-20zM208 1879h20v20h-20zM208 1899h20v20h-20zM208 1919h20v20h-20zM208 1939h20v20h-20zM208 1959h20v20h-20zM208 1979h20v20h-20zM208 1999h20v20h-20zM208 2019h20v20h-20zM208 2039h20v20h-20zM208 2059h20v20h-20zM208 2079h20v20h-20zM208 2099h20v20h-20zM208 2119h20v20h-20zM208 2139h20v20h-20zM208 2159h20v20h-20zM208 2179h20v20h-20zM208 2199h20v20h-20zM208 2219h20v20h-20zM208 2239h20v20h-20zM208 2259h20v21h-20z"/>
<path fill="#b0ea89" d="M228 1658h20v20h-20zM228 1678h20v20h-20zM228 1698h20v20h-20zM228 1718h20v20h-20zM228 1738h20v20h-20zM228 1758h20v20h-20zM228 1778h20v20h-20zM228 1798h20v20h-20zM228 1818h20v21h-20zM228 1839h20v20h-20zM228 1859h20v20h-20zM228 1879h20v20h-20zM228 1899h20v20h-20zM228 1919h20v20h-20zM228 1939h20v20h-20zM228 1959h20v20h-20zM228 1979h20v20h-20zM228 1999h20v20h-20zM228 2019h20v20h-20zM228 2039h20v20h-20zM228 2059h20v20h-20zM228 2079h20v20h-20zM228 2099h20v20h-20zM228 2119h20v20h-20zM228 2139h20v20h-20zM228 2159h20v20h-20zM228 2179h20v20h-20zM228 2199h20v20h-20zM228 2219h20v20h-20zM228 2239h20v20h-20zM228 2259h20v21h-20z"/>
<path fill="#95ec9d" d="M248 1658h20v20h-20zM248 1678h20v20h-20zM248 1698h20v20h-20zM248 1718h20v20h-20zM248 1738h20v20h-20zM248 1758h20v20h-20zM248 1778h20v20h-20zM248 1798h20v20h-20zM248 1818h20v21h-20zM248 1839h20v20h-20zM248 1859h20v20h-20zM248 1879h20v20h-20zM248 1899h20v20h-20zM248 1919h20v20h-20zM248 1939h20v20h-20zM248 1959h20v20h-20zM248 1979h20v20h-20zM248 1999h20v20h-20zM248 2019h20v20h-20zM248 2039h20v20h-20zM248 2059h20v20h-20zM248 2079h20v20h-20zM248 2099h20v20h-20zM248 2119h20v20h-20zM248 2139h20v20h-20zM248 2159h20v20h-20zM248 2179h20v20h-20zM248 2199h20v20h-20zM248 2219h20v20h-20zM248 2239h20v20h-20zM248 2259h20v21h-20z"/>
<path fill="#7becb5" d="M268 1658h19v20h-19zM268 1678h19v20h-19zM268 1698h19v20h-19zM268 1718h19v20h-19zM268 1738h19v20h-19zM268 1758h19v20h-19zM268 1778h19v20h-19zM268 1798h19v20h-19zM268 1818h19v21h-19zM268 1839h19v20h-19zM268 1859h19v20h-19zM268 1879h19v20h-19zM268 1899h19v20h-19zM268 1919h19v20h-19zM268 1939h19v20h-19zM268 1959h19v20h-19zM268 1979h19v20h-19zM268 1999h19v20h-19zM268 2019h19v20h-19zM268 2039h19v20h-19zM268 2059h19v20h-19zM268 2079h19v20h-19zM268 2099h19v20h-19zM268 2119h19v20h-19zM268 2139h19v20h-19zM268 2159h19v20h-19zM268 2179h19v20h-19zM268 2199h19v20h-19zM268 2219h19v20h-19zM268 2239h19v20h-19zM268 2259h19v21h-19z"/>
<path fill="#62ecce" d="M287 1658h20v20h-20zM287 1678h20v20h-20zM287 1698h20v20h-20zM287 1718h20v20h-20zM287 1738h20v20h-20zM287 1758h20v20h-20zM287 1778h20v20h-20zM287 1798h20v20h-20zM287 1818h20v21h-20zM287 1839h20v20h-20zM287 1859h20v20h-20zM287 1879h20v20h-20zM287 1899h20v20h-20zM287 1919h20v20h-20zM287 1939h20v20h-20zM287 1959h20v20h-20zM287 1979h20v20h-20zM287 1999h20v20h-20zM287 2019h20v20h-20zM287 2039h20v20h-20zM287 2059h20v20h-20zM287 2079h20v20h-20zM287 2099h20v20h-20zM287 2119h20v20h-20zM287 2139h20v20h-20zM287 2159h20v20h-20zM287 2179h20v20h-20zM287 2199h20v20h-20zM287 2219h20v20h-20zM287 2239h20v20h-20zM287 2259h20v21h-20z"/>
<path fill="#3ceae6" d="M307 1658h20v20h-20zM307 1678h20v20h-20zM307 1698h20v20h-20zM307 1718h20v20h-20zM307 1738h20v20h-20zM307 1758h20v20h-20zM307 1778h20v20h-20zM307 1798h20v20h-20zM307 1818h20v21h-20zM307 1839h20v20h-20zM307 1859h20v20h-20zM307 1879h20v20h-20zM307 1899h20v20h-20zM307 1919h20v20h-20zM307 1939h20v20h-20zM307 1959h20v20h-20zM307 1979h20v20h-20zM307 1999h20v20h-20zM307 2019h20v20h-20zM307 2039h20v20h-20zM307 2059h20v20h-20zM307 2079h20v20h-20zM307 2099h20v20h-20zM307 2119h20v20h-20zM307 2139h20v20h-20zM307 2159h20v20h-20zM307 2179h20v20h-20zM307 2199h20v20h-20zM307 2219h20v20h-20zM307 2239h20v20h-20zM307 2259h20v21h-20z"/>
<path fill="#2dd4ee" d="M327 1658h19v20h-19zM327 1678h19v20h-19zM327 1698h19v20h-19zM327 1718h19v20h-19zM327 1738h19v20h-19zM327 1758h19v20h-19zM327 1778h19v20h-19zM327 1798h19v20h-19zM327 1818h19v21h-19zM327 1839h19v20h-19zM327 1859h19v20h-19zM327 1879h19v20h-19zM327 1899h19v20h-19zM327 1919h19v20h-19zM327 1939h19v20h-19zM327 1959h19v20h-19zM327 1979h19v20h-19zM327 1999h19v20h-19zM327 2019h19v20h-19zM327 2039h19v20h-19zM327 2059h19v20h-19zM327 2079h19v20h-19zM327 2099h19v20h-19zM327 2119h19v20h-19zM327 2139h19v20h-19zM327 2159h19v20h-19zM327 2179h19v20h-19zM327 2199h19v20h-19zM327 2219h19v20h-19zM327 2239h19v20h-19zM327 2259h19v21h-19z"/>
<path fill="#27bdee" d="M346 1658h20v20h-20zM346 1678h20v20h-20zM346 1698h20v20h-20zM346 1718h20v20h-20zM346 1738h20v20h-20zM346 1758h20v20h-20zM346 1778h20v20h-20zM346 1798h20v20h-20zM346 1818h20v21h-20zM346 1839h20v20h-20zM346 1859h20v20h-20zM346 1879h20v20h-20zM346 1899h20v20h-20zM346 1919h20v20h-20zM346 1939h20v20h-20zM346 1959h20v20h-20zM346 1979h20v20h-20zM346 1999h20v20h-20zM346 2019h20v20h-20zM346 2039h20v20h-20zM346 2059h20v20h-20zM346 2079h20v20h-20zM346 2099h20v20h-20zM346 2119h20v20h-20zM346 2139h20v20h-20zM346 2159h20v20h-20zM346 2179h20v20h-20zM346 2199h20v20h-20zM346 2219h20v20h-20zM346 2239h20v20h-20zM346 2259h20v21h-20z"/>
<path fill="#20a6ee" d="M366 1658h20v20h-20zM366 1678h20v20h-20zM366 1698h20v20h-20zM366 1718h20v20h-20zM366 1738h20v20h-20zM366 1758h20v20h-20zM366 1778h20v20h-20zM366 1798h20v20h-20zM366 1818h20v21h-20zM366 1839h20v20h-20zM366 1859h20v20h-20zM366 1879h20v20h-20zM366 1899h20v20h-20zM366 1919h20v20h-20zM366 1939h20v20h-20zM366 1959h20v20h-20zM366 1979h20v20h-20zM366 1999h20v20h-20zM366 2019h20v20h-20zM366 2039h20v20h-20zM366 2059h20v20h-20zM366 2079h20v20h-20zM366 2099h20v20h-20zM366 2119h20v20h-20zM366 2139h20v20h-20zM366 2159h20v20h-20zM366 2179h20v20h-20zM366 2199h20v20h-20zM366 2219h20v20h-20zM366 2239h20v20h-20zM366 2259h20v21h-20z"/>
<path fill="#178eec" d="M386 1658h19v20h-19zM386 1678h19v20h-19zM386 1698h19v20h-19zM386 1718h19v20h-19zM386 1738h19v20h-19zM386 1758h19v20h-19zM386 1778h19v20h-19zM386 1798h19v20h-19zM386 1818h19v21h-19zM386 1839h19v20h-19zM386 1859h19v20h-19zM386 1879h19v20h-19zM386 1899h19v20h-19zM386 1919h19v20h-19zM386 1939h19v20h-19zM386 1959h19v20h-19zM386 1979h19v20h-19zM386 1999h19v20h-19zM386 2019h19v20h-19zM386 2039h19v20h-19zM386 2059h19v20h-19zM386 2079h19v20h-19zM386 2099h19v20h-19zM386 2119h19v20h-19zM386 2139h19v20h-19zM386 2159h19v20h-19zM386 2179h19v20h-19zM386 2199h19v20h-19zM386 2219h19v20h-19zM386 2239h19v20h-19zM386 2259h19v21h-19z"/>
<path fill="#1677e8" d="M405 1658h20v20h-20zM405 1678h20v20h-20zM405 1698h20v20h-20zM405 1718h20v20h-20zM405 2239h20v20h-20zM405 2259h20v21h-20z"/>
<path fill="#166de6" d="M425 1658h20v20h-20zM425 1678h20v20h-20z"/>
<path fill="#1768e3" d="M445 1658h19v20h-19zM425 1718h20v20h-20zM425 2239h20v20h-20z"/>
<path fill="#1862e0" d="M464 1658h20v20h-20zM425 1758h20v20h-20z"/>
<path fill="#1c42d0" d="M484 1658h20v20h-20zM445 1839h19v20h-19zM445 1859h19v20h-19zM445 1879h19v20h-19zM445 1899h19v20h-19zM445 1919h19v20h-19zM445 1939h19v20h-19zM445 1959h19v20h-19zM445 1979h19v20h-19zM445 1999h19v20h-19zM445 2019h19v20h-19zM445 2039h19v20h-19zM445 2059h19v20h-19zM445 2079h19v20h-19zM445 2099h19v20h-19zM445 2119h19v20h-19zM445 2139h19v20h-19zM445 2159h19v20h-19zM445 2179h19v20h-19z"/>
<path fill="#1e34c9" d="M504 1658h19v20h-19zM464 1798h20v20h-20zM484 2239h20v20h-20z"/>
<path fill="#1f2dc6" d="M523 1658h20v20h-20z"/>
<path fill="#1f2bc4" d="M543 1658h39v20h-39zM504 1698h19v20h-19zM484 1738h20v20h-20zM484 2219h20v20h-20zM504 2259h19v21h-19z"/>
<path fill="#2029c4" d="M582 1658h20v20h-20zM523 1678h20v20h-20zM504 2239h19v20h-19z"/>
<path fill="#1765e1" d="M445 1678h19v20h-19zM425 1738h20v20h-20zM425 2219h20v20h-20z"/>
<path fill="#185ddd" d="M464 1678h20v20h-20zM425 1818h20v21h-20zM425 2179h20v20h-20zM445 2239h19v20h-19z"/>
<path fill="#1d3ccd" d="M484 1678h20v20h-20z"/>
<path fill="#1f2fc6" d="M504 1678h19v20h-19zM464 1839h20v20h-20zM464 1859h20v20h-20zM464 1879h20v20h-20zM464 1899h20v20h-20zM464 1919h20v20h-20zM464 1939h20v20h-20zM464 1959h20v20h-20zM464 1979h20v20h-20zM464 1999h20v20h-20zM464 2019h20v20h-20zM464 2039h20v20h-20zM464 2059h20v20h-20zM464 2079h20v20h-20zM464 2099h20v20h-20zM464 2119h20v20h-20zM464 2139h20v20h-20zM464 2159h20v20h-20zM464 2179h20v20h-20z"/>
<path fill="#2027c2" d="M543 1678h39v20h-39zM504 1718h19v20h-19zM484 1758h20v20h-20z"/>
<path fill="#2125c2" d="M582 1678h20v20h-20zM523 1698h20v20h-20z"/>
<path fill="#166be4" d="M425 1698h20v20h-20zM425 2259h20v21h-20z"/>
<path fill="#185fdf" d="M445 1698h19v20h-19zM425 1778h20v20h-20zM425 1798h20v20h-20zM425 2199h20v20h-20zM445 2259h19v21h-19z"/>
<path fill="#1954d9" d="M464 1698h20v20h-20zM445 2219h19v20h-19zM464 2259h20v21h-20z"/>
<path fill="#1d36ca" d="M484 1698h20v20h-20zM464 2199h20v20h-20zM484 2259h20v21h-20z"/>
<path fill="#2123c0" d="M543 1698h20v20h-20zM484 1778h20v20h-20zM523 2259h20v21h-20z"/>
<path fill="#2121c0" d="M563 1698h39v20h-39zM504 1738h19v20h-19zM484 2199h20v20h-20zM504 2219h19v20h-19zM523 2239h40v20h-40zM543 2259h59v21h-59z"/>
<path fill="#195adc" d="M445 1718h19v20h-19zM425 1839h20v20h-20zM425 1859h20v20h-20zM425 1879h20v20h-20zM425 1899h20v20h-20zM425 1919h20v20h-20zM425 1939h20v20h-20zM425 1959h20v20h-20zM425 1979h20v20h-20zM425 1999h20v20h-20zM425 2019h20v20h-20zM425 2039h20v20h-20zM425 2059h20v20h-20zM425 2079h20v20h-20zM425 2099h20v20h-20zM425 2119h20v20h-20zM425 2139h20v20h-20zM425 2159h20v20h-20z"/>
<path fill="#1a4ed6" d="M464 1718h20v20h-20z"/>
<path fill="#1e31c8" d="M484 1718h20v20h-20zM464 1818h20v21h-20z"/>
<path fill="#221fbe" d="M523 1718h20v20h-20zM484 1798h20v20h-20zM563 2239h39v20h-39z"/>
<path fill="#221dbe" d="M543 1718h59v20h-59zM504 1758h19v20h-19zM484 1818h20v21h-20z"/>
<path fill="#1674e7" d="M405 1738h20v20h-20zM405 1758h20v20h-20zM405 1778h20v20h-20zM405 1798h20v20h-20zM405 1818h20v21h-20zM405 1839h20v20h-20zM405 1859h20v20h-20zM405 1879h20v20h-20zM405 1899h20v20h-20zM405 1919h20v20h-20zM405 1939h20v20h-20zM405 1959h20v20h-20zM405 1979h20v20h-20zM405 1999h20v20h-20zM405 2019h20v20h-20zM405 2039h20v20h-20zM405 2059h20v20h-20zM405 2079h20v20h-20zM405 2099h20v20h-20zM405 2119h20v20h-20zM405 2139h20v20h-20zM405 2159h20v20h-20zM405 2179h20v20h-20zM405 2199h20v20h-20zM405 2219h20v20h-20z"/>
<path fill="#1957da" d="M445 1738h19v20h-19z"/>
<path fill="#1b48d3" d="M464 1738h20v20h-20zM445 1798h19v20h-19z"/>
<path fill="#231bbd" d="M523 1738h20v20h-20zM484 2179h20v20h-20z"/>
<path fill="#2319bc" d="M543 1738h39v20h-39zM504 1778h19v20h-19zM484 1839h20v20h-20zM484 1859h20v20h-20zM484 1879h20v20h-20zM484 1899h20v20h-20zM484 1919h20v20h-20zM484 1939h20v20h-20zM484 1959h20v20h-20zM484 1979h20v20h-20zM484 1999h20v20h-20zM484 2019h20v20h-20zM484 2039h20v20h-20zM484 2059h20v20h-20zM484 2079h20v20h-20zM484 2099h20v20h-20zM484 2119h20v20h-20zM484 2139h20v20h-20zM484 2159h20v20h-20zM523 2219h40v20h-40z"/>
<path fill="#2317bb" d="M582 1738h20v20h-20zM504 2199h19v20h-19zM563 2219h39v20h-39z"/>
<path fill="#1a51d8" d="M445 1758h19v20h-19zM464 2239h20v20h-20z"/>
<path fill="#1c40cf" d="M464 1758h20v20h-20z"/>
<path fill="#2415bb" d="M523 1758h40v20h-40zM504 1798h19v20h-19z"/>
<path fill="#2413ba" d="M563 1758h39v20h-39zM504 1818h19v21h-19z"/>
<path fill="#1b4cd5" d="M445 1778h19v20h-19zM445 2199h19v20h-19z"/>
<path fill="#1d3acc" d="M464 1778h20v20h-20z"/>
<path fill="#2411b9" d="M523 1778h20v20h-20zM504 2179h19v20h-19z"/>
<path fill="#250fb8" d="M543 1778h59v20h-59zM523 1798h20v20h-20zM504 1839h19v20h-19zM504 1859h19v20h-19zM504 1879h19v20h-19zM504 1899h19v20h-19zM504 1919h19v20h-19zM504 1939h19v20h-19zM504 1959h19v20h-19zM504 1979h19v20h-19zM504 1999h19v20h-19zM504 2019h19v20h-19zM504 2039h19v20h-19zM504 2059h19v20h-19zM504 2079h19v20h-19zM504 2099h19v20h-19zM504 2119h19v20h-19zM504 2139h19v20h-19zM504 2159h19v20h-19zM523 2199h40v20h-40z"/>
<path fill="#250db8" d="M543 1798h20v20h-20zM563 2199h39v20h-39z"/>
<path fill="#260bb7" d="M563 1798h39v20h-39zM523 1818h20v21h-20z"/>
<path fill="#1b46d2" d="M445 1818h19v21h-19zM464 2219h20v20h-20z"/>
<path fill="#2609b6" d="M543 1818h39v21h-39zM523 1839h20v20h-20zM523 1859h20v20h-20zM523 1879h20v20h-20zM523 1899h20v20h-20zM523 1919h20v20h-20zM523 1939h20v20h-20zM523 1959h20v20h-20zM523 1979h20v20h-20zM523 1999h20v20h-20zM523 2019h20v20h-20zM523 2039h20v20h-20zM523 2059h20v20h-20zM523 2079h20v20h-20zM523 2099h20v20h-20zM523 2119h20v20h-20zM523 2139h20v20h-20zM523 2159h20v20h-20zM523 2179h20v20h-20z"/>
<path fill="#2608b5" d="M582 1818h20v21h-20zM543 1839h39v20h-39zM543 1859h39v20h-39zM543 1879h39v20h-39zM543 1899h39v20h-39zM543 1919h39v20h-39zM543 1939h39v20h-39zM543 1959h39v20h-39zM543 1979h39v20h-39zM543 1999h39v20h-39zM543 2019h39v20h-39zM543 2039h39v20h-39zM543 2059h39v20h-39zM543 2079h39v20h-39zM543 2099h39v20h-39zM543 2119h39v20h-39zM543 2139h39v20h-39zM543 2159h39v20h-39zM543 2179h59v20h-59z"/>
<path fill="#2509b3" d="M582 1839h20v20h-20zM582 1859h20v20h-20zM582 1879h20v20h-20zM582 1899h20v20h-20zM582 1919h20v20h-20zM582 1939h20v20h-20zM582 1959h20v20h-20zM582 1979h20v20h-20zM582 1999h20v20h-20zM582 2019h20v20h-20zM582 2039h20v20h-20zM582 2059h20v20h-20zM582 2079h20v20h-20zM582 2099h20v20h-20zM582 2119h20v20h-20zM582 2139h20v20h-20zM582 2159h20v20h-20z"/>
</g>
<g fill="#fff" stroke="#000" stroke-width="1" stroke-dasharray="1.1 2.1"><circle cx="168.5" cy="1689.1" r="11.6"/><circle cx="217.7" cy="1689.1" r="11.6"/><circle cx="266.9" cy="1689.1" r="11.6"/><circle cx="316.2" cy="1689.1" r="11.6"/><circle cx="365.4" cy="1689.1" r="11.6"/><circle cx="414.6" cy="1689.1" r="11.6"/><circle cx="463.8" cy="1689.1" r="11.6"/><circle cx="513.0" cy="1689.1" r="11.6"/><circle cx="562.3" cy="1689.1" r="11.6"/><circle cx="168.5" cy="1759.4" r="11.6"/><circle cx="217.7" cy="1759.4" r="11.6"/><circle cx="266.9" cy="1759.4" r="11.6"/><circle cx="316.2" cy="1759.4" r="11.6"/><circle cx="365.4" cy="1759.4" r="11.6"/><circle cx="414.6" cy="1759.4" r="11.6"/><circle cx="463.8" cy="1759.4" r="11.6"/><circle cx="513.0" cy="1759.4" r="11.6"/><circle cx="562.3" cy="1759.4" r="11.6"/><circle cx="168.5" cy="1829.7" r="11.6"/><circle cx="217.7" cy="1829.7" r="11.6"/><circle cx="266.9" cy="1829.7" r="11.6"/><circle cx="316.2" cy="1829.7" r="11.6"/><circle cx="365.4" cy="1829.7" r="11.6"/><circle cx="414.6" cy="1829.7" r="11.6"/><circle cx="463.8" cy="1829.7" r="11.6"/><circle cx="513.0" cy="1829.7" r="11.6"/><circle cx="562.3" cy="1829.7" r="11.6"/><circle cx="168.5" cy="1899.9" r="11.6"/><circle cx="217.7" cy="1899.9" r="11.6"/><circle cx="266.9" cy="1899.9" r="11.6"/><circle cx="316.2" cy="1899.9" r="11.6"/><circle cx="365.4" cy="1899.9" r="11.6"/><circle cx="414.6" cy="1899.9" r="11.6"/><circle cx="463.8" cy="1899.9" r="11.6"/><circle cx="513.0" cy="1899.9" r="11.6"/><circle cx="562.3" cy="1899.9" r="11.6"/><circle cx="168.5" cy="1970.2" r="11.6"/><circle cx="217.7" cy="1970.2" r="11.6"/><circle cx="266.9" cy="1970.2" r="11.6"/><circle cx="316.2" cy="1970.2" r="11.6"/><circle cx="365.4" cy="1970.2" r="11.6"/><circle cx="414.6" cy="1970.2" r="11.6"/><circle cx="463.8" cy="1970.2" r="11.6"/><circle cx="513.0" cy="1970.2" r="11.6"/><circle cx="562.3" cy="1970.2" r="11.6"/><circle cx="168.5" cy="2040.5" r="11.6"/><circle cx="217.7" cy="2040.5" r="11.6"/><circle cx="266.9" cy="2040.5" r="11.6"/><circle cx="316.2" cy="2040.5" r="11.6"/><circle cx="365.4" cy="2040.5" r="11.6"/><circle cx="414.6" cy="2040.5" r="11.6"/><circle cx="463.8" cy="2040.5" r="11.6"/><circle cx="513.0" cy="2040.5" r="11.6"/><circle cx="562.3" cy="2040.5" r="11.6"/><circle cx="168.5" cy="2110.8" r="11.6"/><circle cx="217.7" cy="2110.8" r="11.6"/><circle cx="266.9" cy="2110.8" r="11.6"/><circle cx="316.2" cy="2110.8" r="11.6"/><circle cx="365.4" cy="2110.8" r="11.6"/><circle cx="414.6" cy="2110.8" r="11.6"/><circle cx="463.8" cy="2110.8" r="11.6"/><circle cx="513.0" cy="2110.8" r="11.6"/><circle cx="562.3" cy="2110.8" r="11.6"/><circle cx="168.5" cy="2181.1" r="11.6"/><circle cx="217.7" cy="2181.1" r="11.6"/><circle cx="266.9" cy="2181.1" r="11.6"/><circle cx="316.2" cy="2181.1" r="11.6"/><circle cx="365.4" cy="2181.1" r="11.6"/><circle cx="414.6" cy="2181.1" r="11.6"/><circle cx="463.8" cy="2181.1" r="11.6"/><circle cx="513.0" cy="2181.1" r="11.6"/><circle cx="562.3" cy="2181.1" r="11.6"/><circle cx="168.5" cy="2251.3" r="11.6"/><circle cx="217.7" cy="2251.3" r="11.6"/><circle cx="266.9" cy="2251.3" r="11.6"/><circle cx="316.2" cy="2251.3" r="11.6"/><circle cx="365.4" cy="2251.3" r="11.6"/><circle cx="414.6" cy="2251.3" r="11.6"/><circle cx="463.8" cy="2251.3" r="11.6"/><circle cx="513.0" cy="2251.3" r="11.6"/><circle cx="562.3" cy="2251.3" r="11.6"/></g>
<path fill="#000" d="M258.0 1689.1l8.9 -8.9l8.9 8.9l-8.9 8.9zM307.3 1689.1l8.9 -8.9l8.9 8.9l-8.9 8.9zM356.5 1689.1l8.9 -8.9l8.9 8.9l-8.9 8.9zM405.7 1689.1l8.9 -8.9l8.9 8.9l-8.9 8.9zM454.9 1689.1l8.9 -8.9l8.9 8.9l-8.9 8.9zM504.1 1689.1l8.9 -8.9l8.9 8.9l-8.9 8.9zM553.4 1689.1l8.9 -8.9l8.9 8.9l-8.9 8.9zM258.0 1759.4l8.9 -8.9l8.9 8.9l-8.9 8.9zM307.3 1759.4l8.9 -8.9l8.9 8.9l-8.9 8.9zM356.5 1759.4l8.9 -8.9l8.9 8.9l-8.9 8.9zM405.7 1759.4l8.9 -8.9l8.9 8.9l-8.9 8.9zM454.9 1759.4l8.9 -8.9l8.9 8.9l-8.9 8.9zM504.1 1759.4l8.9 -8.9l8.9 8.9l-8.9 8.9zM553.4 1759.4l8.9 -8.9l8.9 8.9l-8.9 8.9zM258.0 1829.7l8.9 -8.9l8.9 8.9l-8.9 8.9zM307.3 1829.7l8.9 -8.9l8.9 8.9l-8.9 8.9zM356.5 1829.7l8.9 -8.9l8.9 8.9l-8.9 8.9zM405.7 1829.7l8.9 -8.9l8.9 8.9l-8.9 8.9zM454.9 1829.7l8.9 -8.9l8.9 8.9l-8.9 8.9zM504.1 1829.7l8.9 -8.9l8.9 8.9l-8.9 8.9zM553.4 1829.7l8.9 -8.9l8.9 8.9l-8.9 8.9zM258.0 1899.9l8.9 -8.9l8.9 8.9l-8.9 8.9zM307.3 1899.9l8.9 -8.9l8.9 8.9l-8.9 8.9zM356.5 1899.9l8.9 -8.9l8.9 8.9l-8.9 8.9zM405.7 1899.9l8.9 -8.9l8.9 8.9l-8.9 8.9zM454.9 1899.9l8.9 -8.9l8.9 8.9l-8.9 8.9zM504.1 1899.9l8.9 -8.9l8.9 8.9l-8.9 8.9zM553.4 1899.9l8.9 -8.9l8.9 8.9l-8.9 8.9zM258.0 1970.2l8.9 -8.9l8.9 8.9l-8.9 8.9zM307.3 1970.2l8.9 -8.9l8.9 8.9l-8.9 8.9zM356.5 1970.2l8.9 -8.9l8.9 8.9l-8.9 8.9zM405.7 1970.2l8.9 -8.9l8.9 8.9l-8.9 8.9zM454.9 1970.2l8.9 -8.9l8.9 8.9l-8.9 8.9zM504.1 1970.2l8.9 -8.9l8.9 8.9l-8.9 8.9zM553.4 1970.2l8.9 -8.9l8.9 8.9l-8.9 8.9zM258.0 2040.5l8.9 -8.9l8.9 8.9l-8.9 8.9zM307.3 2040.5l8.9 -8.9l8.9 8.9l-8.9 8.9zM356.5 2040.5l8.9 -8.9l8.9 8.9l-8.9 8.9zM405.7 2040.5l8.9 -8.9l8.9 8.9l-8.9 8.9zM454.9 2040.5l8.9 -8.9l8.9 8.9l-8.9 8.9zM504.1 2040.5l8.9 -8.9l8.9 8.9l-8.9 8.9zM553.4 2040.5l8.9 -8.9l8.9 8.9l-8.9 8.9zM258.0 2110.8l8.9 -8.9l8.9 8.9l-8.9 8.9zM307.3 2110.8l8.9 -8.9l8.9 8.9l-8.9 8.9zM356.5 2110.8l8.9 -8.9l8.9 8.9l-8.9 8.9zM405.7 2110.8l8.9 -8.9l8.9 8.9l-8.9 8.9zM454.9 2110.8l8.9 -8.9l8.9 8.9l-8.9 8.9zM504.1 2110.8l8.9 -8.9l8.9 8.9l-8.9 8.9zM553.4 2110.8l8.9 -8.9l8.9 8.9l-8.9 8.9zM258.0 2181.1l8.9 -8.9l8.9 8.9l-8.9 8.9zM307.3 2181.1l8.9 -8.9l8.9 8.9l-8.9 8.9zM356.5 2181.1l8.9 -8.9l8.9 8.9l-8.9 8.9zM405.7 2181.1l8.9 -8.9l8.9 8.9l-8.9 8.9zM454.9 2181.1l8.9 -8.9l8.9 8.9l-8.9 8.9zM504.1 2181.1l8.9 -8.9l8.9 8.9l-8.9 8.9zM553.4 2181.1l8.9 -8.9l8.9 8.9l-8.9 8.9zM258.0 2251.3l8.9 -8.9l8.9 8.9l-8.9 8.9zM307.3 2251.3l8.9 -8.9l8.9 8.9l-8.9 8.9zM356.5 2251.3l8.9 -8.9l8.9 8.9l-8.9 8.9zM405.7 2251.3l8.9 -8.9l8.9 8.9l-8.9 8.9zM454.9 2251.3l8.9 -8.9l8.9 8.9l-8.9 8.9zM504.1 2251.3l8.9 -8.9l8.9 8.9l-8.9 8.9zM553.4 2251.3l8.9 -8.9l8.9 8.9l-8.9 8.9z"/>
<path d="M615.2 1564.0H291.2V1608.2H615.2" fill="none" stroke="#000" stroke-width="1.2"/>
<text y="1600.7" font-family='"Liberation Sans", sans-serif' font-weight="bold" font-size="40.5" fill="#000"><tspan x="297.0" textLength="114" lengthAdjust="spacingAndGlyphs">6.00 –</tspan><tspan x="460.8" textLength="148" lengthAdjust="spacingAndGlyphs">4.00 Ma</tspan></text>
<rect x="625.3" y="1651.5" width="485.0" height="634.0" fill="#000"/>
<rect x="769.2" y="1652.5" width="196.9" height="4.4" fill="#fff"/>
<rect x="769.2" y="2280.1" width="196.9" height="4.4" fill="#fff"/>
<rect x="626.3" y="1829.7" width="4.4" height="281.1" fill="#fff"/>
<rect x="1104.9" y="1829.7" width="4.4" height="281.1" fill="#fff"/>
<rect x="626.3" y="1652.5" width="4.4" height="4.4" fill="#fff"/>
<rect x="626.3" y="2280.1" width="4.4" height="4.4" fill="#fff"/>
<rect x="1104.9" y="1652.5" width="4.4" height="4.4" fill="#fff"/>
<rect x="1104.9" y="2280.1" width="4.4" height="4.4" fill="#fff"/>
<g shape-rendering="crispEdges">
<path fill="#53ff27" d="M632 1658h20v20h-20z"/>
<path fill="#68ff22" d="M652 1658h19v20h-19zM632 1698h20v20h-20z"/>
<path fill="#83ff1b" d="M671 1658h20v20h-20zM652 1698h19v20h-19zM632 1738h20v20h-20z"/>
<path fill="#adff0d" d="M691 1658h20v20h-20zM671 1718h20v20h-20zM671 2219h20v20h-20z"/>
<path fill="#d4ff04" d="M711 1658h19v20h-19zM691 1718h20v20h-20zM671 2179h20v20h-20zM691 2219h20v20h-20zM711 2259h19v21h-19z"/>
<path fill="#f4ff01" d="M730 1658h20v20h-20zM691 1798h20v20h-20zM730 2259h20v21h-20z"/>
<path fill="#fcfd00" d="M750 1658h20v20h-20zM750 1678h20v20h-20zM730 1758h20v20h-20zM711 1818h19v21h-19zM711 1839h19v20h-19zM711 1859h19v20h-19zM711 1879h19v20h-19zM711 1899h19v20h-19zM711 1919h19v20h-19zM711 1939h19v20h-19zM711 1959h19v20h-19zM711 1979h19v20h-19zM711 1999h19v20h-19zM711 2019h19v20h-19zM711 2039h19v20h-19zM711 2059h19v20h-19zM711 2079h19v20h-19zM711 2099h19v20h-19zM711 2119h19v20h-19zM711 2139h19v20h-19zM711 2159h19v20h-19zM730 2199h20v20h-20zM750 2259h20v21h-20z"/>
<path fill="#fff800" d="M770 1658h19v20h-19zM888 1658h20v20h-20zM1026 1658h19v20h-19zM809 1698h20v20h-20zM1065 2239h20v20h-20zM770 2259h19v21h-19zM888 2259h20v21h-20zM1026 2259h19v21h-19z"/>
<path fill="#fffa00" d="M789 1658h20v20h-20zM849 1658h39v20h-39zM1045 1658h20v20h-20zM789 1678h60v20h-60zM1085 1678h19v20h-19zM789 2239h20v20h-20zM829 2239h20v20h-20zM789 2259h20v21h-20zM849 2259h39v21h-39zM1045 2259h20v21h-20z"/>
<path fill="#fdfc00" d="M809 1658h20v20h-20zM1085 1658h19v20h-19zM750 1698h20v20h-20zM750 1718h20v20h-20zM750 1738h20v20h-20zM750 1758h20v20h-20zM730 1778h20v20h-20zM730 1798h20v20h-20zM730 1818h20v21h-20zM730 1839h20v20h-20zM730 1859h20v20h-20zM730 1879h20v20h-20zM730 1899h20v20h-20zM730 1919h20v20h-20zM730 1939h20v20h-20zM730 1959h20v20h-20zM730 1979h20v20h-20zM730 1999h20v20h-20zM730 2019h20v20h-20zM730 2039h20v20h-20zM730 2059h20v20h-20zM730 2079h20v20h-20zM730 2099h20v20h-20zM730 2119h20v20h-20zM730 2139h20v20h-20zM730 2159h20v20h-20zM730 2179h20v20h-20zM750 2199h20v20h-20zM750 2219h20v20h-20zM750 2239h20v20h-20zM809 2259h20v21h-20zM1085 2259h19v21h-19z"/>
<path fill="#fefb00" d="M829 1658h20v20h-20zM1065 1658h20v20h-20zM750 1778h20v20h-20zM750 1798h20v20h-20zM750 1818h20v21h-20zM750 1839h20v20h-20zM750 1859h20v20h-20zM750 1879h20v20h-20zM750 1899h20v20h-20zM750 1919h20v20h-20zM750 1939h20v20h-20zM750 1959h20v20h-20zM750 1979h20v20h-20zM750 1999h20v20h-20zM750 2019h20v20h-20zM750 2039h20v20h-20zM750 2059h20v20h-20zM750 2079h20v20h-20zM750 2099h20v20h-20zM750 2119h20v20h-20zM750 2139h20v20h-20zM750 2159h20v20h-20zM750 2179h20v20h-20zM809 2239h20v20h-20zM1085 2239h19v20h-19zM829 2259h20v21h-20zM1065 2259h20v21h-20z"/>
<path fill="#fff500" d="M908 1658h19v20h-19zM1006 1658h20v20h-20zM770 1678h19v20h-19zM849 1678h19v20h-19zM1065 1678h20v20h-20zM770 1698h39v20h-39zM770 1718h19v20h-19zM770 2199h19v20h-19zM770 2219h59v20h-59zM770 2239h19v20h-19zM849 2239h19v20h-19zM908 2259h19v21h-19zM1006 2259h20v21h-20z"/>
<path fill="#fff100" d="M927 1658h20v20h-20zM986 1658h20v20h-20zM868 1678h20v20h-20zM1045 1678h20v20h-20zM829 1698h20v20h-20zM1085 1698h19v20h-19zM809 1718h20v20h-20zM770 1839h19v20h-19zM770 1859h19v20h-19zM770 1879h19v20h-19zM770 1899h19v20h-19zM770 1919h19v20h-19zM770 1939h19v20h-19zM770 1959h19v20h-19zM770 1979h19v20h-19zM770 1999h19v20h-19zM770 2019h19v20h-19zM770 2039h19v20h-19zM770 2059h19v20h-19zM789 2179h20v20h-20zM809 2199h20v20h-20zM829 2219h20v20h-20zM1085 2219h19v20h-19zM868 2239h20v20h-20zM1045 2239h20v20h-20zM927 2259h20v21h-20z"/>
<path fill="#ffec00" d="M947 1658h20v20h-20zM888 1678h20v20h-20zM1026 1678h19v20h-19zM849 1698h19v20h-19zM789 1758h20v20h-20zM789 2139h20v20h-20zM809 2179h20v20h-20zM849 2219h19v20h-19zM908 2239h19v20h-19zM947 2259h20v21h-20z"/>
<path fill="#ffee00" d="M967 1658h19v20h-19zM789 1738h20v20h-20zM789 2159h20v20h-20zM888 2239h20v20h-20zM1026 2239h19v20h-19zM967 2259h19v21h-19z"/>
<path fill="#5dff25" d="M632 1678h20v20h-20z"/>
<path fill="#73ff1f" d="M652 1678h19v20h-19zM632 1718h20v20h-20z"/>
<path fill="#8dff17" d="M671 1678h20v20h-20z"/>
<path fill="#b8ff0a" d="M691 1678h20v20h-20zM652 1798h19v20h-19z"/>
<path fill="#d8ff03" d="M711 1678h19v20h-19zM671 1798h20v20h-20zM671 2159h20v20h-20z"/>
<path fill="#f8ff00" d="M730 1678h20v20h-20zM711 1738h19v20h-19zM691 1818h20v21h-20zM691 2159h20v20h-20z"/>
<path fill="#ffea00" d="M908 1678h19v20h-19zM1006 1678h20v20h-20zM1065 1698h20v20h-20zM829 1718h20v20h-20zM809 1738h20v20h-20zM789 1778h20v20h-20zM789 1798h20v20h-20zM789 2119h20v20h-20zM829 2199h20v20h-20zM1065 2219h20v20h-20zM1006 2239h20v20h-20z"/>
<path fill="#ffe500" d="M927 1678h20v20h-20zM986 1678h20v20h-20zM868 1698h20v20h-20zM1045 1698h20v20h-20zM809 1758h20v20h-20zM789 1839h20v20h-20zM789 2059h20v20h-20zM789 2079h20v20h-20zM809 2139h20v20h-20zM829 2179h20v20h-20zM868 2219h20v20h-20z"/>
<path fill="#ffe000" d="M947 1678h20v20h-20zM1026 1698h19v20h-19zM1065 1718h20v20h-20zM809 1798h20v20h-20zM809 2119h20v20h-20zM829 2159h20v20h-20zM1085 2179h19v20h-19zM1065 2199h20v20h-20zM888 2219h20v20h-20zM1026 2219h19v20h-19z"/>
<path fill="#ffe300" d="M967 1678h19v20h-19zM888 1698h20v20h-20zM849 1718h19v20h-19zM829 1738h20v20h-20zM809 1778h20v20h-20zM789 1859h20v20h-20zM789 1879h20v20h-20zM789 1899h20v20h-20zM789 1919h20v20h-20zM789 1939h20v20h-20zM789 1959h20v20h-20zM789 1979h20v20h-20zM789 1999h20v20h-20zM789 2019h20v20h-20zM789 2039h20v20h-20zM849 2199h19v20h-19zM1045 2219h20v20h-20zM947 2239h39v20h-39z"/>
<path fill="#9dff12" d="M671 1698h20v20h-20zM652 1738h19v20h-19zM632 1818h20v21h-20zM632 1839h20v20h-20zM632 2139h20v20h-20z"/>
<path fill="#c8ff05" d="M691 1698h20v20h-20zM671 1758h20v20h-20z"/>
<path fill="#e4ff02" d="M711 1698h19v20h-19zM691 2199h20v20h-20z"/>
<path fill="#fbfe00" d="M730 1698h20v20h-20zM730 1718h20v20h-20zM730 1738h20v20h-20zM711 1758h19v20h-19zM711 1778h19v20h-19zM711 1798h19v20h-19zM691 1859h20v20h-20zM691 1879h20v20h-20zM691 1899h20v20h-20zM691 1919h20v20h-20zM691 1939h20v20h-20zM691 1959h20v20h-20zM691 1979h20v20h-20zM691 1999h20v20h-20zM691 2019h20v20h-20zM691 2039h20v20h-20zM691 2059h20v20h-20zM691 2079h20v20h-20zM691 2099h20v20h-20zM691 2119h20v20h-20zM711 2179h19v20h-19zM730 2219h20v20h-20z"/>
<path fill="#ffde00" d="M908 1698h19v20h-19zM1085 1738h19v20h-19zM829 1758h20v20h-20zM809 1818h20v21h-20zM809 2099h20v20h-20zM849 2179h19v20h-19zM908 2219h19v20h-19z"/>
<path fill="#ffd900" d="M927 1698h20v20h-20zM1045 1718h20v20h-20zM829 1778h20v20h-20zM809 1839h20v20h-20zM849 2159h19v20h-19zM1065 2179h20v20h-20zM888 2199h20v20h-20zM1045 2199h20v20h-20zM927 2219h20v20h-20z"/>
<path fill="#ffd500" d="M947 1698h39v20h-39zM1026 1718h19v20h-19zM1065 1738h20v20h-20zM849 1758h19v20h-19zM809 1879h20v20h-20zM809 1899h20v20h-20zM809 1919h20v20h-20zM809 1939h20v20h-20zM809 1959h20v20h-20zM809 1979h20v20h-20zM809 1999h20v20h-20zM809 2019h20v20h-20zM809 2039h20v20h-20zM829 2099h20v20h-20zM1085 2139h19v20h-19zM908 2199h19v20h-19zM1026 2199h19v20h-19zM967 2219h19v20h-19z"/>
<path fill="#ffd700" d="M986 1698h20v20h-20zM888 1718h20v20h-20zM1085 1758h19v20h-19zM829 1798h20v20h-20zM809 1859h20v20h-20zM809 2059h20v20h-20zM829 2119h20v20h-20zM868 2179h20v20h-20zM986 2219h20v20h-20z"/>
<path fill="#ffdc00" d="M1006 1698h20v20h-20zM868 1718h20v20h-20zM849 1738h19v20h-19zM809 2079h20v20h-20zM829 2139h20v20h-20zM1085 2159h19v20h-19zM868 2199h20v20h-20zM1006 2219h20v20h-20z"/>
<path fill="#93ff16" d="M652 1718h19v20h-19zM632 1778h20v20h-20zM632 2179h20v20h-20zM652 2219h19v20h-19z"/>
<path fill="#f0ff01" d="M711 1718h19v20h-19zM691 1778h20v20h-20zM691 2179h20v20h-20zM711 2219h19v20h-19z"/>
<path fill="#fff300" d="M789 1718h20v20h-20zM770 1738h19v20h-19zM770 1758h19v20h-19zM770 1778h19v20h-19zM770 1798h19v20h-19zM770 1818h19v21h-19zM770 2079h19v20h-19zM770 2099h19v20h-19zM770 2119h19v20h-19zM770 2139h19v20h-19zM770 2159h19v20h-19zM770 2179h19v20h-19zM789 2199h20v20h-20zM986 2259h20v21h-20z"/>
<path fill="#ffd200" d="M908 1718h19v20h-19zM868 1738h20v20h-20zM1085 1778h19v20h-19zM829 1818h20v21h-20zM849 2139h19v20h-19zM1065 2159h20v20h-20zM1045 2179h20v20h-20zM947 2219h20v20h-20z"/>
<path fill="#ffce00" d="M927 1718h20v20h-20zM888 1738h20v20h-20zM1045 1738h20v20h-20zM1065 1758h20v20h-20zM849 1798h19v20h-19zM1085 1798h19v20h-19zM849 2119h19v20h-19zM1026 2179h19v20h-19zM927 2199h20v20h-20z"/>
<path fill="#ffc700" d="M947 1718h39v20h-39zM888 1758h20v20h-20zM1045 1758h20v20h-20zM829 1899h20v20h-20zM829 1919h20v20h-20zM829 1939h20v20h-20zM829 1959h20v20h-20zM829 1979h20v20h-20zM829 1999h20v20h-20zM829 2019h20v20h-20zM849 2079h19v20h-19zM1065 2119h20v20h-20zM1026 2159h19v20h-19zM927 2179h20v20h-20zM1006 2179h20v20h-20z"/>
<path fill="#ffcc00" d="M986 1718h20v20h-20zM868 1758h20v20h-20zM829 1859h20v20h-20zM829 2059h20v20h-20zM868 2139h20v20h-20zM1065 2139h20v20h-20zM888 2159h20v20h-20zM1045 2159h20v20h-20zM908 2179h19v20h-19zM986 2199h20v20h-20z"/>
<path fill="#ffd000" d="M1006 1718h20v20h-20zM849 1778h19v20h-19zM829 1839h20v20h-20zM829 2079h20v20h-20zM1085 2119h19v20h-19zM868 2159h20v20h-20zM888 2179h20v20h-20zM1006 2199h20v20h-20z"/>
<path fill="#ffe700" d="M1085 1718h19v20h-19zM789 1818h20v21h-20zM789 2099h20v20h-20zM809 2159h20v20h-20zM1085 2199h19v20h-19zM927 2239h20v20h-20zM986 2239h20v20h-20z"/>
<path fill="#bdff08" d="M671 1738h20v20h-20zM652 1818h19v21h-19zM652 2159h19v20h-19z"/>
<path fill="#e0ff03" d="M691 1738h20v20h-20zM671 1839h20v20h-20zM671 1859h20v20h-20zM671 1879h20v20h-20zM671 1899h20v20h-20zM671 1919h20v20h-20zM671 1939h20v20h-20zM671 1959h20v20h-20zM671 1979h20v20h-20zM671 1999h20v20h-20zM671 2019h20v20h-20zM671 2039h20v20h-20zM671 2059h20v20h-20zM671 2079h20v20h-20zM671 2099h20v20h-20zM671 2119h20v20h-20zM671 2139h20v20h-20zM711 2239h19v20h-19z"/>
<path fill="#ffc900" d="M908 1738h19v20h-19zM1026 1738h19v20h-19zM868 1778h20v20h-20zM1065 1778h20v20h-20zM849 1818h19v21h-19zM1085 1818h19v21h-19zM829 1879h20v20h-20zM829 2039h20v20h-20zM849 2099h19v20h-19zM1085 2099h19v20h-19zM947 2199h39v20h-39z"/>
<path fill="#ffc200" d="M927 1738h20v20h-20zM908 1758h19v20h-19zM888 1778h20v20h-20zM1045 1778h20v20h-20zM849 2059h19v20h-19zM986 2179h20v20h-20z"/>
<path fill="#ffbc00" d="M947 1738h39v20h-39zM927 1758h20v20h-20zM1006 1758h20v20h-20zM908 1778h19v20h-19zM1026 1778h19v20h-19zM868 1839h20v20h-20zM1065 1839h20v20h-20zM1085 1879h19v20h-19zM849 1899h19v20h-19zM849 1919h19v20h-19zM849 1939h19v20h-19zM849 1959h19v20h-19zM849 1979h19v20h-19zM849 1999h19v20h-19zM849 2019h19v20h-19zM1085 2039h19v20h-19zM868 2079h20v20h-20zM1065 2079h20v20h-20zM986 2159h20v20h-20z"/>
<path fill="#ffbe00" d="M986 1738h20v20h-20zM888 1798h20v20h-20zM1045 1798h20v20h-20zM1085 1859h19v20h-19zM849 1879h19v20h-19zM849 2039h19v20h-19zM888 2119h20v20h-20zM1045 2119h20v20h-20z"/>
<path fill="#ffc500" d="M1006 1738h20v20h-20zM868 1798h20v20h-20zM1065 1798h20v20h-20zM849 1839h19v20h-19zM1085 1839h19v20h-19zM1085 2079h19v20h-19zM868 2119h20v20h-20zM888 2139h20v20h-20zM1045 2139h20v20h-20zM908 2159h19v20h-19z"/>
<path fill="#88ff19" d="M632 1758h20v20h-20zM632 2199h20v20h-20zM671 2259h20v21h-20z"/>
<path fill="#a8ff0f" d="M652 1758h19v20h-19z"/>
<path fill="#e8ff02" d="M691 1758h20v20h-20z"/>
<path fill="#ffb500" d="M947 1758h20v20h-20zM868 1859h20v20h-20zM1065 1859h20v20h-20zM888 2079h20v20h-20zM986 2139h20v20h-20z"/>
<path fill="#ffb200" d="M967 1758h19v20h-19zM1006 1798h20v20h-20zM908 1818h19v21h-19zM1026 1818h19v21h-19zM888 1839h20v20h-20zM1045 1839h20v20h-20zM868 1879h20v20h-20zM1065 1879h20v20h-20zM868 1899h20v20h-20zM868 1919h20v20h-20zM868 1939h20v20h-20zM868 1959h20v20h-20zM868 1979h20v20h-20zM868 1999h20v20h-20zM868 2019h20v20h-20zM868 2039h20v20h-20zM1065 2039h20v20h-20zM1045 2079h20v20h-20zM908 2099h19v20h-19zM1026 2099h19v20h-19zM927 2119h20v20h-20zM1006 2119h20v20h-20zM947 2139h20v20h-20z"/>
<path fill="#ffb700" d="M986 1758h20v20h-20zM927 1778h20v20h-20zM1006 1778h20v20h-20zM908 1798h19v20h-19zM1026 1798h19v20h-19zM1045 1818h20v21h-20zM868 2059h20v20h-20zM1065 2059h20v20h-20z"/>
<path fill="#ffc000" d="M1026 1758h19v20h-19zM868 1818h20v21h-20zM1065 1818h20v21h-20zM849 1859h19v20h-19zM1085 2059h19v20h-19zM868 2099h20v20h-20zM1065 2099h20v20h-20zM908 2139h19v20h-19zM1026 2139h19v20h-19zM927 2159h20v20h-20zM1006 2159h20v20h-20zM947 2179h39v20h-39z"/>
<path fill="#b3ff0c" d="M652 1778h19v20h-19zM652 2179h19v20h-19zM691 2259h20v21h-20z"/>
<path fill="#d0ff04" d="M671 1778h20v20h-20z"/>
<path fill="#ffb000" d="M947 1778h20v20h-20zM986 1778h20v20h-20zM927 1798h20v20h-20zM1065 1899h20v20h-20zM1065 1919h20v20h-20zM1065 1939h20v20h-20zM1065 1959h20v20h-20zM1065 1979h20v20h-20zM1065 1999h20v20h-20zM1065 2019h20v20h-20zM888 2059h20v20h-20zM967 2139h19v20h-19z"/>
<path fill="#ffae00" d="M967 1778h19v20h-19zM908 1839h19v20h-19zM888 1859h20v20h-20zM1045 2059h20v20h-20zM908 2079h19v20h-19zM1026 2079h19v20h-19z"/>
<path fill="#98ff14" d="M632 1798h20v20h-20zM632 2159h20v20h-20zM671 2239h20v20h-20z"/>
<path fill="#ffa900" d="M947 1798h39v20h-39zM1045 1879h20v20h-20zM888 1899h20v20h-20zM888 1919h20v20h-20zM888 1939h20v20h-20zM888 1959h20v20h-20zM888 1979h20v20h-20zM888 1999h20v20h-20zM888 2019h20v20h-20zM1045 2039h20v20h-20zM908 2059h19v20h-19zM967 2119h19v20h-19z"/>
<path fill="#ffac00" d="M986 1798h20v20h-20zM927 1818h20v21h-20zM1006 1818h20v21h-20zM1026 1839h19v20h-19zM1045 1859h20v20h-20zM888 1879h20v20h-20zM888 2039h20v20h-20zM927 2099h20v20h-20zM1006 2099h20v20h-20zM947 2119h20v20h-20zM986 2119h20v20h-20z"/>
<path fill="#dcff03" d="M671 1818h20v21h-20z"/>
<path fill="#ffb900" d="M888 1818h20v21h-20zM1085 1899h19v20h-19zM1085 1919h19v20h-19zM1085 1939h19v20h-19zM1085 1959h19v20h-19zM1085 1979h19v20h-19zM1085 1999h19v20h-19zM1085 2019h19v20h-19zM888 2099h20v20h-20zM1045 2099h20v20h-20zM908 2119h19v20h-19zM1026 2119h19v20h-19zM927 2139h20v20h-20zM1006 2139h20v20h-20zM947 2159h39v20h-39z"/>
<path fill="#ffa500" d="M947 1818h20v21h-20zM986 1818h20v21h-20zM927 1839h20v20h-20zM1006 1839h20v20h-20zM1026 1859h19v20h-19zM908 1879h19v20h-19zM947 2099h39v20h-39z"/>
<path fill="#ffa200" d="M967 1818h19v21h-19zM1026 1879h19v20h-19zM908 1899h19v20h-19zM908 1919h19v20h-19zM908 1939h19v20h-19zM908 1959h19v20h-19zM908 1979h19v20h-19zM908 1999h19v20h-19zM908 2019h19v20h-19zM908 2039h19v20h-19zM1026 2039h19v20h-19z"/>
<path fill="#c3ff07" d="M652 1839h19v20h-19zM652 1859h19v20h-19zM652 1879h19v20h-19zM652 1899h19v20h-19zM652 1919h19v20h-19zM652 1939h19v20h-19zM652 1959h19v20h-19zM652 1979h19v20h-19zM652 1999h19v20h-19zM652 2019h19v20h-19zM652 2039h19v20h-19zM652 2059h19v20h-19zM652 2079h19v20h-19zM652 2099h19v20h-19zM652 2119h19v20h-19zM652 2139h19v20h-19zM671 2199h20v20h-20zM691 2239h20v20h-20z"/>
<path fill="#faff00" d="M691 1839h20v20h-20zM691 2139h20v20h-20zM711 2199h19v20h-19zM730 2239h20v20h-20z"/>
<path fill="#ff9e00" d="M947 1839h20v20h-20zM986 1839h20v20h-20zM1006 1859h20v20h-20zM967 2079h19v20h-19z"/>
<path fill="#ff9c00" d="M967 1839h19v20h-19zM927 1879h20v20h-20zM1006 1879h20v20h-20zM927 2039h20v20h-20z"/>
<path fill="#a3ff11" d="M632 1859h20v20h-20zM632 1879h20v20h-20zM632 1899h20v20h-20zM632 1919h20v20h-20zM632 1939h20v20h-20zM632 1959h20v20h-20zM632 1979h20v20h-20zM632 1999h20v20h-20zM632 2019h20v20h-20zM632 2039h20v20h-20zM632 2059h20v20h-20zM632 2079h20v20h-20zM632 2099h20v20h-20zM632 2119h20v20h-20zM652 2199h19v20h-19z"/>
<path fill="#ffa700" d="M908 1859h19v20h-19zM1045 1899h20v20h-20zM1045 1919h20v20h-20zM1045 1939h20v20h-20zM1045 1959h20v20h-20zM1045 1979h20v20h-20zM1045 1999h20v20h-20zM1045 2019h20v20h-20zM1026 2059h19v20h-19zM927 2079h20v20h-20zM1006 2079h20v20h-20zM986 2099h20v20h-20z"/>
<path fill="#ffa000" d="M927 1859h20v20h-20zM1026 1899h19v20h-19zM1026 1919h19v20h-19zM1026 1939h19v20h-19zM1026 1959h19v20h-19zM1026 1979h19v20h-19zM1026 1999h19v20h-19zM1026 2019h19v20h-19zM927 2059h20v20h-20zM1006 2059h20v20h-20zM947 2079h20v20h-20zM986 2079h20v20h-20z"/>
<path fill="#ff9700" d="M947 1859h20v20h-20zM986 1859h20v20h-20zM967 2059h19v20h-19z"/>
<path fill="#ff9500" d="M967 1859h19v20h-19zM947 1879h20v20h-20zM986 1879h20v20h-20z"/>
<path fill="#ff9200" d="M967 1879h19v20h-19zM947 1899h20v20h-20zM986 1899h20v20h-20zM947 1919h20v20h-20zM986 1919h20v20h-20zM947 1939h20v20h-20zM986 1939h20v20h-20zM947 1959h20v20h-20zM986 1959h20v20h-20zM947 1979h20v20h-20zM986 1979h20v20h-20zM947 1999h20v20h-20zM986 1999h20v20h-20zM947 2019h20v20h-20zM986 2019h20v20h-20zM947 2039h20v20h-20zM986 2039h20v20h-20z"/>
<path fill="#ff9900" d="M927 1899h20v20h-20zM1006 1899h20v20h-20zM927 1919h20v20h-20zM1006 1919h20v20h-20zM927 1939h20v20h-20zM1006 1939h20v20h-20zM927 1959h20v20h-20zM1006 1959h20v20h-20zM927 1979h20v20h-20zM1006 1979h20v20h-20zM927 1999h20v20h-20zM1006 1999h20v20h-20zM927 2019h20v20h-20zM1006 2019h20v20h-20zM1006 2039h20v20h-20zM947 2059h20v20h-20zM986 2059h20v20h-20z"/>
<path fill="#ff9000" d="M967 1899h19v20h-19zM967 1919h19v20h-19zM967 1939h19v20h-19zM967 1959h19v20h-19zM967 1979h19v20h-19zM967 1999h19v20h-19zM967 2019h19v20h-19zM967 2039h19v20h-19z"/>
<path fill="#78ff1e" d="M632 2219h20v20h-20z"/>
<path fill="#63ff23" d="M632 2239h20v20h-20z"/>
<path fill="#7dff1c" d="M652 2239h19v20h-19z"/>
<path fill="#58ff26" d="M632 2259h20v21h-20z"/>
<path fill="#6dff21" d="M652 2259h19v21h-19z"/>
</g>
<g fill="#000"><circle cx="769.2" cy="1689.1" r="12.0"/><circle cx="818.5" cy="1689.1" r="12.0"/><circle cx="867.7" cy="1689.1" r="12.0"/><circle cx="916.9" cy="1689.1" r="12.0"/><circle cx="966.1" cy="1689.1" r="12.0"/><circle cx="1015.3" cy="1689.1" r="12.0"/><circle cx="1064.6" cy="1689.1" r="12.0"/><circle cx="769.2" cy="1759.4" r="12.0"/><circle cx="818.5" cy="1759.4" r="12.0"/><circle cx="867.7" cy="1759.4" r="12.0"/><circle cx="916.9" cy="1759.4" r="12.0"/><circle cx="966.1" cy="1759.4" r="12.0"/><circle cx="1015.3" cy="1759.4" r="12.0"/><circle cx="1064.6" cy="1759.4" r="12.0"/><circle cx="769.2" cy="1829.7" r="12.0"/><circle cx="818.5" cy="1829.7" r="12.0"/><circle cx="867.7" cy="1829.7" r="12.0"/><circle cx="916.9" cy="1829.7" r="12.0"/><circle cx="966.1" cy="1829.7" r="12.0"/><circle cx="1015.3" cy="1829.7" r="12.0"/><circle cx="1064.6" cy="1829.7" r="12.0"/><circle cx="769.2" cy="1899.9" r="12.0"/><circle cx="818.5" cy="1899.9" r="12.0"/><circle cx="867.7" cy="1899.9" r="12.0"/><circle cx="916.9" cy="1899.9" r="12.0"/><circle cx="966.1" cy="1899.9" r="12.0"/><circle cx="1015.3" cy="1899.9" r="12.0"/><circle cx="1064.6" cy="1899.9" r="12.0"/><circle cx="769.2" cy="1970.2" r="12.0"/><circle cx="818.5" cy="1970.2" r="12.0"/><circle cx="867.7" cy="1970.2" r="12.0"/><circle cx="916.9" cy="1970.2" r="12.0"/><circle cx="966.1" cy="1970.2" r="12.0"/><circle cx="1015.3" cy="1970.2" r="12.0"/><circle cx="1064.6" cy="1970.2" r="12.0"/><circle cx="769.2" cy="2040.5" r="12.0"/><circle cx="818.5" cy="2040.5" r="12.0"/><circle cx="867.7" cy="2040.5" r="12.0"/><circle cx="916.9" cy="2040.5" r="12.0"/><circle cx="966.1" cy="2040.5" r="12.0"/><circle cx="1015.3" cy="2040.5" r="12.0"/><circle cx="1064.6" cy="2040.5" r="12.0"/><circle cx="769.2" cy="2110.8" r="12.0"/><circle cx="818.5" cy="2110.8" r="12.0"/><circle cx="867.7" cy="2110.8" r="12.0"/><circle cx="916.9" cy="2110.8" r="12.0"/><circle cx="966.1" cy="2110.8" r="12.0"/><circle cx="1015.3" cy="2110.8" r="12.0"/><circle cx="1064.6" cy="2110.8" r="12.0"/><circle cx="769.2" cy="2181.1" r="12.0"/><circle cx="818.5" cy="2181.1" r="12.0"/><circle cx="867.7" cy="2181.1" r="12.0"/><circle cx="916.9" cy="2181.1" r="12.0"/><circle cx="966.1" cy="2181.1" r="12.0"/><circle cx="1015.3" cy="2181.1" r="12.0"/><circle cx="1064.6" cy="2181.1" r="12.0"/><circle cx="769.2" cy="2251.3" r="12.0"/><circle cx="818.5" cy="2251.3" r="12.0"/><circle cx="867.7" cy="2251.3" r="12.0"/><circle cx="916.9" cy="2251.3" r="12.0"/><circle cx="966.1" cy="2251.3" r="12.0"/><circle cx="1015.3" cy="2251.3" r="12.0"/><circle cx="1064.6" cy="2251.3" r="12.0"/></g>
<path d="M1117.4 1564.0H793.4V1608.2H1117.4" fill="none" stroke="#000" stroke-width="1.2"/>
<text y="1600.7" font-family='"Liberation Sans", sans-serif' font-weight="bold" font-size="40.5" fill="#000"><tspan x="799.2" textLength="114" lengthAdjust="spacingAndGlyphs">6.00 –</tspan><tspan x="963.0" textLength="148" lengthAdjust="spacingAndGlyphs">4.00 Ma</tspan></text>
<rect x="1127.4" y="1651.5" width="485.0" height="634.0" fill="#000"/>
<rect x="1468.2" y="1652.5" width="137.8" height="4.4" fill="#fff"/>
<rect x="1468.2" y="2280.1" width="137.8" height="4.4" fill="#fff"/>
<rect x="1128.4" y="1829.7" width="4.4" height="449.4" fill="#fff"/>
<rect x="1607.0" y="1829.7" width="4.4" height="449.4" fill="#fff"/>
<rect x="1128.4" y="1652.5" width="4.4" height="4.4" fill="#fff"/>
<rect x="1128.4" y="2280.1" width="4.4" height="4.4" fill="#fff"/>
<rect x="1607.0" y="1652.5" width="4.4" height="4.4" fill="#fff"/>
<rect x="1607.0" y="2280.1" width="4.4" height="4.4" fill="#fff"/>
<g shape-rendering="crispEdges">
<path fill="#2509b3" d="M1134 1658h20v20h-20z"/>
<path fill="#2317bb" d="M1154 1658h20v20h-20z"/>
<path fill="#2029c4" d="M1174 1658h19v20h-19z"/>
<path fill="#1d36ca" d="M1193 1658h20v20h-20z"/>
<path fill="#1b46d2" d="M1213 1658h20v20h-20zM1193 1859h20v20h-20zM1193 1919h20v20h-20zM1193 1939h20v20h-20zM1193 1979h20v20h-20zM1193 1999h20v20h-20zM1193 2059h20v20h-20zM1193 2079h20v20h-20z"/>
<path fill="#1a51d8" d="M1233 1658h19v20h-19zM1213 1758h20v20h-20zM1213 1798h20v20h-20zM1213 2139h20v20h-20z"/>
<path fill="#1957da" d="M1252 1658h20v20h-20zM1233 1718h19v20h-19zM1213 1818h20v21h-20zM1213 1879h20v20h-20zM1213 1919h20v20h-20zM1213 1939h20v20h-20zM1213 1979h20v20h-20zM1213 1999h20v20h-20zM1213 2059h20v20h-20zM1213 2079h20v20h-20zM1233 2199h19v20h-19zM1292 2259h19v21h-19zM1567 2259h20v21h-20z"/>
<path fill="#185ddd" d="M1272 1658h20v20h-20zM1252 1698h20v20h-20zM1252 1718h20v20h-20zM1233 1738h19v20h-19zM1233 1798h19v20h-19zM1213 1959h20v20h-20zM1233 2139h19v20h-19zM1252 2219h20v20h-20zM1331 2259h39v21h-39zM1547 2259h20v21h-20z"/>
<path fill="#1862e0" d="M1292 1658h19v20h-19zM1252 1678h20v20h-20zM1272 1698h20v20h-20zM1252 1738h20v20h-20zM1252 1778h20v20h-20zM1233 1919h19v20h-19zM1233 1939h19v20h-19zM1233 1979h19v20h-19zM1233 1999h19v20h-19zM1233 2059h19v20h-19zM1233 2079h19v20h-19zM1272 2219h20v20h-20zM1252 2239h20v20h-20zM1429 2259h79v21h-79z"/>
<path fill="#1765e1" d="M1311 1658h20v20h-20zM1272 1718h20v20h-20zM1252 1798h20v20h-20zM1233 1818h19v21h-19zM1233 1879h19v20h-19zM1233 2019h19v20h-19zM1252 2139h20v20h-20zM1272 2199h20v20h-20z"/>
<path fill="#1768e3" d="M1331 1658h20v20h-20zM1272 1678h20v20h-20zM1292 1698h19v20h-19zM1587 1698h19v20h-19zM1252 1758h20v20h-20zM1252 1839h20v20h-20zM1252 1859h20v20h-20zM1233 1899h19v20h-19zM1233 1959h19v20h-19zM1233 2039h19v20h-19zM1233 2099h19v20h-19zM1252 2119h20v20h-20zM1252 2159h20v20h-20zM1252 2179h20v20h-20zM1292 2219h19v20h-19z"/>
<path fill="#166be4" d="M1351 1658h19v20h-19zM1567 1658h20v20h-20zM1311 1698h20v20h-20zM1292 1718h19v20h-19zM1272 1738h20v20h-20zM1272 1778h20v20h-20zM1272 1798h20v20h-20zM1252 1919h20v20h-20zM1252 1939h20v20h-20zM1252 1979h20v20h-20zM1252 1999h20v20h-20zM1252 2059h20v20h-20zM1252 2079h20v20h-20zM1292 2199h19v20h-19zM1587 2219h19v20h-19zM1272 2239h20v20h-20z"/>
<path fill="#166de6" d="M1370 1658h40v20h-40zM1331 1698h20v20h-20zM1311 1718h20v20h-20zM1587 1718h19v20h-19zM1272 1758h20v20h-20zM1252 1818h20v21h-20zM1272 1839h20v20h-20zM1252 1879h20v20h-20zM1252 2019h20v20h-20zM1272 2119h20v20h-20zM1272 2139h20v20h-20zM1311 2219h20v20h-20z"/>
<path fill="#1670e6" d="M1410 1658h19v20h-19zM1547 1658h20v20h-20zM1292 1678h19v20h-19zM1587 1678h19v20h-19zM1351 1698h19v20h-19zM1331 1718h20v20h-20zM1292 1738h19v20h-19zM1292 1778h19v20h-19zM1272 1859h20v20h-20zM1252 1899h20v20h-20zM1252 2039h20v20h-20zM1252 2099h20v20h-20zM1272 2159h20v20h-20zM1272 2179h20v20h-20zM1311 2199h20v20h-20zM1331 2219h20v20h-20zM1292 2239h19v20h-19z"/>
<path fill="#1674e7" d="M1429 1658h40v20h-40zM1528 1658h19v20h-19zM1370 1698h20v20h-20zM1567 1698h20v20h-20zM1351 1718h19v20h-19zM1292 1798h19v20h-19zM1272 1919h20v20h-20zM1272 1939h20v20h-20zM1252 1959h20v20h-20zM1272 1979h20v20h-20zM1272 1999h20v20h-20zM1272 2059h20v20h-20zM1272 2079h20v20h-20zM1292 2139h19v20h-19zM1331 2199h20v20h-20zM1587 2199h19v20h-19zM1351 2219h19v20h-19zM1587 2239h19v20h-19z"/>
<path fill="#1677e8" d="M1469 1658h59v20h-59zM1311 1678h20v20h-20zM1390 1698h20v20h-20zM1311 1738h20v20h-20zM1292 1758h19v20h-19zM1311 1778h20v20h-20zM1272 1818h20v21h-20zM1292 1839h19v20h-19zM1292 1859h19v20h-19zM1272 1879h20v20h-20zM1272 2019h20v20h-20zM1292 2119h19v20h-19zM1292 2159h19v20h-19zM1292 2179h19v20h-19zM1351 2199h19v20h-19zM1370 2219h20v20h-20zM1567 2219h20v20h-20zM1311 2239h20v20h-20z"/>
<path fill="#185fdf" d="M1587 1658h19v20h-19zM1233 1758h19v20h-19zM1233 1839h19v20h-19zM1233 1859h19v20h-19zM1233 2119h19v20h-19zM1233 2159h19v20h-19zM1233 2179h19v20h-19zM1252 2199h20v20h-20zM1370 2259h59v21h-59zM1508 2259h39v21h-39z"/>
<path fill="#2608b5" d="M1134 1678h20v20h-20zM1134 1698h20v20h-20zM1134 1718h20v20h-20zM1134 2219h20v20h-20zM1134 2239h20v20h-20z"/>
<path fill="#2319bc" d="M1154 1678h20v20h-20zM1154 1698h20v20h-20zM1154 1718h20v20h-20zM1154 2219h20v20h-20zM1154 2239h20v20h-20z"/>
<path fill="#1f2bc4" d="M1174 1678h19v20h-19zM1174 1698h19v20h-19zM1174 1718h19v20h-19zM1174 2219h19v20h-19zM1174 2239h19v20h-19z"/>
<path fill="#1d3ccd" d="M1193 1678h20v20h-20zM1193 1718h20v20h-20zM1193 2199h20v20h-20zM1193 2219h20v20h-20zM1193 2239h20v20h-20z"/>
<path fill="#1a4ed6" d="M1213 1678h20v20h-20zM1213 1738h20v20h-20zM1213 1778h20v20h-20zM1213 2239h20v20h-20zM1252 2259h20v21h-20z"/>
<path fill="#195adc" d="M1233 1678h19v20h-19zM1233 1778h19v20h-19zM1213 1899h20v20h-20zM1213 2019h20v20h-20zM1213 2039h20v20h-20zM1213 2099h20v20h-20zM1233 2239h19v20h-19zM1311 2259h20v21h-20z"/>
<path fill="#167ae8" d="M1331 1678h20v20h-20zM1410 1698h19v20h-19zM1370 1718h20v20h-20zM1567 1718h20v20h-20zM1587 1738h19v20h-19zM1331 1778h20v20h-20zM1587 1778h19v20h-19zM1311 1798h20v20h-20zM1272 1899h20v20h-20zM1292 1919h19v20h-19zM1292 1939h19v20h-19zM1292 1979h19v20h-19zM1292 1999h19v20h-19zM1272 2039h20v20h-20zM1292 2059h19v20h-19zM1292 2079h19v20h-19zM1272 2099h20v20h-20zM1311 2139h20v20h-20zM1390 2219h20v20h-20zM1331 2239h20v20h-20z"/>
<path fill="#167de9" d="M1351 1678h39v20h-39zM1567 1678h20v20h-20zM1429 1698h20v20h-20zM1547 1698h20v20h-20zM1390 1718h20v20h-20zM1331 1738h20v20h-20zM1311 1758h20v20h-20zM1331 1798h20v20h-20zM1311 1839h20v20h-20zM1311 1859h20v20h-20zM1272 1959h20v20h-20zM1311 2119h20v20h-20zM1311 2159h20v20h-20zM1370 2199h20v20h-20zM1410 2219h19v20h-19zM1547 2219h20v20h-20zM1351 2239h19v20h-19z"/>
<path fill="#1681ea" d="M1390 1678h20v20h-20zM1449 1698h20v20h-20zM1528 1698h19v20h-19zM1410 1718h19v20h-19zM1547 1718h20v20h-20zM1351 1738h19v20h-19zM1331 1758h20v20h-20zM1587 1758h19v20h-19zM1351 1778h19v20h-19zM1587 1798h19v20h-19zM1292 1818h19v21h-19zM1331 1839h20v20h-20zM1292 1879h19v20h-19zM1311 1919h20v20h-20zM1311 1939h20v20h-20zM1311 1979h20v20h-20zM1311 1999h20v20h-20zM1292 2019h19v20h-19zM1311 2059h20v20h-20zM1311 2079h20v20h-20zM1331 2119h20v20h-20zM1331 2139h20v20h-20zM1311 2179h20v20h-20zM1390 2199h20v20h-20zM1567 2199h20v20h-20zM1429 2219h20v20h-20zM1370 2239h20v20h-20zM1567 2239h20v20h-20z"/>
<path fill="#1684ea" d="M1410 1678h19v20h-19zM1547 1678h20v20h-20zM1469 1698h59v20h-59zM1429 1718h20v20h-20zM1370 1738h20v20h-20zM1370 1778h20v20h-20zM1351 1798h19v20h-19zM1331 1859h20v20h-20zM1292 1899h19v20h-19zM1292 2039h19v20h-19zM1292 2099h19v20h-19zM1351 2139h19v20h-19zM1587 2139h19v20h-19zM1331 2159h20v20h-20zM1587 2159h19v20h-19zM1331 2179h20v20h-20zM1587 2179h19v20h-19zM1410 2199h19v20h-19zM1449 2219h20v20h-20zM1528 2219h19v20h-19zM1390 2239h39v20h-39z"/>
<path fill="#1687eb" d="M1429 1678h20v20h-20zM1449 1718h20v20h-20zM1508 1718h39v20h-39zM1390 1738h20v20h-20zM1567 1738h20v20h-20zM1351 1758h19v20h-19zM1390 1778h20v20h-20zM1370 1798h20v20h-20zM1351 1839h19v20h-19zM1587 1839h19v20h-19zM1311 1879h20v20h-20zM1331 1919h20v20h-20zM1331 1939h20v20h-20zM1292 1959h19v20h-19zM1331 1979h20v20h-20zM1331 1999h20v20h-20zM1331 2059h20v20h-20zM1331 2079h20v20h-20zM1351 2119h19v20h-19zM1587 2119h19v20h-19zM1370 2139h20v20h-20zM1351 2159h19v20h-19zM1351 2179h19v20h-19zM1429 2199h20v20h-20zM1547 2199h20v20h-20zM1469 2219h59v20h-59zM1429 2239h20v20h-20zM1547 2239h20v20h-20z"/>
<path fill="#168aec" d="M1449 1678h98v20h-98zM1469 1718h39v20h-39zM1410 1738h19v20h-19zM1370 1758h20v20h-20zM1410 1778h19v20h-19zM1567 1778h20v20h-20zM1390 1798h20v20h-20zM1311 1818h20v21h-20zM1370 1839h20v20h-20zM1351 1859h19v20h-19zM1587 1859h19v20h-19zM1311 2019h20v20h-20zM1370 2159h20v20h-20zM1449 2199h20v20h-20zM1449 2239h20v20h-20zM1528 2239h19v20h-19z"/>
<path fill="#1d3acc" d="M1193 1698h20v20h-20z"/>
<path fill="#1b48d3" d="M1213 1698h20v20h-20zM1193 1818h20v21h-20zM1193 1879h20v20h-20zM1193 2019h20v20h-20zM1233 2259h19v21h-19z"/>
<path fill="#1954d9" d="M1233 1698h19v20h-19zM1213 1839h20v20h-20zM1213 1859h20v20h-20zM1213 2119h20v20h-20zM1213 2159h20v20h-20zM1213 2179h20v20h-20zM1233 2219h19v20h-19zM1272 2259h20v21h-20z"/>
<path fill="#1b4cd5" d="M1213 1718h20v20h-20zM1193 1899h20v20h-20zM1193 1959h20v20h-20zM1193 2039h20v20h-20zM1193 2099h20v20h-20zM1213 2199h20v20h-20zM1213 2219h20v20h-20zM1587 2259h19v21h-19z"/>
<path fill="#2609b6" d="M1134 1738h20v20h-20zM1134 1758h20v20h-20zM1134 1778h20v20h-20zM1134 2179h20v20h-20zM1134 2199h20v20h-20z"/>
<path fill="#231bbd" d="M1154 1738h20v20h-20zM1154 1758h20v20h-20zM1154 1778h20v20h-20zM1154 2199h20v20h-20z"/>
<path fill="#1f2dc6" d="M1174 1738h19v20h-19zM1174 1778h19v20h-19zM1174 2199h19v20h-19z"/>
<path fill="#1c40cf" d="M1193 1738h20v20h-20zM1193 1778h20v20h-20zM1213 2259h20v21h-20z"/>
<path fill="#178eec" d="M1429 1738h20v20h-20zM1547 1738h20v20h-20zM1390 1758h20v20h-20zM1567 1758h20v20h-20zM1567 1798h20v20h-20zM1331 1818h20v21h-20zM1370 1859h20v20h-20zM1331 1879h20v20h-20zM1311 1899h20v20h-20zM1351 1919h19v20h-19zM1351 1939h19v20h-19zM1351 1979h19v20h-19zM1351 1999h19v20h-19zM1331 2019h20v20h-20zM1311 2039h20v20h-20zM1351 2059h19v20h-19zM1351 2079h19v20h-19zM1311 2099h20v20h-20zM1370 2119h20v20h-20zM1390 2139h20v20h-20zM1370 2179h20v20h-20zM1469 2199h78v20h-78zM1469 2239h59v20h-59z"/>
<path fill="#1890ec" d="M1449 1738h20v20h-20zM1410 1758h19v20h-19zM1429 1778h20v20h-20zM1547 1778h20v20h-20zM1410 1798h19v20h-19zM1390 1839h20v20h-20zM1331 1899h20v20h-20zM1587 1919h19v20h-19zM1587 1939h19v20h-19zM1311 1959h20v20h-20zM1587 1979h19v20h-19zM1587 1999h19v20h-19zM1587 2059h19v20h-19zM1587 2079h19v20h-19zM1390 2119h20v20h-20zM1410 2139h19v20h-19zM1567 2139h20v20h-20zM1390 2159h20v20h-20zM1390 2179h20v20h-20zM1567 2179h20v20h-20z"/>
<path fill="#1a96ed" d="M1469 1738h39v20h-39zM1547 1758h20v20h-20zM1469 1778h19v20h-19zM1508 1778h39v20h-39zM1449 1798h20v20h-20zM1370 1818h20v21h-20zM1410 1859h19v20h-19zM1567 1859h20v20h-20zM1370 1879h20v20h-20zM1351 1899h19v20h-19zM1390 1919h20v20h-20zM1390 1939h20v20h-20zM1331 1959h20v20h-20zM1390 1979h20v20h-20zM1390 1999h20v20h-20zM1587 2019h19v20h-19zM1351 2039h19v20h-19zM1390 2059h20v20h-20zM1390 2079h20v20h-20zM1429 2139h20v20h-20zM1547 2139h20v20h-20zM1429 2159h20v20h-20zM1429 2179h20v20h-20zM1547 2179h20v20h-20z"/>
<path fill="#1994ec" d="M1508 1738h39v20h-39zM1429 1758h20v20h-20zM1449 1778h20v20h-20zM1429 1798h20v20h-20zM1547 1798h20v20h-20zM1351 1818h19v21h-19zM1587 1818h19v21h-19zM1410 1839h19v20h-19zM1567 1839h20v20h-20zM1390 1859h20v20h-20zM1351 1879h19v20h-19zM1587 1879h19v20h-19zM1370 1919h20v20h-20zM1370 1939h20v20h-20zM1370 1979h20v20h-20zM1370 1999h20v20h-20zM1351 2019h19v20h-19zM1331 2039h20v20h-20zM1370 2059h20v20h-20zM1370 2079h20v20h-20zM1331 2099h20v20h-20zM1410 2119h19v20h-19zM1567 2119h20v20h-20zM1410 2159h19v20h-19zM1567 2159h20v20h-20zM1410 2179h19v20h-19z"/>
<path fill="#1f2fc6" d="M1174 1758h19v20h-19zM1174 1798h19v20h-19zM1174 1839h19v20h-19zM1174 2139h19v20h-19zM1174 2159h19v20h-19zM1174 2179h19v20h-19z"/>
<path fill="#1c42d0" d="M1193 1758h20v20h-20zM1193 1798h20v20h-20zM1193 1839h20v20h-20zM1193 2119h20v20h-20zM1193 2139h20v20h-20zM1193 2159h20v20h-20zM1193 2179h20v20h-20z"/>
<path fill="#1b9aed" d="M1449 1758h20v20h-20zM1528 1758h19v20h-19zM1488 1778h20v20h-20zM1528 1798h19v20h-19zM1429 1839h20v20h-20zM1587 1899h19v20h-19zM1351 1959h19v20h-19zM1370 2019h20v20h-20zM1587 2039h19v20h-19zM1351 2099h19v20h-19zM1587 2099h19v20h-19zM1429 2119h20v20h-20zM1449 2139h20v20h-20zM1547 2159h20v20h-20z"/>
<path fill="#1d9ced" d="M1469 1758h59v20h-59zM1469 1798h59v20h-59zM1390 1818h20v21h-20zM1449 1839h20v20h-20zM1547 1839h20v20h-20zM1429 1859h20v20h-20zM1390 1879h20v20h-20zM1370 1899h20v20h-20zM1410 1919h19v20h-19zM1567 1919h20v20h-20zM1410 1939h19v20h-19zM1567 1939h20v20h-20zM1587 1959h19v20h-19zM1410 1979h19v20h-19zM1567 1979h20v20h-20zM1410 1999h19v20h-19zM1567 1999h20v20h-20zM1390 2019h20v20h-20zM1370 2039h20v20h-20zM1410 2059h19v20h-19zM1567 2059h20v20h-20zM1410 2079h19v20h-19zM1567 2079h20v20h-20zM1370 2099h20v20h-20zM1449 2119h20v20h-20zM1547 2119h20v20h-20zM1469 2139h19v20h-19zM1528 2139h19v20h-19zM1449 2159h20v20h-20zM1449 2179h20v20h-20zM1528 2179h19v20h-19z"/>
<path fill="#260bb7" d="M1134 1798h20v20h-20zM1134 1818h20v21h-20zM1134 1839h20v20h-20zM1134 1859h20v20h-20zM1134 2119h20v20h-20zM1134 2139h20v20h-20zM1134 2159h20v20h-20z"/>
<path fill="#221dbe" d="M1154 1798h20v20h-20zM1154 1839h20v20h-20zM1154 2119h20v20h-20zM1154 2139h20v20h-20zM1154 2159h20v20h-20zM1154 2179h20v20h-20z"/>
<path fill="#221fbe" d="M1154 1818h20v21h-20zM1154 1859h20v20h-20zM1154 1879h20v20h-20zM1154 1919h20v20h-20zM1154 1939h20v20h-20zM1154 1979h20v20h-20zM1154 1999h20v20h-20zM1154 2019h20v20h-20zM1154 2059h20v20h-20zM1154 2079h20v20h-20zM1154 2099h20v20h-20z"/>
<path fill="#1e31c8" d="M1174 1818h19v21h-19zM1174 1859h19v20h-19zM1174 1919h19v20h-19zM1174 1939h19v20h-19zM1174 1979h19v20h-19zM1174 1999h19v20h-19zM1174 2059h19v20h-19zM1174 2079h19v20h-19zM1174 2119h19v20h-19zM1193 2259h20v21h-20z"/>
<path fill="#1ea0ed" d="M1410 1818h19v21h-19zM1567 1818h20v21h-20zM1449 1859h20v20h-20zM1547 1859h20v20h-20zM1410 1879h19v20h-19zM1390 1899h20v20h-20zM1429 1919h20v20h-20zM1429 1939h20v20h-20zM1370 1959h20v20h-20zM1429 1979h20v20h-20zM1429 1999h20v20h-20zM1429 2059h20v20h-20zM1429 2079h20v20h-20zM1488 2139h40v20h-40zM1469 2159h19v20h-19zM1508 2159h39v20h-39zM1469 2179h59v20h-59z"/>
<path fill="#1fa2ee" d="M1429 1818h20v21h-20zM1469 1839h78v20h-78zM1567 1879h20v20h-20zM1410 2019h19v20h-19zM1567 2019h20v20h-20zM1390 2039h20v20h-20zM1390 2099h20v20h-20zM1469 2119h19v20h-19zM1508 2119h39v20h-39zM1488 2159h20v20h-20z"/>
<path fill="#21a8ee" d="M1449 1818h20v21h-20zM1488 1859h20v20h-20zM1449 1879h20v20h-20zM1547 1879h20v20h-20zM1410 1959h19v20h-19zM1429 2019h20v20h-20zM1567 2039h20v20h-20z"/>
<path fill="#22abee" d="M1469 1818h19v21h-19zM1508 1818h39v21h-39zM1429 1899h20v20h-20zM1469 1919h19v20h-19zM1508 1919h39v20h-39zM1469 1939h19v20h-19zM1508 1939h39v20h-39zM1567 1959h20v20h-20zM1469 1979h19v20h-19zM1508 1979h39v20h-39zM1469 1999h19v20h-19zM1508 1999h39v20h-39zM1449 2019h20v20h-20zM1547 2019h20v20h-20zM1429 2039h20v20h-20zM1469 2059h19v20h-19zM1508 2059h39v20h-39zM1469 2079h19v20h-19zM1508 2079h39v20h-39zM1429 2099h20v20h-20z"/>
<path fill="#23aeee" d="M1488 1818h20v21h-20zM1469 1879h19v20h-19zM1508 1879h39v20h-39zM1449 1899h20v20h-20zM1547 1899h20v20h-20zM1488 1919h20v20h-20zM1488 1939h20v20h-20zM1429 1959h20v20h-20zM1488 1979h20v20h-20zM1488 1999h20v20h-20zM1449 2039h20v20h-20zM1547 2039h20v20h-20zM1488 2059h20v20h-20zM1488 2079h20v20h-20zM1449 2099h20v20h-20zM1547 2099h20v20h-20z"/>
<path fill="#20a6ee" d="M1547 1818h20v21h-20zM1469 1859h19v20h-19zM1508 1859h39v20h-39zM1429 1879h20v20h-20zM1410 1899h19v20h-19zM1567 1899h20v20h-20zM1449 1919h20v20h-20zM1547 1919h20v20h-20zM1449 1939h20v20h-20zM1547 1939h20v20h-20zM1390 1959h20v20h-20zM1449 1979h20v20h-20zM1547 1979h20v20h-20zM1449 1999h20v20h-20zM1547 1999h20v20h-20zM1410 2039h19v20h-19zM1449 2059h20v20h-20zM1547 2059h20v20h-20zM1449 2079h20v20h-20zM1547 2079h20v20h-20zM1410 2099h19v20h-19zM1567 2099h20v20h-20zM1488 2119h20v20h-20z"/>
<path fill="#250db8" d="M1134 1879h20v20h-20zM1134 1899h20v20h-20zM1134 1919h20v20h-20zM1134 1939h20v20h-20zM1134 1959h20v20h-20zM1134 1979h20v20h-20zM1134 1999h20v20h-20zM1134 2019h20v20h-20zM1134 2039h20v20h-20zM1134 2059h20v20h-20zM1134 2079h20v20h-20zM1134 2099h20v20h-20z"/>
<path fill="#1e34c9" d="M1174 1879h19v20h-19zM1174 1899h19v20h-19zM1174 1959h19v20h-19zM1174 2019h19v20h-19zM1174 2039h19v20h-19zM1174 2099h19v20h-19z"/>
<path fill="#24b1ee" d="M1488 1879h20v20h-20zM1449 1959h20v20h-20zM1547 1959h20v20h-20zM1469 2019h19v20h-19zM1508 2019h39v20h-39z"/>
<path fill="#2121c0" d="M1154 1899h20v20h-20zM1154 1959h20v20h-20zM1154 2039h20v20h-20z"/>
<path fill="#25b4ee" d="M1469 1899h19v20h-19zM1508 1899h39v20h-39zM1488 2019h20v20h-20zM1469 2039h19v20h-19zM1508 2039h39v20h-39zM1469 2099h19v20h-19zM1508 2099h39v20h-39z"/>
<path fill="#26b7ee" d="M1488 1899h20v20h-20zM1469 1959h19v20h-19zM1528 1959h19v20h-19zM1488 2039h20v20h-20zM1488 2099h20v20h-20z"/>
<path fill="#26baee" d="M1488 1959h40v20h-40z"/>
<path fill="#2509b2" d="M1134 2259h20v21h-20z"/>
<path fill="#2413ba" d="M1154 2259h20v21h-20z"/>
<path fill="#2125c2" d="M1174 2259h19v21h-19z"/>
</g>
<g fill="#000"><circle cx="1271.3" cy="1689.1" r="12.0"/><circle cx="1320.6" cy="1689.1" r="12.0"/><circle cx="1369.8" cy="1689.1" r="12.0"/><circle cx="1419.0" cy="1689.1" r="12.0"/><circle cx="1468.2" cy="1689.1" r="12.0"/><circle cx="1517.4" cy="1689.1" r="12.0"/><circle cx="1566.7" cy="1689.1" r="12.0"/><circle cx="1271.3" cy="1759.4" r="12.0"/><circle cx="1320.6" cy="1759.4" r="12.0"/><circle cx="1369.8" cy="1759.4" r="12.0"/><circle cx="1419.0" cy="1759.4" r="12.0"/><circle cx="1468.2" cy="1759.4" r="12.0"/><circle cx="1517.4" cy="1759.4" r="12.0"/><circle cx="1566.7" cy="1759.4" r="12.0"/><circle cx="1271.3" cy="1829.7" r="12.0"/><circle cx="1320.6" cy="1829.7" r="12.0"/><circle cx="1369.8" cy="1829.7" r="12.0"/><circle cx="1419.0" cy="1829.7" r="12.0"/><circle cx="1468.2" cy="1829.7" r="12.0"/><circle cx="1517.4" cy="1829.7" r="12.0"/><circle cx="1566.7" cy="1829.7" r="12.0"/><circle cx="1271.3" cy="1899.9" r="12.0"/><circle cx="1320.6" cy="1899.9" r="12.0"/><circle cx="1369.8" cy="1899.9" r="12.0"/><circle cx="1419.0" cy="1899.9" r="12.0"/><circle cx="1468.2" cy="1899.9" r="12.0"/><circle cx="1517.4" cy="1899.9" r="12.0"/><circle cx="1566.7" cy="1899.9" r="12.0"/><circle cx="1271.3" cy="1970.2" r="12.0"/><circle cx="1320.6" cy="1970.2" r="12.0"/><circle cx="1369.8" cy="1970.2" r="12.0"/><circle cx="1419.0" cy="1970.2" r="12.0"/><circle cx="1468.2" cy="1970.2" r="12.0"/><circle cx="1517.4" cy="1970.2" r="12.0"/><circle cx="1566.7" cy="1970.2" r="12.0"/><circle cx="1271.3" cy="2040.5" r="12.0"/><circle cx="1320.6" cy="2040.5" r="12.0"/><circle cx="1369.8" cy="2040.5" r="12.0"/><circle cx="1419.0" cy="2040.5" r="12.0"/><circle cx="1468.2" cy="2040.5" r="12.0"/><circle cx="1517.4" cy="2040.5" r="12.0"/><circle cx="1566.7" cy="2040.5" r="12.0"/><circle cx="1271.3" cy="2110.8" r="12.0"/><circle cx="1320.6" cy="2110.8" r="12.0"/><circle cx="1369.8" cy="2110.8" r="12.0"/><circle cx="1419.0" cy="2110.8" r="12.0"/><circle cx="1468.2" cy="2110.8" r="12.0"/><circle cx="1517.4" cy="2110.8" r="12.0"/><circle cx="1566.7" cy="2110.8" r="12.0"/><circle cx="1271.3" cy="2181.1" r="12.0"/><circle cx="1320.6" cy="2181.1" r="12.0"/><circle cx="1369.8" cy="2181.1" r="12.0"/><circle cx="1419.0" cy="2181.1" r="12.0"/><circle cx="1468.2" cy="2181.1" r="12.0"/><circle cx="1517.4" cy="2181.1" r="12.0"/><circle cx="1566.7" cy="2181.1" r="12.0"/><circle cx="1271.3" cy="2251.3" r="12.0"/><circle cx="1320.6" cy="2251.3" r="12.0"/><circle cx="1369.8" cy="2251.3" r="12.0"/><circle cx="1419.0" cy="2251.3" r="12.0"/><circle cx="1468.2" cy="2251.3" r="12.0"/><circle cx="1517.4" cy="2251.3" r="12.0"/><circle cx="1566.7" cy="2251.3" r="12.0"/></g>
<path d="M1619.6 1564.0H1295.6V1608.2H1619.6" fill="none" stroke="#000" stroke-width="1.2"/>
<text y="1600.7" font-family='"Liberation Sans", sans-serif' font-weight="bold" font-size="40.5" fill="#000"><tspan x="1301.4" textLength="114" lengthAdjust="spacingAndGlyphs">6.00 –</tspan><tspan x="1465.2" textLength="148" lengthAdjust="spacingAndGlyphs">4.00 Ma</tspan></text>
<rect x="1230.8" y="164.7" width="152.1" height="12.5" fill="#000"/>
<text y="218.2" font-family='"Liberation Sans", sans-serif' font-size="38.5" fill="#000" stroke="#000" stroke-width="0.3"><tspan x="1205" textLength="83" lengthAdjust="spacingAndGlyphs">Corr.</tspan><tspan x="1295.4" textLength="122" lengthAdjust="spacingAndGlyphs">Length</tspan></text>
<text font-family='"Liberation Sans", sans-serif' fill="#000" stroke="#000" stroke-width="0.9"><tspan x="2.79" y="57.62" font-size="72.85" textLength="20.99" lengthAdjust="spacingAndGlyphs">(</tspan><tspan x="25.29" y="63.13" font-size="76.82" textLength="34.51" lengthAdjust="spacingAndGlyphs">a</tspan><tspan x="67.73" y="57.62" font-size="72.85" textLength="20.48" lengthAdjust="spacingAndGlyphs">)</tspan></text>
<text font-family='"Liberation Sans", sans-serif' fill="#000" stroke="#000" stroke-width="0.9"><tspan x="0.89" y="2497.64" font-size="72.75" textLength="20.99" lengthAdjust="spacingAndGlyphs">(</tspan><tspan x="24.33" y="2503.08" font-size="81.63" textLength="47.67" lengthAdjust="spacingAndGlyphs">b</tspan><tspan x="72.33" y="2497.64" font-size="72.75" textLength="20.73" lengthAdjust="spacingAndGlyphs">)</tspan></text>
<text font-family='"Liberation Sans", sans-serif' fill="#000" stroke="#000" stroke-width="0.9"><tspan x="681.89" y="2525.82" font-size="72.85" textLength="20.99" lengthAdjust="spacingAndGlyphs">(</tspan><tspan x="704.73" y="2531.13" font-size="76.64" textLength="36.57" lengthAdjust="spacingAndGlyphs">c</tspan><tspan x="743.53" y="2525.82" font-size="72.85" textLength="20.36" lengthAdjust="spacingAndGlyphs">)</tspan></text>
<text y="2506.6" font-family='"Liberation Sans", sans-serif' font-size="47.5" fill="#000" stroke="#000" stroke-width="0.3"><tspan x="151.4" textLength="92" lengthAdjust="spacingAndGlyphs">True</tspan><tspan x="255.2" textLength="176" lengthAdjust="spacingAndGlyphs">Solution</tspan></text>
<path d="M245.6 2297.4c-3.6 3.6-4.8 7-4.8 9.6c0 3.4 1.6 6 4.6 7.6M241.2 2306.4h4.2" fill="none" stroke="#000" stroke-width="1.9"/>
<path d="M1247.8 2524.6l0.6-2.6l6.6-2.2l-2.4 4.2z" fill="#000"/>
<rect x="186.0" y="2337.1" width="358.0" height="32.6" fill="#000"/>
<rect x="189.4" y="2340.5" width="351.2" height="25.8" fill="url(#g1)"/>
<rect x="189.4" y="2340.5" width="351.2" height="25.8" fill="url(#shade)"/>
<rect x="687.8" y="2337.1" width="358.0" height="32.6" fill="#000"/>
<rect x="691.2" y="2340.5" width="351.2" height="25.8" fill="url(#g2)"/>
<rect x="691.2" y="2340.5" width="351.2" height="25.8" fill="url(#shade)"/>
<rect x="1190.0" y="2337.1" width="358.0" height="32.6" fill="#000"/>
<rect x="1193.4" y="2340.5" width="351.2" height="25.8" fill="url(#g3)"/>
<rect x="1193.4" y="2340.5" width="351.2" height="25.8" fill="url(#shade)"/>
<text x="187.8" y="2396.0" font-family='"Liberation Sans", sans-serif' font-size="23.5" font-weight="normal" text-anchor="middle" fill="#000">0.0</text>
<text x="329.7" y="2396.0" font-family='"Liberation Sans", sans-serif' font-size="23.5" font-weight="normal" text-anchor="middle" fill="#000">0.4</text>
<text x="471.6" y="2396.0" font-family='"Liberation Sans", sans-serif' font-size="23.5" font-weight="normal" text-anchor="middle" fill="#000">0.8</text>
<text x="365.2" y="2436.6" font-family='"Liberation Sans", sans-serif' font-size="33.4" font-weight="normal" text-anchor="middle" fill="#000">mm/yr</text>
<text x="689.5" y="2396.0" font-family='"Liberation Sans", sans-serif' font-size="23.5" font-weight="normal" text-anchor="middle" fill="#000">0.0</text>
<text x="760.5" y="2396.0" font-family='"Liberation Sans", sans-serif' font-size="23.5" font-weight="normal" text-anchor="middle" fill="#000">0.2</text>
<text x="831.4" y="2396.0" font-family='"Liberation Sans", sans-serif' font-size="23.5" font-weight="normal" text-anchor="middle" fill="#000">0.4</text>
<text x="902.4" y="2396.0" font-family='"Liberation Sans", sans-serif' font-size="23.5" font-weight="normal" text-anchor="middle" fill="#000">0.6</text>
<text x="973.3" y="2396.0" font-family='"Liberation Sans", sans-serif' font-size="23.5" font-weight="normal" text-anchor="middle" fill="#000">0.8</text>
<text x="1044.2" y="2396.0" font-family='"Liberation Sans", sans-serif' font-size="23.5" font-weight="normal" text-anchor="middle" fill="#000">1.0</text>
<text x="867.1" y="2436.6" font-family='"Liberation Sans", sans-serif' font-size="34.1" font-weight="normal" text-anchor="middle" fill="#000">resolution</text>
<text x="1191.8" y="2396.0" font-family='"Liberation Sans", sans-serif' font-size="23.5" font-weight="normal" text-anchor="middle" fill="#000">0.00</text>
<text x="1280.7" y="2396.0" font-family='"Liberation Sans", sans-serif' font-size="23.5" font-weight="normal" text-anchor="middle" fill="#000">0.25</text>
<text x="1369.6" y="2396.0" font-family='"Liberation Sans", sans-serif' font-size="23.5" font-weight="normal" text-anchor="middle" fill="#000">0.50</text>
<text x="1458.5" y="2396.0" font-family='"Liberation Sans", sans-serif' font-size="23.5" font-weight="normal" text-anchor="middle" fill="#000">0.75</text>
<text x="1547.4" y="2396.0" font-family='"Liberation Sans", sans-serif' font-size="23.5" font-weight="normal" text-anchor="middle" fill="#000">1.00</text>
<text x="1368.8" y="2436.6" font-family='"Liberation Sans", sans-serif' font-size="33.5" font-weight="normal" text-anchor="middle" fill="#000">reduced variance</text>
<rect x="133.3" y="2524.2" width="485.2" height="632.6" fill="#000"/>
<rect x="277.8" y="2525.2" width="196.9" height="4.4" fill="#fff"/>
<rect x="277.8" y="3151.4" width="196.9" height="4.4" fill="#fff"/>
<rect x="134.3" y="2702.0" width="4.4" height="281.1" fill="#fff"/>
<rect x="613.1" y="2702.0" width="4.4" height="281.1" fill="#fff"/>
<rect x="134.3" y="2525.2" width="4.4" height="4.4" fill="#fff"/>
<rect x="134.3" y="3151.4" width="4.4" height="4.4" fill="#fff"/>
<rect x="613.1" y="2525.2" width="4.4" height="4.4" fill="#fff"/>
<rect x="613.1" y="3151.4" width="4.4" height="4.4" fill="#fff"/>
<g shape-rendering="crispEdges">
<path fill="#debd5f" d="M140 2531h20v620h-20z"/>
<path fill="#e2c361" d="M160 2531h19v620h-19z"/>
<path fill="#e4cb68" d="M179 2531h20v620h-20z"/>
<path fill="#dfd170" d="M199 2531h20v620h-20z"/>
<path fill="#d4d978" d="M219 2531h20v620h-20z"/>
<path fill="#c5e27e" d="M239 2531h19v620h-19z"/>
<path fill="#acea8c" d="M258 2531h20v620h-20z"/>
<path fill="#8deca4" d="M278 2531h20v620h-20z"/>
<path fill="#72ecbe" d="M298 2531h19v620h-19z"/>
<path fill="#50ecdc" d="M317 2531h20v620h-20z"/>
<path fill="#31e4ec" d="M337 2531h20v620h-20z"/>
<path fill="#2ac5ee" d="M357 2531h19v620h-19z"/>
<path fill="#1fa2ee" d="M376 2531h20v620h-20z"/>
<path fill="#1687eb" d="M396 2531h20v620h-20z"/>
<path fill="#166be4" d="M416 2531h19v620h-19z"/>
<path fill="#1b4cd5" d="M435 2531h20v620h-20z"/>
<path fill="#1f2fc6" d="M455 2531h20v620h-20z"/>
<path fill="#2319bc" d="M475 2531h19v620h-19z"/>
<path fill="#2608b5" d="M494 2531h20v620h-20z"/>
<path fill="#210da8" d="M514 2531h20v620h-20z"/>
<path fill="#1e129e" d="M534 2531h19v620h-19z"/>
<path fill="#1c1598" d="M553 2531h20v620h-20z"/>
<path fill="#1c1697" d="M573 2531h20v620h-20z"/>
<path fill="#1b1893" d="M593 2531h19v620h-19z"/>
</g>
<g fill="#fff" stroke="#000" stroke-width="0.8"><circle cx="179.4" cy="2561.4" r="12"/><circle cx="228.6" cy="2561.4" r="12"/><circle cx="277.7" cy="2561.4" r="12"/><circle cx="326.9" cy="2561.4" r="12"/><circle cx="376.0" cy="2561.4" r="12"/><circle cx="425.1" cy="2561.4" r="12"/><circle cx="474.3" cy="2561.4" r="12"/><circle cx="523.5" cy="2561.4" r="12"/><circle cx="572.6" cy="2561.4" r="12"/><circle cx="179.4" cy="2631.7" r="12"/><circle cx="228.6" cy="2631.7" r="12"/><circle cx="277.7" cy="2631.7" r="12"/><circle cx="326.9" cy="2631.7" r="12"/><circle cx="376.0" cy="2631.7" r="12"/><circle cx="425.1" cy="2631.7" r="12"/><circle cx="474.3" cy="2631.7" r="12"/><circle cx="523.5" cy="2631.7" r="12"/><circle cx="572.6" cy="2631.7" r="12"/><circle cx="179.4" cy="2702.0" r="12"/><circle cx="228.6" cy="2702.0" r="12"/><circle cx="277.7" cy="2702.0" r="12"/><circle cx="326.9" cy="2702.0" r="12"/><circle cx="376.0" cy="2702.0" r="12"/><circle cx="425.1" cy="2702.0" r="12"/><circle cx="474.3" cy="2702.0" r="12"/><circle cx="523.5" cy="2702.0" r="12"/><circle cx="572.6" cy="2702.0" r="12"/><circle cx="179.4" cy="2772.3" r="12"/><circle cx="228.6" cy="2772.3" r="12"/><circle cx="277.7" cy="2772.3" r="12"/><circle cx="326.9" cy="2772.3" r="12"/><circle cx="376.0" cy="2772.3" r="12"/><circle cx="425.1" cy="2772.3" r="12"/><circle cx="474.3" cy="2772.3" r="12"/><circle cx="523.5" cy="2772.3" r="12"/><circle cx="572.6" cy="2772.3" r="12"/><circle cx="179.4" cy="2842.6" r="12"/><circle cx="228.6" cy="2842.6" r="12"/><circle cx="277.7" cy="2842.6" r="12"/><circle cx="326.9" cy="2842.6" r="12"/><circle cx="376.0" cy="2842.6" r="12"/><circle cx="425.1" cy="2842.6" r="12"/><circle cx="474.3" cy="2842.6" r="12"/><circle cx="523.5" cy="2842.6" r="12"/><circle cx="572.6" cy="2842.6" r="12"/><circle cx="179.4" cy="2912.9" r="12"/><circle cx="228.6" cy="2912.9" r="12"/><circle cx="277.7" cy="2912.9" r="12"/><circle cx="326.9" cy="2912.9" r="12"/><circle cx="376.0" cy="2912.9" r="12"/><circle cx="425.1" cy="2912.9" r="12"/><circle cx="474.3" cy="2912.9" r="12"/><circle cx="523.5" cy="2912.9" r="12"/><circle cx="572.6" cy="2912.9" r="12"/><circle cx="179.4" cy="2983.2" r="12"/><circle cx="228.6" cy="2983.2" r="12"/><circle cx="277.7" cy="2983.2" r="12"/><circle cx="326.9" cy="2983.2" r="12"/><circle cx="376.0" cy="2983.2" r="12"/><circle cx="425.1" cy="2983.2" r="12"/><circle cx="474.3" cy="2983.2" r="12"/><circle cx="523.5" cy="2983.2" r="12"/><circle cx="572.6" cy="2983.2" r="12"/><circle cx="179.4" cy="3053.5" r="12"/><circle cx="228.6" cy="3053.5" r="12"/><circle cx="277.7" cy="3053.5" r="12"/><circle cx="326.9" cy="3053.5" r="12"/><circle cx="376.0" cy="3053.5" r="12"/><circle cx="425.1" cy="3053.5" r="12"/><circle cx="474.3" cy="3053.5" r="12"/><circle cx="523.5" cy="3053.5" r="12"/><circle cx="572.6" cy="3053.5" r="12"/><circle cx="179.4" cy="3123.8" r="12"/><circle cx="228.6" cy="3123.8" r="12"/><circle cx="277.7" cy="3123.8" r="12"/><circle cx="326.9" cy="3123.8" r="12"/><circle cx="376.0" cy="3123.8" r="12"/><circle cx="425.1" cy="3123.8" r="12"/><circle cx="474.3" cy="3123.8" r="12"/><circle cx="523.5" cy="3123.8" r="12"/><circle cx="572.6" cy="3123.8" r="12"/></g>
<rect x="196.4" y="3209.6" width="358.0" height="31.8" fill="#000"/>
<rect x="199.8" y="3213.0" width="351.2" height="25.0" fill="url(#g4)"/>
<rect x="199.8" y="3213.0" width="351.2" height="25.0" fill="url(#shade)"/>
<text x="198.2" y="3267.3" font-family='"Liberation Sans", sans-serif' font-size="23.5" font-weight="normal" text-anchor="middle" fill="#222">0.0</text>
<text x="339.9" y="3267.3" font-family='"Liberation Sans", sans-serif' font-size="23.5" font-weight="normal" text-anchor="middle" fill="#222">0.4</text>
<text x="481.6" y="3267.3" font-family='"Liberation Sans", sans-serif' font-size="23.5" font-weight="normal" text-anchor="middle" fill="#222">0.8</text>
<text x="376.0" y="3309.0" font-family='"Liberation Sans", sans-serif' font-size="33.1" font-weight="normal" text-anchor="middle" fill="#222">mm/yr</text>
<g stroke="#111" stroke-width="1">
<rect x="926.7" y="3034.7" width="34.0" height="111.1" fill="#0000ff"/>
<rect x="926.7" y="2757.1" width="34.0" height="277.6" fill="#00ff00"/>
<rect x="960.6" y="2979.2" width="34.0" height="166.6" fill="#0000ff"/>
<rect x="960.6" y="2868.2" width="34.0" height="111.1" fill="#00ff00"/>
<rect x="960.6" y="2757.1" width="34.0" height="111.1" fill="#ffff00"/>
<rect x="994.6" y="3090.3" width="34.0" height="55.5" fill="#0000ff"/>
<rect x="994.6" y="2979.2" width="34.0" height="111.1" fill="#ff0000"/>
<rect x="994.6" y="2923.7" width="34.0" height="55.5" fill="#00ff00"/>
<rect x="994.6" y="2812.6" width="34.0" height="111.1" fill="#ffff00"/>
<rect x="1028.5" y="3090.3" width="34.0" height="55.5" fill="#0000ff"/>
<rect x="1028.5" y="2979.2" width="34.0" height="111.1" fill="#ff0000"/>
<rect x="1028.5" y="2923.7" width="34.0" height="55.5" fill="#00ff00"/>
<rect x="1028.5" y="2868.2" width="34.0" height="55.5" fill="#ffff00"/>
<rect x="1062.5" y="3090.3" width="34.0" height="55.5" fill="#0000ff"/>
<rect x="1062.5" y="3034.7" width="34.0" height="55.5" fill="#ff0000"/>
<rect x="1062.5" y="2979.2" width="34.0" height="55.5" fill="#ffff00"/>
<rect x="1096.5" y="3090.3" width="34.0" height="55.5" fill="#ffff00"/>
<rect x="1130.4" y="3090.3" width="34.0" height="55.5" fill="#ff0000"/>
<rect x="1164.4" y="3090.3" width="34.0" height="55.5" fill="#0000ff"/>
<rect x="1164.4" y="3034.7" width="34.0" height="55.5" fill="#ff0000"/>
<rect x="1198.3" y="3090.3" width="34.0" height="55.5" fill="#ffff00"/>
<rect x="1266.3" y="3090.3" width="34.0" height="55.5" fill="#ff0000"/>
<rect x="1334.2" y="3090.3" width="34.0" height="55.5" fill="#ffff00"/>
<rect x="1470.0" y="3090.3" width="34.0" height="55.5" fill="#ff0000"/>
</g>
<path d="M892.7 3145.8v-6M892.7 2528.8v6M960.6 3145.8v-6M960.6 2528.8v6M1028.5 3145.8v-6M1028.5 2528.8v6M1096.5 3145.8v-6M1096.5 2528.8v6M1164.4 3145.8v-6M1164.4 2528.8v6M1232.3 3145.8v-6M1232.3 2528.8v6M1300.2 3145.8v-6M1300.2 2528.8v6M1368.2 3145.8v-6M1368.2 2528.8v6M1436.1 3145.8v-6M1436.1 2528.8v6M1504.0 3145.8v-6M1504.0 2528.8v6M892.7 3145.8h6M1504.0 3145.8h-6M892.7 3084.1h6M1504.0 3084.1h-6M892.7 3022.4h6M1504.0 3022.4h-6M892.7 2960.7h6M1504.0 2960.7h-6M892.7 2899.0h6M1504.0 2899.0h-6M892.7 2837.3h6M1504.0 2837.3h-6M892.7 2775.6h6M1504.0 2775.6h-6M892.7 2713.9h6M1504.0 2713.9h-6M892.7 2652.2h6M1504.0 2652.2h-6M892.7 2590.5h6M1504.0 2590.5h-6M892.7 2528.8h6M1504.0 2528.8h-6" stroke="#303030" stroke-width="1.2" fill="none"/>
<rect x="892.7" y="2528.8" width="611.3" height="617.0" fill="none" stroke="#303030" stroke-width="1.4"/>
<text x="892.1" y="3184.2" font-family='"Liberation Sans", sans-serif' font-size="28.0" font-weight="normal" text-anchor="middle" fill="#262626">0</text>
<text x="960.0" y="3184.2" font-family='"Liberation Sans", sans-serif' font-size="28.0" font-weight="normal" text-anchor="middle" fill="#262626">4</text>
<text x="1027.9" y="3184.2" font-family='"Liberation Sans", sans-serif' font-size="28.0" font-weight="normal" text-anchor="middle" fill="#262626">8</text>
<text x="1095.9" y="3184.2" font-family='"Liberation Sans", sans-serif' font-size="28.0" font-weight="normal" text-anchor="middle" fill="#262626">12</text>
<text x="1163.8" y="3184.2" font-family='"Liberation Sans", sans-serif' font-size="28.0" font-weight="normal" text-anchor="middle" fill="#262626">16</text>
<text x="1231.7" y="3184.2" font-family='"Liberation Sans", sans-serif' font-size="28.0" font-weight="normal" text-anchor="middle" fill="#262626">20</text>
<text x="1299.6" y="3184.2" font-family='"Liberation Sans", sans-serif' font-size="28.0" font-weight="normal" text-anchor="middle" fill="#262626">24</text>
<text x="1367.6" y="3184.2" font-family='"Liberation Sans", sans-serif' font-size="28.0" font-weight="normal" text-anchor="middle" fill="#262626">28</text>
<text x="1435.5" y="3184.2" font-family='"Liberation Sans", sans-serif' font-size="28.0" font-weight="normal" text-anchor="middle" fill="#262626">32</text>
<text x="1503.4" y="3184.2" font-family='"Liberation Sans", sans-serif' font-size="28.0" font-weight="normal" text-anchor="middle" fill="#262626">36</text>
<text x="882.3" y="3156.2" font-family='"Liberation Sans", sans-serif' font-size="28.0" font-weight="normal" text-anchor="end" fill="#262626">0</text>
<text x="882.3" y="3094.5" font-family='"Liberation Sans", sans-serif' font-size="28.0" font-weight="normal" text-anchor="end" fill="#262626">10</text>
<text x="882.3" y="3032.8" font-family='"Liberation Sans", sans-serif' font-size="28.0" font-weight="normal" text-anchor="end" fill="#262626">20</text>
<text x="882.3" y="2971.1" font-family='"Liberation Sans", sans-serif' font-size="28.0" font-weight="normal" text-anchor="end" fill="#262626">30</text>
<text x="882.3" y="2909.4" font-family='"Liberation Sans", sans-serif' font-size="28.0" font-weight="normal" text-anchor="end" fill="#262626">40</text>
<text x="882.3" y="2847.7" font-family='"Liberation Sans", sans-serif' font-size="28.0" font-weight="normal" text-anchor="end" fill="#262626">50</text>
<text x="882.3" y="2786.0" font-family='"Liberation Sans", sans-serif' font-size="28.0" font-weight="normal" text-anchor="end" fill="#262626">60</text>
<text x="882.3" y="2724.3" font-family='"Liberation Sans", sans-serif' font-size="28.0" font-weight="normal" text-anchor="end" fill="#262626">70</text>
<text x="882.3" y="2662.6" font-family='"Liberation Sans", sans-serif' font-size="28.0" font-weight="normal" text-anchor="end" fill="#262626">80</text>
<text x="882.3" y="2600.9" font-family='"Liberation Sans", sans-serif' font-size="28.0" font-weight="normal" text-anchor="end" fill="#262626">90</text>
<text x="882.3" y="2539.2" font-family='"Liberation Sans", sans-serif' font-size="28.0" font-weight="normal" text-anchor="end" fill="#262626">100</text>
<text x="1199.6" y="3222.3" font-family='"Liberation Sans", sans-serif' font-size="31.9" font-weight="normal" text-anchor="middle" fill="#262626">Age (Ma)</text>
<text transform="translate(821.2 2836.8) rotate(-90)" font-family='"Liberation Sans", sans-serif' font-size="31.6" text-anchor="middle" fill="#262626">Frequency</text>
<rect x="1367.4" y="2543.6" width="122.6" height="135.7" fill="#fff" stroke="#222" stroke-width="1.2"/>
<rect x="1374.3" y="2550.9" width="53.9" height="23.8" fill="#ffff00" stroke="#111" stroke-width="1"/>
<text x="1432.2" y="2571.8" font-family='"Liberation Sans", sans-serif' font-size="25.4" font-weight="normal" text-anchor="start" fill="#111">ZHe</text>
<rect x="1374.3" y="2583.2" width="53.9" height="23.8" fill="#00ff00" stroke="#111" stroke-width="1"/>
<text x="1432.2" y="2604.2" font-family='"Liberation Sans", sans-serif' font-size="25.4" font-weight="normal" text-anchor="start" fill="#111">AHe</text>
<rect x="1374.3" y="2615.6" width="53.9" height="23.8" fill="#ff0000" stroke="#111" stroke-width="1"/>
<text x="1432.2" y="2636.5" font-family='"Liberation Sans", sans-serif' font-size="25.4" font-weight="normal" text-anchor="start" fill="#111">ZFT</text>
<rect x="1374.3" y="2648.0" width="53.9" height="23.8" fill="#0000ff" stroke="#111" stroke-width="1"/>
<text x="1432.2" y="2668.9" font-family='"Liberation Sans", sans-serif' font-size="25.4" font-weight="normal" text-anchor="start" fill="#111">AFT</text></svg></body></html>
